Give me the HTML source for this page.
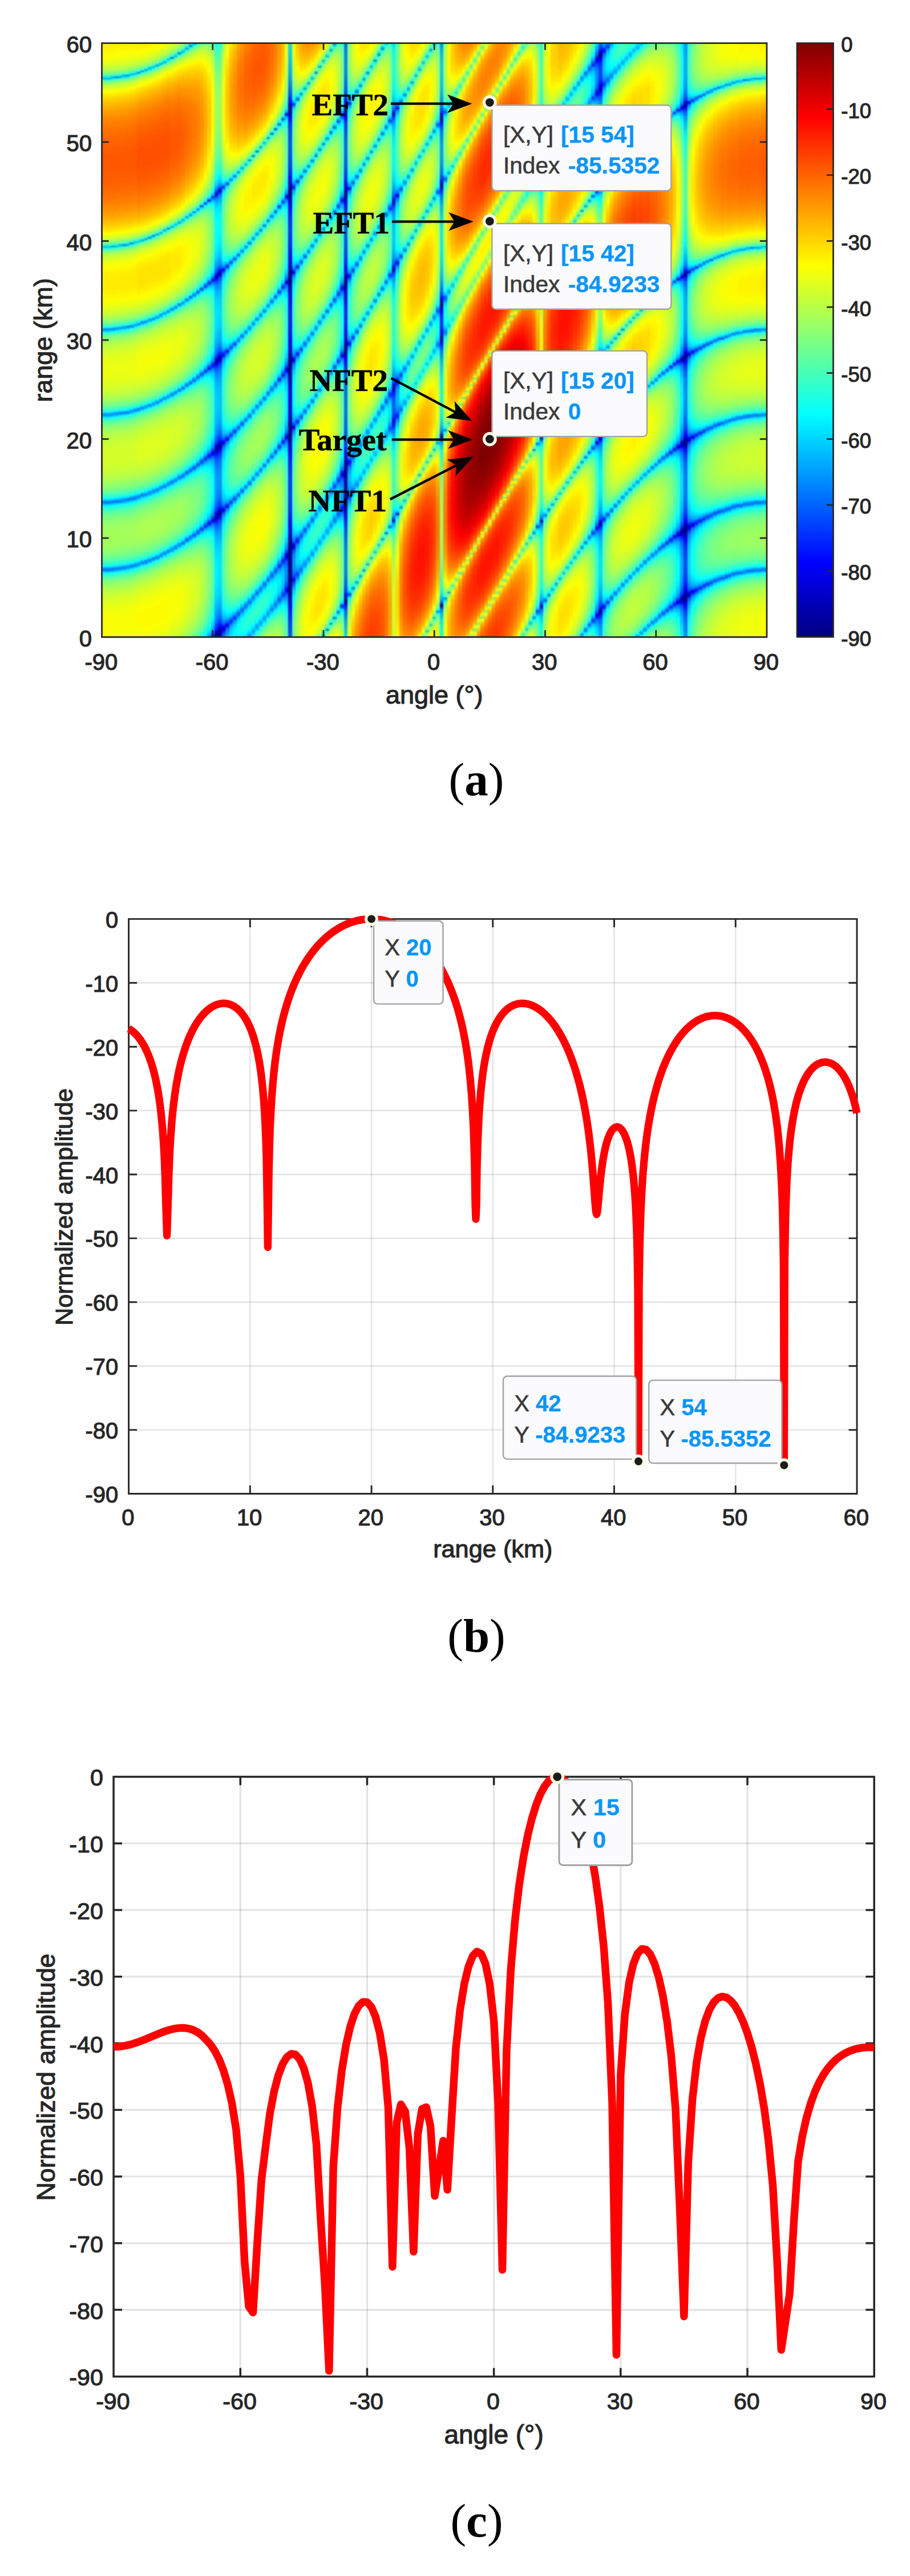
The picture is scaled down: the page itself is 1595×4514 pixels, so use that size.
<!DOCTYPE html>
<html><head><meta charset="utf-8"><title>Figure</title>
<style>html,body{margin:0;padding:0;background:#fff}svg{display:block}text{font-family:"Liberation Sans",sans-serif;fill:#262626;stroke:#262626;stroke-width:1.1px}.an text{font-family:"Liberation Serif",serif;font-weight:bold;fill:#000;stroke:#000;stroke-width:0.6px}.cap{font-family:"Liberation Serif",serif;fill:#000;stroke:none}.bd{font-weight:bold}.tl{fill:#3a3a3a;stroke:#3a3a3a;stroke-width:0.6px}.v{font-weight:bold;fill:#0895fa;stroke:#0895fa;stroke-width:0.3px}</style>
</head><body>
<svg width="1595" height="4514" viewBox="0 0 1595 4514">
<defs>
<linearGradient id="gT0" gradientUnits="userSpaceOnUse" x1="0" y1="1116.4" x2="0" y2="-184.73" spreadMethod="repeat"><stop offset="0%" stop-color="#d00000"/><stop offset="0.1%" stop-color="#d00000"/><stop offset="0.1%" stop-color="#cf0000"/><stop offset="0.5%" stop-color="#cf0000"/><stop offset="0.5%" stop-color="#ce0000"/><stop offset="0.9%" stop-color="#ce0000"/><stop offset="0.9%" stop-color="#cd0000"/><stop offset="1.1%" stop-color="#cd0000"/><stop offset="1.1%" stop-color="#cc0000"/><stop offset="1.3%" stop-color="#cc0000"/><stop offset="1.3%" stop-color="#cb0000"/><stop offset="1.5%" stop-color="#cb0000"/><stop offset="1.5%" stop-color="#c90000"/><stop offset="1.7%" stop-color="#c90000"/><stop offset="1.7%" stop-color="#c80000"/><stop offset="1.9%" stop-color="#c80000"/><stop offset="1.9%" stop-color="#c60000"/><stop offset="2.1%" stop-color="#c60000"/><stop offset="2.1%" stop-color="#c50000"/><stop offset="2.3%" stop-color="#c50000"/><stop offset="2.3%" stop-color="#c30000"/><stop offset="2.5%" stop-color="#c30000"/><stop offset="2.5%" stop-color="#c00000"/><stop offset="2.7%" stop-color="#c00000"/><stop offset="2.7%" stop-color="#be0000"/><stop offset="2.9%" stop-color="#be0000"/><stop offset="2.9%" stop-color="#bb0000"/><stop offset="3.1%" stop-color="#bb0000"/><stop offset="3.1%" stop-color="#b70000"/><stop offset="3.3%" stop-color="#b70000"/><stop offset="3.3%" stop-color="#b20000"/><stop offset="3.5%" stop-color="#b20000"/><stop offset="3.5%" stop-color="#ad0000"/><stop offset="3.7%" stop-color="#ad0000"/><stop offset="3.7%" stop-color="#a50000"/><stop offset="3.9%" stop-color="#a50000"/><stop offset="3.9%" stop-color="#9a0000"/><stop offset="4.1%" stop-color="#9a0000"/><stop offset="4.1%" stop-color="#830000"/><stop offset="4.3%" stop-color="#830000"/><stop offset="4.3%" stop-color="#740000"/><stop offset="4.5%" stop-color="#740000"/><stop offset="4.5%" stop-color="#950000"/><stop offset="4.7%" stop-color="#950000"/><stop offset="4.7%" stop-color="#a30000"/><stop offset="4.9%" stop-color="#a30000"/><stop offset="4.9%" stop-color="#ac0000"/><stop offset="5.1%" stop-color="#ac0000"/><stop offset="5.1%" stop-color="#b20000"/><stop offset="5.3%" stop-color="#b20000"/><stop offset="5.3%" stop-color="#b70000"/><stop offset="5.5%" stop-color="#b70000"/><stop offset="5.5%" stop-color="#bb0000"/><stop offset="5.7%" stop-color="#bb0000"/><stop offset="5.7%" stop-color="#bf0000"/><stop offset="5.9%" stop-color="#bf0000"/><stop offset="5.9%" stop-color="#c20000"/><stop offset="6.1%" stop-color="#c20000"/><stop offset="6.1%" stop-color="#c50000"/><stop offset="6.3%" stop-color="#c50000"/><stop offset="6.3%" stop-color="#c70000"/><stop offset="6.5%" stop-color="#c70000"/><stop offset="6.5%" stop-color="#ca0000"/><stop offset="6.7%" stop-color="#ca0000"/><stop offset="6.7%" stop-color="#cc0000"/><stop offset="6.9%" stop-color="#cc0000"/><stop offset="6.9%" stop-color="#cd0000"/><stop offset="7.1%" stop-color="#cd0000"/><stop offset="7.1%" stop-color="#cf0000"/><stop offset="7.3%" stop-color="#cf0000"/><stop offset="7.3%" stop-color="#d00000"/><stop offset="7.5%" stop-color="#d00000"/><stop offset="7.5%" stop-color="#d20000"/><stop offset="7.7%" stop-color="#d20000"/><stop offset="7.7%" stop-color="#d30000"/><stop offset="7.9%" stop-color="#d30000"/><stop offset="7.9%" stop-color="#d40000"/><stop offset="8.1%" stop-color="#d40000"/><stop offset="8.1%" stop-color="#d50000"/><stop offset="8.3%" stop-color="#d50000"/><stop offset="8.3%" stop-color="#d60000"/><stop offset="8.5%" stop-color="#d60000"/><stop offset="8.5%" stop-color="#d70000"/><stop offset="8.9%" stop-color="#d70000"/><stop offset="8.9%" stop-color="#d80000"/><stop offset="9.1%" stop-color="#d80000"/><stop offset="9.1%" stop-color="#d90000"/><stop offset="9.5%" stop-color="#d90000"/><stop offset="9.5%" stop-color="#da0000"/><stop offset="11.5%" stop-color="#da0000"/><stop offset="11.5%" stop-color="#d90000"/><stop offset="11.9%" stop-color="#d90000"/><stop offset="11.9%" stop-color="#d80000"/><stop offset="12.3%" stop-color="#d80000"/><stop offset="12.3%" stop-color="#d70000"/><stop offset="12.5%" stop-color="#d70000"/><stop offset="12.5%" stop-color="#d60000"/><stop offset="12.7%" stop-color="#d60000"/><stop offset="12.7%" stop-color="#d50000"/><stop offset="12.9%" stop-color="#d50000"/><stop offset="12.9%" stop-color="#d40000"/><stop offset="13.1%" stop-color="#d40000"/><stop offset="13.1%" stop-color="#d20000"/><stop offset="13.3%" stop-color="#d20000"/><stop offset="13.3%" stop-color="#d10000"/><stop offset="13.5%" stop-color="#d10000"/><stop offset="13.5%" stop-color="#cf0000"/><stop offset="13.7%" stop-color="#cf0000"/><stop offset="13.7%" stop-color="#cc0000"/><stop offset="13.9%" stop-color="#cc0000"/><stop offset="13.9%" stop-color="#ca0000"/><stop offset="14.1%" stop-color="#ca0000"/><stop offset="14.1%" stop-color="#c70000"/><stop offset="14.3%" stop-color="#c70000"/><stop offset="14.3%" stop-color="#c30000"/><stop offset="14.5%" stop-color="#c30000"/><stop offset="14.5%" stop-color="#bf0000"/><stop offset="14.7%" stop-color="#bf0000"/><stop offset="14.7%" stop-color="#b90000"/><stop offset="14.9%" stop-color="#b90000"/><stop offset="14.9%" stop-color="#b00000"/><stop offset="15.1%" stop-color="#b00000"/><stop offset="15.1%" stop-color="#a30000"/><stop offset="15.3%" stop-color="#a30000"/><stop offset="15.3%" stop-color="#810000"/><stop offset="15.5%" stop-color="#810000"/><stop offset="15.5%" stop-color="#930000"/><stop offset="15.7%" stop-color="#930000"/><stop offset="15.7%" stop-color="#aa0000"/><stop offset="15.9%" stop-color="#aa0000"/><stop offset="15.9%" stop-color="#b60000"/><stop offset="16.1%" stop-color="#b60000"/><stop offset="16.1%" stop-color="#be0000"/><stop offset="16.3%" stop-color="#be0000"/><stop offset="16.3%" stop-color="#c40000"/><stop offset="16.5%" stop-color="#c40000"/><stop offset="16.5%" stop-color="#c90000"/><stop offset="16.7%" stop-color="#c90000"/><stop offset="16.7%" stop-color="#ce0000"/><stop offset="16.9%" stop-color="#ce0000"/><stop offset="16.9%" stop-color="#d10000"/><stop offset="17.1%" stop-color="#d10000"/><stop offset="17.1%" stop-color="#d50000"/><stop offset="17.3%" stop-color="#d50000"/><stop offset="17.3%" stop-color="#d80000"/><stop offset="17.5%" stop-color="#d80000"/><stop offset="17.5%" stop-color="#da0000"/><stop offset="17.7%" stop-color="#da0000"/><stop offset="17.7%" stop-color="#dd0000"/><stop offset="17.9%" stop-color="#dd0000"/><stop offset="17.9%" stop-color="#df0000"/><stop offset="18.1%" stop-color="#df0000"/><stop offset="18.1%" stop-color="#e10000"/><stop offset="18.3%" stop-color="#e10000"/><stop offset="18.3%" stop-color="#e30000"/><stop offset="18.5%" stop-color="#e30000"/><stop offset="18.5%" stop-color="#e50000"/><stop offset="18.7%" stop-color="#e50000"/><stop offset="18.7%" stop-color="#e60000"/><stop offset="18.9%" stop-color="#e60000"/><stop offset="18.9%" stop-color="#e80000"/><stop offset="19.1%" stop-color="#e80000"/><stop offset="19.1%" stop-color="#e90000"/><stop offset="19.3%" stop-color="#e90000"/><stop offset="19.3%" stop-color="#eb0000"/><stop offset="19.5%" stop-color="#eb0000"/><stop offset="19.5%" stop-color="#ec0000"/><stop offset="19.7%" stop-color="#ec0000"/><stop offset="19.7%" stop-color="#ed0000"/><stop offset="19.9%" stop-color="#ed0000"/><stop offset="19.9%" stop-color="#ef0000"/><stop offset="20.1%" stop-color="#ef0000"/><stop offset="20.1%" stop-color="#f00000"/><stop offset="20.3%" stop-color="#f00000"/><stop offset="20.3%" stop-color="#f10000"/><stop offset="20.5%" stop-color="#f10000"/><stop offset="20.5%" stop-color="#f20000"/><stop offset="20.7%" stop-color="#f20000"/><stop offset="20.7%" stop-color="#f30000"/><stop offset="20.9%" stop-color="#f30000"/><stop offset="20.9%" stop-color="#f40000"/><stop offset="21.1%" stop-color="#f40000"/><stop offset="21.1%" stop-color="#f50000"/><stop offset="21.5%" stop-color="#f50000"/><stop offset="21.5%" stop-color="#f60000"/><stop offset="21.7%" stop-color="#f60000"/><stop offset="21.7%" stop-color="#f70000"/><stop offset="21.9%" stop-color="#f70000"/><stop offset="21.9%" stop-color="#f80000"/><stop offset="22.3%" stop-color="#f80000"/><stop offset="22.3%" stop-color="#f90000"/><stop offset="22.7%" stop-color="#f90000"/><stop offset="22.7%" stop-color="#fa0000"/><stop offset="23.1%" stop-color="#fa0000"/><stop offset="23.1%" stop-color="#fb0000"/><stop offset="23.5%" stop-color="#fb0000"/><stop offset="23.5%" stop-color="#fc0000"/><stop offset="23.9%" stop-color="#fc0000"/><stop offset="23.9%" stop-color="#fd0000"/><stop offset="24.5%" stop-color="#fd0000"/><stop offset="24.5%" stop-color="#fe0000"/><stop offset="25.5%" stop-color="#fe0000"/><stop offset="25.5%" stop-color="#ff0000"/><stop offset="27.9%" stop-color="#ff0000"/><stop offset="27.9%" stop-color="#fe0000"/><stop offset="28.9%" stop-color="#fe0000"/><stop offset="28.9%" stop-color="#fd0000"/><stop offset="29.5%" stop-color="#fd0000"/><stop offset="29.5%" stop-color="#fc0000"/><stop offset="30.1%" stop-color="#fc0000"/><stop offset="30.1%" stop-color="#fb0000"/><stop offset="30.5%" stop-color="#fb0000"/><stop offset="30.5%" stop-color="#fa0000"/><stop offset="30.9%" stop-color="#fa0000"/><stop offset="30.9%" stop-color="#f90000"/><stop offset="31.1%" stop-color="#f90000"/><stop offset="31.1%" stop-color="#f80000"/><stop offset="31.5%" stop-color="#f80000"/><stop offset="31.5%" stop-color="#f70000"/><stop offset="31.7%" stop-color="#f70000"/><stop offset="31.7%" stop-color="#f60000"/><stop offset="32.1%" stop-color="#f60000"/><stop offset="32.1%" stop-color="#f50000"/><stop offset="32.3%" stop-color="#f50000"/><stop offset="32.3%" stop-color="#f40000"/><stop offset="32.5%" stop-color="#f40000"/><stop offset="32.5%" stop-color="#f30000"/><stop offset="32.7%" stop-color="#f30000"/><stop offset="32.7%" stop-color="#f20000"/><stop offset="32.9%" stop-color="#f20000"/><stop offset="32.9%" stop-color="#f10000"/><stop offset="33.1%" stop-color="#f10000"/><stop offset="33.1%" stop-color="#f00000"/><stop offset="33.3%" stop-color="#f00000"/><stop offset="33.3%" stop-color="#ef0000"/><stop offset="33.5%" stop-color="#ef0000"/><stop offset="33.5%" stop-color="#ee0000"/><stop offset="33.7%" stop-color="#ee0000"/><stop offset="33.7%" stop-color="#ed0000"/><stop offset="33.9%" stop-color="#ed0000"/><stop offset="33.9%" stop-color="#ec0000"/><stop offset="34.1%" stop-color="#ec0000"/><stop offset="34.1%" stop-color="#ea0000"/><stop offset="34.3%" stop-color="#ea0000"/><stop offset="34.3%" stop-color="#e90000"/><stop offset="34.5%" stop-color="#e90000"/><stop offset="34.5%" stop-color="#e70000"/><stop offset="34.7%" stop-color="#e70000"/><stop offset="34.7%" stop-color="#e60000"/><stop offset="34.9%" stop-color="#e60000"/><stop offset="34.9%" stop-color="#e40000"/><stop offset="35.1%" stop-color="#e40000"/><stop offset="35.1%" stop-color="#e20000"/><stop offset="35.3%" stop-color="#e20000"/><stop offset="35.3%" stop-color="#e00000"/><stop offset="35.5%" stop-color="#e00000"/><stop offset="35.5%" stop-color="#de0000"/><stop offset="35.7%" stop-color="#de0000"/><stop offset="35.7%" stop-color="#dc0000"/><stop offset="35.9%" stop-color="#dc0000"/><stop offset="35.9%" stop-color="#da0000"/><stop offset="36.1%" stop-color="#da0000"/><stop offset="36.1%" stop-color="#d70000"/><stop offset="36.3%" stop-color="#d70000"/><stop offset="36.3%" stop-color="#d40000"/><stop offset="36.5%" stop-color="#d40000"/><stop offset="36.5%" stop-color="#d10000"/><stop offset="36.7%" stop-color="#d10000"/><stop offset="36.7%" stop-color="#ce0000"/><stop offset="36.9%" stop-color="#ce0000"/><stop offset="36.9%" stop-color="#c90000"/><stop offset="37.1%" stop-color="#c90000"/><stop offset="37.1%" stop-color="#c50000"/><stop offset="37.3%" stop-color="#c50000"/><stop offset="37.3%" stop-color="#bf0000"/><stop offset="37.5%" stop-color="#bf0000"/><stop offset="37.5%" stop-color="#b70000"/><stop offset="37.7%" stop-color="#b70000"/><stop offset="37.7%" stop-color="#ad0000"/><stop offset="37.9%" stop-color="#ad0000"/><stop offset="37.9%" stop-color="#9b0000"/><stop offset="38.1%" stop-color="#9b0000"/><stop offset="38.1%" stop-color="#740000"/><stop offset="38.3%" stop-color="#740000"/><stop offset="38.3%" stop-color="#9b0000"/><stop offset="38.5%" stop-color="#9b0000"/><stop offset="38.5%" stop-color="#ab0000"/><stop offset="38.7%" stop-color="#ab0000"/><stop offset="38.7%" stop-color="#b50000"/><stop offset="38.9%" stop-color="#b50000"/><stop offset="38.9%" stop-color="#bb0000"/><stop offset="39.1%" stop-color="#bb0000"/><stop offset="39.1%" stop-color="#c00000"/><stop offset="39.3%" stop-color="#c00000"/><stop offset="39.3%" stop-color="#c40000"/><stop offset="39.5%" stop-color="#c40000"/><stop offset="39.5%" stop-color="#c70000"/><stop offset="39.7%" stop-color="#c70000"/><stop offset="39.7%" stop-color="#ca0000"/><stop offset="39.9%" stop-color="#ca0000"/><stop offset="39.9%" stop-color="#cc0000"/><stop offset="40.1%" stop-color="#cc0000"/><stop offset="40.1%" stop-color="#ce0000"/><stop offset="40.3%" stop-color="#ce0000"/><stop offset="40.3%" stop-color="#d00000"/><stop offset="40.5%" stop-color="#d00000"/><stop offset="40.5%" stop-color="#d20000"/><stop offset="40.7%" stop-color="#d20000"/><stop offset="40.7%" stop-color="#d30000"/><stop offset="40.9%" stop-color="#d30000"/><stop offset="40.9%" stop-color="#d40000"/><stop offset="41.1%" stop-color="#d40000"/><stop offset="41.1%" stop-color="#d50000"/><stop offset="41.3%" stop-color="#d50000"/><stop offset="41.3%" stop-color="#d60000"/><stop offset="41.5%" stop-color="#d60000"/><stop offset="41.5%" stop-color="#d70000"/><stop offset="41.9%" stop-color="#d70000"/><stop offset="41.9%" stop-color="#d80000"/><stop offset="42.3%" stop-color="#d80000"/><stop offset="42.3%" stop-color="#d90000"/><stop offset="44.3%" stop-color="#d90000"/><stop offset="44.3%" stop-color="#d80000"/><stop offset="44.9%" stop-color="#d80000"/><stop offset="44.9%" stop-color="#d70000"/><stop offset="45.3%" stop-color="#d70000"/><stop offset="45.3%" stop-color="#d60000"/><stop offset="45.5%" stop-color="#d60000"/><stop offset="45.5%" stop-color="#d50000"/><stop offset="45.9%" stop-color="#d50000"/><stop offset="45.9%" stop-color="#d40000"/><stop offset="46.1%" stop-color="#d40000"/><stop offset="46.1%" stop-color="#d30000"/><stop offset="46.3%" stop-color="#d30000"/><stop offset="46.3%" stop-color="#d20000"/><stop offset="46.5%" stop-color="#d20000"/><stop offset="46.5%" stop-color="#d10000"/><stop offset="46.7%" stop-color="#d10000"/><stop offset="46.7%" stop-color="#d00000"/><stop offset="46.9%" stop-color="#d00000"/><stop offset="46.9%" stop-color="#cf0000"/><stop offset="47.1%" stop-color="#cf0000"/><stop offset="47.1%" stop-color="#cd0000"/><stop offset="47.3%" stop-color="#cd0000"/><stop offset="47.3%" stop-color="#cc0000"/><stop offset="47.5%" stop-color="#cc0000"/><stop offset="47.5%" stop-color="#cb0000"/><stop offset="47.7%" stop-color="#cb0000"/><stop offset="47.7%" stop-color="#c90000"/><stop offset="47.9%" stop-color="#c90000"/><stop offset="47.9%" stop-color="#c70000"/><stop offset="48.1%" stop-color="#c70000"/><stop offset="48.1%" stop-color="#c60000"/><stop offset="48.3%" stop-color="#c60000"/><stop offset="48.3%" stop-color="#c40000"/><stop offset="48.5%" stop-color="#c40000"/><stop offset="48.5%" stop-color="#c20000"/><stop offset="48.7%" stop-color="#c20000"/><stop offset="48.7%" stop-color="#bf0000"/><stop offset="48.9%" stop-color="#bf0000"/><stop offset="48.9%" stop-color="#bd0000"/><stop offset="49.1%" stop-color="#bd0000"/><stop offset="49.1%" stop-color="#ba0000"/><stop offset="49.3%" stop-color="#ba0000"/><stop offset="49.3%" stop-color="#b80000"/><stop offset="49.5%" stop-color="#b80000"/><stop offset="49.5%" stop-color="#b50000"/><stop offset="49.7%" stop-color="#b50000"/><stop offset="49.7%" stop-color="#b10000"/><stop offset="49.9%" stop-color="#b10000"/><stop offset="49.9%" stop-color="#ad0000"/><stop offset="50.1%" stop-color="#ad0000"/><stop offset="50.1%" stop-color="#a90000"/><stop offset="50.3%" stop-color="#a90000"/><stop offset="50.3%" stop-color="#a40000"/><stop offset="50.5%" stop-color="#a40000"/><stop offset="50.5%" stop-color="#9e0000"/><stop offset="50.7%" stop-color="#9e0000"/><stop offset="50.7%" stop-color="#970000"/><stop offset="50.9%" stop-color="#970000"/><stop offset="50.9%" stop-color="#8e0000"/><stop offset="51.1%" stop-color="#8e0000"/><stop offset="51.1%" stop-color="#830000"/><stop offset="51.3%" stop-color="#830000"/><stop offset="51.3%" stop-color="#7c0000"/><stop offset="51.5%" stop-color="#7c0000"/><stop offset="51.5%" stop-color="#810000"/><stop offset="51.7%" stop-color="#810000"/><stop offset="51.7%" stop-color="#8a0000"/><stop offset="51.9%" stop-color="#8a0000"/><stop offset="51.9%" stop-color="#910000"/><stop offset="52.1%" stop-color="#910000"/><stop offset="52.1%" stop-color="#960000"/><stop offset="52.3%" stop-color="#960000"/><stop offset="52.3%" stop-color="#9a0000"/><stop offset="52.5%" stop-color="#9a0000"/><stop offset="52.5%" stop-color="#9d0000"/><stop offset="52.7%" stop-color="#9d0000"/><stop offset="52.7%" stop-color="#9f0000"/><stop offset="52.9%" stop-color="#9f0000"/><stop offset="52.9%" stop-color="#a10000"/><stop offset="53.1%" stop-color="#a10000"/><stop offset="53.1%" stop-color="#a20000"/><stop offset="53.5%" stop-color="#a20000"/><stop offset="53.5%" stop-color="#a30000"/><stop offset="53.9%" stop-color="#a30000"/><stop offset="53.9%" stop-color="#a20000"/><stop offset="54.1%" stop-color="#a20000"/><stop offset="54.1%" stop-color="#a10000"/><stop offset="54.3%" stop-color="#a10000"/><stop offset="54.3%" stop-color="#a00000"/><stop offset="54.5%" stop-color="#a00000"/><stop offset="54.5%" stop-color="#9e0000"/><stop offset="54.7%" stop-color="#9e0000"/><stop offset="54.7%" stop-color="#9c0000"/><stop offset="54.9%" stop-color="#9c0000"/><stop offset="54.9%" stop-color="#980000"/><stop offset="55.1%" stop-color="#980000"/><stop offset="55.1%" stop-color="#940000"/><stop offset="55.3%" stop-color="#940000"/><stop offset="55.3%" stop-color="#8e0000"/><stop offset="55.5%" stop-color="#8e0000"/><stop offset="55.5%" stop-color="#850000"/><stop offset="55.7%" stop-color="#850000"/><stop offset="55.7%" stop-color="#750000"/><stop offset="55.9%" stop-color="#750000"/><stop offset="55.9%" stop-color="#740000"/><stop offset="56.1%" stop-color="#740000"/><stop offset="56.1%" stop-color="#770000"/><stop offset="56.3%" stop-color="#770000"/><stop offset="56.3%" stop-color="#890000"/><stop offset="56.5%" stop-color="#890000"/><stop offset="56.5%" stop-color="#930000"/><stop offset="56.7%" stop-color="#930000"/><stop offset="56.7%" stop-color="#9b0000"/><stop offset="56.9%" stop-color="#9b0000"/><stop offset="56.9%" stop-color="#a10000"/><stop offset="57.1%" stop-color="#a10000"/><stop offset="57.1%" stop-color="#a60000"/><stop offset="57.3%" stop-color="#a60000"/><stop offset="57.3%" stop-color="#aa0000"/><stop offset="57.5%" stop-color="#aa0000"/><stop offset="57.5%" stop-color="#ae0000"/><stop offset="57.7%" stop-color="#ae0000"/><stop offset="57.7%" stop-color="#b20000"/><stop offset="57.9%" stop-color="#b20000"/><stop offset="57.9%" stop-color="#b50000"/><stop offset="58.1%" stop-color="#b50000"/><stop offset="58.1%" stop-color="#b70000"/><stop offset="58.3%" stop-color="#b70000"/><stop offset="58.3%" stop-color="#ba0000"/><stop offset="58.5%" stop-color="#ba0000"/><stop offset="58.5%" stop-color="#bc0000"/><stop offset="58.7%" stop-color="#bc0000"/><stop offset="58.7%" stop-color="#be0000"/><stop offset="58.9%" stop-color="#be0000"/><stop offset="58.9%" stop-color="#c00000"/><stop offset="59.1%" stop-color="#c00000"/><stop offset="59.1%" stop-color="#c20000"/><stop offset="59.3%" stop-color="#c20000"/><stop offset="59.3%" stop-color="#c30000"/><stop offset="59.5%" stop-color="#c30000"/><stop offset="59.5%" stop-color="#c50000"/><stop offset="59.7%" stop-color="#c50000"/><stop offset="59.7%" stop-color="#c60000"/><stop offset="59.9%" stop-color="#c60000"/><stop offset="59.9%" stop-color="#c80000"/><stop offset="60.1%" stop-color="#c80000"/><stop offset="60.1%" stop-color="#c90000"/><stop offset="60.3%" stop-color="#c90000"/><stop offset="60.3%" stop-color="#ca0000"/><stop offset="60.5%" stop-color="#ca0000"/><stop offset="60.5%" stop-color="#cb0000"/><stop offset="60.7%" stop-color="#cb0000"/><stop offset="60.7%" stop-color="#cc0000"/><stop offset="60.9%" stop-color="#cc0000"/><stop offset="60.9%" stop-color="#cd0000"/><stop offset="61.1%" stop-color="#cd0000"/><stop offset="61.1%" stop-color="#ce0000"/><stop offset="61.3%" stop-color="#ce0000"/><stop offset="61.3%" stop-color="#cf0000"/><stop offset="61.5%" stop-color="#cf0000"/><stop offset="61.5%" stop-color="#d00000"/><stop offset="61.9%" stop-color="#d00000"/><stop offset="61.9%" stop-color="#d10000"/><stop offset="62.3%" stop-color="#d10000"/><stop offset="62.3%" stop-color="#d20000"/><stop offset="62.7%" stop-color="#d20000"/><stop offset="62.7%" stop-color="#d30000"/><stop offset="63.3%" stop-color="#d30000"/><stop offset="63.3%" stop-color="#d40000"/><stop offset="65.5%" stop-color="#d40000"/><stop offset="65.5%" stop-color="#d30000"/><stop offset="66.1%" stop-color="#d30000"/><stop offset="66.1%" stop-color="#d20000"/><stop offset="66.5%" stop-color="#d20000"/><stop offset="66.5%" stop-color="#d10000"/><stop offset="66.9%" stop-color="#d10000"/><stop offset="66.9%" stop-color="#d00000"/><stop offset="67.1%" stop-color="#d00000"/><stop offset="67.1%" stop-color="#cf0000"/><stop offset="67.5%" stop-color="#cf0000"/><stop offset="67.5%" stop-color="#ce0000"/><stop offset="67.7%" stop-color="#ce0000"/><stop offset="67.7%" stop-color="#cd0000"/><stop offset="67.9%" stop-color="#cd0000"/><stop offset="67.9%" stop-color="#cc0000"/><stop offset="68.1%" stop-color="#cc0000"/><stop offset="68.1%" stop-color="#cb0000"/><stop offset="68.3%" stop-color="#cb0000"/><stop offset="68.3%" stop-color="#ca0000"/><stop offset="68.5%" stop-color="#ca0000"/><stop offset="68.5%" stop-color="#c80000"/><stop offset="68.7%" stop-color="#c80000"/><stop offset="68.7%" stop-color="#c70000"/><stop offset="68.9%" stop-color="#c70000"/><stop offset="68.9%" stop-color="#c50000"/><stop offset="69.1%" stop-color="#c50000"/><stop offset="69.1%" stop-color="#c40000"/><stop offset="69.3%" stop-color="#c40000"/><stop offset="69.3%" stop-color="#c20000"/><stop offset="69.5%" stop-color="#c20000"/><stop offset="69.5%" stop-color="#c00000"/><stop offset="69.7%" stop-color="#c00000"/><stop offset="69.7%" stop-color="#be0000"/><stop offset="69.9%" stop-color="#be0000"/><stop offset="69.9%" stop-color="#bc0000"/><stop offset="70.1%" stop-color="#bc0000"/><stop offset="70.1%" stop-color="#b90000"/><stop offset="70.3%" stop-color="#b90000"/><stop offset="70.3%" stop-color="#b60000"/><stop offset="70.5%" stop-color="#b60000"/><stop offset="70.5%" stop-color="#b20000"/><stop offset="70.7%" stop-color="#b20000"/><stop offset="70.7%" stop-color="#af0000"/><stop offset="70.9%" stop-color="#af0000"/><stop offset="70.9%" stop-color="#aa0000"/><stop offset="71.1%" stop-color="#aa0000"/><stop offset="71.1%" stop-color="#a40000"/><stop offset="71.3%" stop-color="#a40000"/><stop offset="71.3%" stop-color="#9d0000"/><stop offset="71.5%" stop-color="#9d0000"/><stop offset="71.5%" stop-color="#930000"/><stop offset="71.7%" stop-color="#930000"/><stop offset="71.7%" stop-color="#810000"/><stop offset="71.9%" stop-color="#810000"/><stop offset="71.9%" stop-color="#740000"/><stop offset="72.1%" stop-color="#740000"/><stop offset="72.1%" stop-color="#810000"/><stop offset="72.3%" stop-color="#810000"/><stop offset="72.3%" stop-color="#920000"/><stop offset="72.5%" stop-color="#920000"/><stop offset="72.5%" stop-color="#9b0000"/><stop offset="72.7%" stop-color="#9b0000"/><stop offset="72.7%" stop-color="#a20000"/><stop offset="72.9%" stop-color="#a20000"/><stop offset="72.9%" stop-color="#a70000"/><stop offset="73.1%" stop-color="#a70000"/><stop offset="73.1%" stop-color="#ab0000"/><stop offset="73.3%" stop-color="#ab0000"/><stop offset="73.3%" stop-color="#ae0000"/><stop offset="73.5%" stop-color="#ae0000"/><stop offset="73.5%" stop-color="#b10000"/><stop offset="73.7%" stop-color="#b10000"/><stop offset="73.7%" stop-color="#b40000"/><stop offset="73.9%" stop-color="#b40000"/><stop offset="73.9%" stop-color="#b60000"/><stop offset="74.1%" stop-color="#b60000"/><stop offset="74.1%" stop-color="#b70000"/><stop offset="74.3%" stop-color="#b70000"/><stop offset="74.3%" stop-color="#b90000"/><stop offset="74.5%" stop-color="#b90000"/><stop offset="74.5%" stop-color="#ba0000"/><stop offset="74.7%" stop-color="#ba0000"/><stop offset="74.7%" stop-color="#bb0000"/><stop offset="74.9%" stop-color="#bb0000"/><stop offset="74.9%" stop-color="#bc0000"/><stop offset="75.1%" stop-color="#bc0000"/><stop offset="75.1%" stop-color="#bd0000"/><stop offset="75.3%" stop-color="#bd0000"/><stop offset="75.3%" stop-color="#be0000"/><stop offset="75.7%" stop-color="#be0000"/><stop offset="75.7%" stop-color="#bf0000"/><stop offset="77.3%" stop-color="#bf0000"/><stop offset="77.3%" stop-color="#be0000"/><stop offset="77.7%" stop-color="#be0000"/><stop offset="77.7%" stop-color="#bd0000"/><stop offset="77.9%" stop-color="#bd0000"/><stop offset="77.9%" stop-color="#bc0000"/><stop offset="78.1%" stop-color="#bc0000"/><stop offset="78.1%" stop-color="#bb0000"/><stop offset="78.3%" stop-color="#bb0000"/><stop offset="78.3%" stop-color="#ba0000"/><stop offset="78.5%" stop-color="#ba0000"/><stop offset="78.5%" stop-color="#b90000"/><stop offset="78.7%" stop-color="#b90000"/><stop offset="78.7%" stop-color="#b70000"/><stop offset="78.9%" stop-color="#b70000"/><stop offset="78.9%" stop-color="#b50000"/><stop offset="79.1%" stop-color="#b50000"/><stop offset="79.1%" stop-color="#b30000"/><stop offset="79.3%" stop-color="#b30000"/><stop offset="79.3%" stop-color="#b10000"/><stop offset="79.5%" stop-color="#b10000"/><stop offset="79.5%" stop-color="#ae0000"/><stop offset="79.7%" stop-color="#ae0000"/><stop offset="79.7%" stop-color="#ab0000"/><stop offset="79.9%" stop-color="#ab0000"/><stop offset="79.9%" stop-color="#a70000"/><stop offset="80.1%" stop-color="#a70000"/><stop offset="80.1%" stop-color="#a20000"/><stop offset="80.3%" stop-color="#a20000"/><stop offset="80.3%" stop-color="#9c0000"/><stop offset="80.5%" stop-color="#9c0000"/><stop offset="80.5%" stop-color="#940000"/><stop offset="80.7%" stop-color="#940000"/><stop offset="80.7%" stop-color="#860000"/><stop offset="80.9%" stop-color="#860000"/><stop offset="80.9%" stop-color="#740000"/><stop offset="81.1%" stop-color="#740000"/><stop offset="81.1%" stop-color="#750000"/><stop offset="81.3%" stop-color="#750000"/><stop offset="81.3%" stop-color="#8c0000"/><stop offset="81.5%" stop-color="#8c0000"/><stop offset="81.5%" stop-color="#980000"/><stop offset="81.7%" stop-color="#980000"/><stop offset="81.7%" stop-color="#a00000"/><stop offset="81.9%" stop-color="#a00000"/><stop offset="81.9%" stop-color="#a60000"/><stop offset="82.1%" stop-color="#a60000"/><stop offset="82.1%" stop-color="#aa0000"/><stop offset="82.3%" stop-color="#aa0000"/><stop offset="82.3%" stop-color="#ae0000"/><stop offset="82.5%" stop-color="#ae0000"/><stop offset="82.5%" stop-color="#b20000"/><stop offset="82.7%" stop-color="#b20000"/><stop offset="82.7%" stop-color="#b50000"/><stop offset="82.9%" stop-color="#b50000"/><stop offset="82.9%" stop-color="#b70000"/><stop offset="83.1%" stop-color="#b70000"/><stop offset="83.1%" stop-color="#ba0000"/><stop offset="83.3%" stop-color="#ba0000"/><stop offset="83.3%" stop-color="#bc0000"/><stop offset="83.5%" stop-color="#bc0000"/><stop offset="83.5%" stop-color="#be0000"/><stop offset="83.7%" stop-color="#be0000"/><stop offset="83.7%" stop-color="#bf0000"/><stop offset="83.9%" stop-color="#bf0000"/><stop offset="83.9%" stop-color="#c10000"/><stop offset="84.1%" stop-color="#c10000"/><stop offset="84.1%" stop-color="#c20000"/><stop offset="84.3%" stop-color="#c20000"/><stop offset="84.3%" stop-color="#c40000"/><stop offset="84.5%" stop-color="#c40000"/><stop offset="84.5%" stop-color="#c50000"/><stop offset="84.7%" stop-color="#c50000"/><stop offset="84.7%" stop-color="#c60000"/><stop offset="84.9%" stop-color="#c60000"/><stop offset="84.9%" stop-color="#c70000"/><stop offset="85.1%" stop-color="#c70000"/><stop offset="85.1%" stop-color="#c80000"/><stop offset="85.5%" stop-color="#c80000"/><stop offset="85.5%" stop-color="#c90000"/><stop offset="85.7%" stop-color="#c90000"/><stop offset="85.7%" stop-color="#ca0000"/><stop offset="86.3%" stop-color="#ca0000"/><stop offset="86.3%" stop-color="#cb0000"/><stop offset="88.3%" stop-color="#cb0000"/><stop offset="88.3%" stop-color="#ca0000"/><stop offset="88.7%" stop-color="#ca0000"/><stop offset="88.7%" stop-color="#c90000"/><stop offset="89.1%" stop-color="#c90000"/><stop offset="89.1%" stop-color="#c80000"/><stop offset="89.3%" stop-color="#c80000"/><stop offset="89.3%" stop-color="#c70000"/><stop offset="89.5%" stop-color="#c70000"/><stop offset="89.5%" stop-color="#c60000"/><stop offset="89.7%" stop-color="#c60000"/><stop offset="89.7%" stop-color="#c50000"/><stop offset="89.9%" stop-color="#c50000"/><stop offset="89.9%" stop-color="#c40000"/><stop offset="90.1%" stop-color="#c40000"/><stop offset="90.1%" stop-color="#c30000"/><stop offset="90.3%" stop-color="#c30000"/><stop offset="90.3%" stop-color="#c10000"/><stop offset="90.5%" stop-color="#c10000"/><stop offset="90.5%" stop-color="#bf0000"/><stop offset="90.7%" stop-color="#bf0000"/><stop offset="90.7%" stop-color="#bd0000"/><stop offset="90.9%" stop-color="#bd0000"/><stop offset="90.9%" stop-color="#bb0000"/><stop offset="91.1%" stop-color="#bb0000"/><stop offset="91.1%" stop-color="#b90000"/><stop offset="91.3%" stop-color="#b90000"/><stop offset="91.3%" stop-color="#b60000"/><stop offset="91.5%" stop-color="#b60000"/><stop offset="91.5%" stop-color="#b30000"/><stop offset="91.7%" stop-color="#b30000"/><stop offset="91.7%" stop-color="#af0000"/><stop offset="91.9%" stop-color="#af0000"/><stop offset="91.9%" stop-color="#aa0000"/><stop offset="92.1%" stop-color="#aa0000"/><stop offset="92.1%" stop-color="#a30000"/><stop offset="92.3%" stop-color="#a30000"/><stop offset="92.3%" stop-color="#9b0000"/><stop offset="92.5%" stop-color="#9b0000"/><stop offset="92.5%" stop-color="#8d0000"/><stop offset="92.7%" stop-color="#8d0000"/><stop offset="92.7%" stop-color="#740000"/><stop offset="92.9%" stop-color="#740000"/><stop offset="92.9%" stop-color="#7c0000"/><stop offset="93.1%" stop-color="#7c0000"/><stop offset="93.1%" stop-color="#930000"/><stop offset="93.3%" stop-color="#930000"/><stop offset="93.3%" stop-color="#9f0000"/><stop offset="93.5%" stop-color="#9f0000"/><stop offset="93.5%" stop-color="#a60000"/><stop offset="93.7%" stop-color="#a60000"/><stop offset="93.7%" stop-color="#ac0000"/><stop offset="93.9%" stop-color="#ac0000"/><stop offset="93.9%" stop-color="#b10000"/><stop offset="94.1%" stop-color="#b10000"/><stop offset="94.1%" stop-color="#b50000"/><stop offset="94.3%" stop-color="#b50000"/><stop offset="94.3%" stop-color="#b80000"/><stop offset="94.5%" stop-color="#b80000"/><stop offset="94.5%" stop-color="#bb0000"/><stop offset="94.7%" stop-color="#bb0000"/><stop offset="94.7%" stop-color="#be0000"/><stop offset="94.9%" stop-color="#be0000"/><stop offset="94.9%" stop-color="#c00000"/><stop offset="95.1%" stop-color="#c00000"/><stop offset="95.1%" stop-color="#c20000"/><stop offset="95.3%" stop-color="#c20000"/><stop offset="95.3%" stop-color="#c40000"/><stop offset="95.5%" stop-color="#c40000"/><stop offset="95.5%" stop-color="#c60000"/><stop offset="95.7%" stop-color="#c60000"/><stop offset="95.7%" stop-color="#c70000"/><stop offset="95.9%" stop-color="#c70000"/><stop offset="95.9%" stop-color="#c80000"/><stop offset="96.1%" stop-color="#c80000"/><stop offset="96.1%" stop-color="#ca0000"/><stop offset="96.3%" stop-color="#ca0000"/><stop offset="96.3%" stop-color="#cb0000"/><stop offset="96.5%" stop-color="#cb0000"/><stop offset="96.5%" stop-color="#cc0000"/><stop offset="96.7%" stop-color="#cc0000"/><stop offset="96.7%" stop-color="#cd0000"/><stop offset="97.1%" stop-color="#cd0000"/><stop offset="97.1%" stop-color="#ce0000"/><stop offset="97.3%" stop-color="#ce0000"/><stop offset="97.3%" stop-color="#cf0000"/><stop offset="97.7%" stop-color="#cf0000"/><stop offset="97.7%" stop-color="#d00000"/><stop offset="98.3%" stop-color="#d00000"/><stop offset="98.3%" stop-color="#d10000"/><stop offset="99.7%" stop-color="#d10000"/><stop offset="99.7%" stop-color="#d00000"/><stop offset="99.9%" stop-color="#d00000"/><stop offset="99.9%" stop-color="#d00000"/><stop offset="100%" stop-color="#d00000"/></linearGradient>
<linearGradient id="gT1" gradientUnits="userSpaceOnUse" x1="0" y1="1116.4" x2="0" y2="-184.73" spreadMethod="repeat"><stop offset="0%" stop-color="#d00000"/><stop offset="0.3%" stop-color="#d00000"/><stop offset="0.3%" stop-color="#cf0000"/><stop offset="0.7%" stop-color="#cf0000"/><stop offset="0.7%" stop-color="#ce0000"/><stop offset="0.9%" stop-color="#ce0000"/><stop offset="0.9%" stop-color="#cd0000"/><stop offset="1.1%" stop-color="#cd0000"/><stop offset="1.1%" stop-color="#cc0000"/><stop offset="1.3%" stop-color="#cc0000"/><stop offset="1.3%" stop-color="#cb0000"/><stop offset="1.5%" stop-color="#cb0000"/><stop offset="1.5%" stop-color="#ca0000"/><stop offset="1.7%" stop-color="#ca0000"/><stop offset="1.7%" stop-color="#c90000"/><stop offset="1.9%" stop-color="#c90000"/><stop offset="1.9%" stop-color="#c70000"/><stop offset="2.1%" stop-color="#c70000"/><stop offset="2.1%" stop-color="#c50000"/><stop offset="2.3%" stop-color="#c50000"/><stop offset="2.3%" stop-color="#c30000"/><stop offset="2.5%" stop-color="#c30000"/><stop offset="2.5%" stop-color="#c10000"/><stop offset="2.7%" stop-color="#c10000"/><stop offset="2.7%" stop-color="#bf0000"/><stop offset="2.9%" stop-color="#bf0000"/><stop offset="2.9%" stop-color="#bc0000"/><stop offset="3.1%" stop-color="#bc0000"/><stop offset="3.1%" stop-color="#b80000"/><stop offset="3.3%" stop-color="#b80000"/><stop offset="3.3%" stop-color="#b40000"/><stop offset="3.5%" stop-color="#b40000"/><stop offset="3.5%" stop-color="#af0000"/><stop offset="3.7%" stop-color="#af0000"/><stop offset="3.7%" stop-color="#a80000"/><stop offset="3.9%" stop-color="#a80000"/><stop offset="3.9%" stop-color="#9e0000"/><stop offset="4.1%" stop-color="#9e0000"/><stop offset="4.1%" stop-color="#8d0000"/><stop offset="4.3%" stop-color="#8d0000"/><stop offset="4.3%" stop-color="#740000"/><stop offset="4.5%" stop-color="#740000"/><stop offset="4.5%" stop-color="#8e0000"/><stop offset="4.7%" stop-color="#8e0000"/><stop offset="4.7%" stop-color="#9f0000"/><stop offset="4.9%" stop-color="#9f0000"/><stop offset="4.9%" stop-color="#a90000"/><stop offset="5.1%" stop-color="#a90000"/><stop offset="5.1%" stop-color="#b00000"/><stop offset="5.3%" stop-color="#b00000"/><stop offset="5.3%" stop-color="#b60000"/><stop offset="5.5%" stop-color="#b60000"/><stop offset="5.5%" stop-color="#ba0000"/><stop offset="5.7%" stop-color="#ba0000"/><stop offset="5.7%" stop-color="#be0000"/><stop offset="5.9%" stop-color="#be0000"/><stop offset="5.9%" stop-color="#c10000"/><stop offset="6.1%" stop-color="#c10000"/><stop offset="6.1%" stop-color="#c40000"/><stop offset="6.3%" stop-color="#c40000"/><stop offset="6.3%" stop-color="#c70000"/><stop offset="6.5%" stop-color="#c70000"/><stop offset="6.5%" stop-color="#c90000"/><stop offset="6.7%" stop-color="#c90000"/><stop offset="6.7%" stop-color="#cb0000"/><stop offset="6.9%" stop-color="#cb0000"/><stop offset="6.9%" stop-color="#cd0000"/><stop offset="7.1%" stop-color="#cd0000"/><stop offset="7.1%" stop-color="#ce0000"/><stop offset="7.3%" stop-color="#ce0000"/><stop offset="7.3%" stop-color="#d00000"/><stop offset="7.5%" stop-color="#d00000"/><stop offset="7.5%" stop-color="#d10000"/><stop offset="7.7%" stop-color="#d10000"/><stop offset="7.7%" stop-color="#d30000"/><stop offset="7.9%" stop-color="#d30000"/><stop offset="7.9%" stop-color="#d40000"/><stop offset="8.1%" stop-color="#d40000"/><stop offset="8.1%" stop-color="#d50000"/><stop offset="8.3%" stop-color="#d50000"/><stop offset="8.3%" stop-color="#d60000"/><stop offset="8.7%" stop-color="#d60000"/><stop offset="8.7%" stop-color="#d70000"/><stop offset="8.9%" stop-color="#d70000"/><stop offset="8.9%" stop-color="#d80000"/><stop offset="9.3%" stop-color="#d80000"/><stop offset="9.3%" stop-color="#d90000"/><stop offset="9.7%" stop-color="#d90000"/><stop offset="9.7%" stop-color="#da0000"/><stop offset="11.7%" stop-color="#da0000"/><stop offset="11.7%" stop-color="#d90000"/><stop offset="12.1%" stop-color="#d90000"/><stop offset="12.1%" stop-color="#d80000"/><stop offset="12.3%" stop-color="#d80000"/><stop offset="12.3%" stop-color="#d70000"/><stop offset="12.5%" stop-color="#d70000"/><stop offset="12.5%" stop-color="#d60000"/><stop offset="12.7%" stop-color="#d60000"/><stop offset="12.7%" stop-color="#d50000"/><stop offset="12.9%" stop-color="#d50000"/><stop offset="12.9%" stop-color="#d40000"/><stop offset="13.1%" stop-color="#d40000"/><stop offset="13.1%" stop-color="#d30000"/><stop offset="13.3%" stop-color="#d30000"/><stop offset="13.3%" stop-color="#d10000"/><stop offset="13.5%" stop-color="#d10000"/><stop offset="13.5%" stop-color="#cf0000"/><stop offset="13.7%" stop-color="#cf0000"/><stop offset="13.7%" stop-color="#cd0000"/><stop offset="13.9%" stop-color="#cd0000"/><stop offset="13.9%" stop-color="#cb0000"/><stop offset="14.1%" stop-color="#cb0000"/><stop offset="14.1%" stop-color="#c80000"/><stop offset="14.3%" stop-color="#c80000"/><stop offset="14.3%" stop-color="#c40000"/><stop offset="14.5%" stop-color="#c40000"/><stop offset="14.5%" stop-color="#c00000"/><stop offset="14.7%" stop-color="#c00000"/><stop offset="14.7%" stop-color="#bb0000"/><stop offset="14.9%" stop-color="#bb0000"/><stop offset="14.9%" stop-color="#b30000"/><stop offset="15.1%" stop-color="#b30000"/><stop offset="15.1%" stop-color="#a80000"/><stop offset="15.3%" stop-color="#a80000"/><stop offset="15.3%" stop-color="#920000"/><stop offset="15.5%" stop-color="#920000"/><stop offset="15.5%" stop-color="#820000"/><stop offset="15.7%" stop-color="#820000"/><stop offset="15.7%" stop-color="#a40000"/><stop offset="15.9%" stop-color="#a40000"/><stop offset="15.9%" stop-color="#b20000"/><stop offset="16.1%" stop-color="#b20000"/><stop offset="16.1%" stop-color="#bb0000"/><stop offset="16.3%" stop-color="#bb0000"/><stop offset="16.3%" stop-color="#c20000"/><stop offset="16.5%" stop-color="#c20000"/><stop offset="16.5%" stop-color="#c80000"/><stop offset="16.7%" stop-color="#c80000"/><stop offset="16.7%" stop-color="#cc0000"/><stop offset="16.9%" stop-color="#cc0000"/><stop offset="16.9%" stop-color="#d00000"/><stop offset="17.1%" stop-color="#d00000"/><stop offset="17.1%" stop-color="#d40000"/><stop offset="17.3%" stop-color="#d40000"/><stop offset="17.3%" stop-color="#d70000"/><stop offset="17.5%" stop-color="#d70000"/><stop offset="17.5%" stop-color="#d90000"/><stop offset="17.7%" stop-color="#d90000"/><stop offset="17.7%" stop-color="#dc0000"/><stop offset="17.9%" stop-color="#dc0000"/><stop offset="17.9%" stop-color="#de0000"/><stop offset="18.1%" stop-color="#de0000"/><stop offset="18.1%" stop-color="#e00000"/><stop offset="18.3%" stop-color="#e00000"/><stop offset="18.3%" stop-color="#e20000"/><stop offset="18.5%" stop-color="#e20000"/><stop offset="18.5%" stop-color="#e40000"/><stop offset="18.7%" stop-color="#e40000"/><stop offset="18.7%" stop-color="#e60000"/><stop offset="18.9%" stop-color="#e60000"/><stop offset="18.9%" stop-color="#e70000"/><stop offset="19.1%" stop-color="#e70000"/><stop offset="19.1%" stop-color="#e90000"/><stop offset="19.3%" stop-color="#e90000"/><stop offset="19.3%" stop-color="#ea0000"/><stop offset="19.5%" stop-color="#ea0000"/><stop offset="19.5%" stop-color="#ec0000"/><stop offset="19.7%" stop-color="#ec0000"/><stop offset="19.7%" stop-color="#ed0000"/><stop offset="19.9%" stop-color="#ed0000"/><stop offset="19.9%" stop-color="#ee0000"/><stop offset="20.1%" stop-color="#ee0000"/><stop offset="20.1%" stop-color="#ef0000"/><stop offset="20.3%" stop-color="#ef0000"/><stop offset="20.3%" stop-color="#f00000"/><stop offset="20.5%" stop-color="#f00000"/><stop offset="20.5%" stop-color="#f10000"/><stop offset="20.7%" stop-color="#f10000"/><stop offset="20.7%" stop-color="#f20000"/><stop offset="20.9%" stop-color="#f20000"/><stop offset="20.9%" stop-color="#f30000"/><stop offset="21.1%" stop-color="#f30000"/><stop offset="21.1%" stop-color="#f40000"/><stop offset="21.3%" stop-color="#f40000"/><stop offset="21.3%" stop-color="#f50000"/><stop offset="21.5%" stop-color="#f50000"/><stop offset="21.5%" stop-color="#f60000"/><stop offset="21.7%" stop-color="#f60000"/><stop offset="21.7%" stop-color="#f70000"/><stop offset="22.1%" stop-color="#f70000"/><stop offset="22.1%" stop-color="#f80000"/><stop offset="22.3%" stop-color="#f80000"/><stop offset="22.3%" stop-color="#f90000"/><stop offset="22.7%" stop-color="#f90000"/><stop offset="22.7%" stop-color="#fa0000"/><stop offset="23.1%" stop-color="#fa0000"/><stop offset="23.1%" stop-color="#fb0000"/><stop offset="23.5%" stop-color="#fb0000"/><stop offset="23.5%" stop-color="#fc0000"/><stop offset="23.9%" stop-color="#fc0000"/><stop offset="23.9%" stop-color="#fd0000"/><stop offset="24.7%" stop-color="#fd0000"/><stop offset="24.7%" stop-color="#fe0000"/><stop offset="25.5%" stop-color="#fe0000"/><stop offset="25.5%" stop-color="#ff0000"/><stop offset="28.1%" stop-color="#ff0000"/><stop offset="28.1%" stop-color="#fe0000"/><stop offset="28.9%" stop-color="#fe0000"/><stop offset="28.9%" stop-color="#fd0000"/><stop offset="29.5%" stop-color="#fd0000"/><stop offset="29.5%" stop-color="#fc0000"/><stop offset="30.1%" stop-color="#fc0000"/><stop offset="30.1%" stop-color="#fb0000"/><stop offset="30.5%" stop-color="#fb0000"/><stop offset="30.5%" stop-color="#fa0000"/><stop offset="30.9%" stop-color="#fa0000"/><stop offset="30.9%" stop-color="#f90000"/><stop offset="31.3%" stop-color="#f90000"/><stop offset="31.3%" stop-color="#f80000"/><stop offset="31.5%" stop-color="#f80000"/><stop offset="31.5%" stop-color="#f70000"/><stop offset="31.9%" stop-color="#f70000"/><stop offset="31.9%" stop-color="#f60000"/><stop offset="32.1%" stop-color="#f60000"/><stop offset="32.1%" stop-color="#f50000"/><stop offset="32.3%" stop-color="#f50000"/><stop offset="32.3%" stop-color="#f40000"/><stop offset="32.5%" stop-color="#f40000"/><stop offset="32.5%" stop-color="#f30000"/><stop offset="32.9%" stop-color="#f30000"/><stop offset="32.9%" stop-color="#f20000"/><stop offset="33.1%" stop-color="#f20000"/><stop offset="33.1%" stop-color="#f10000"/><stop offset="33.3%" stop-color="#f10000"/><stop offset="33.3%" stop-color="#f00000"/><stop offset="33.5%" stop-color="#f00000"/><stop offset="33.5%" stop-color="#ee0000"/><stop offset="33.7%" stop-color="#ee0000"/><stop offset="33.7%" stop-color="#ed0000"/><stop offset="33.9%" stop-color="#ed0000"/><stop offset="33.9%" stop-color="#ec0000"/><stop offset="34.1%" stop-color="#ec0000"/><stop offset="34.1%" stop-color="#eb0000"/><stop offset="34.3%" stop-color="#eb0000"/><stop offset="34.3%" stop-color="#e90000"/><stop offset="34.5%" stop-color="#e90000"/><stop offset="34.5%" stop-color="#e80000"/><stop offset="34.7%" stop-color="#e80000"/><stop offset="34.7%" stop-color="#e60000"/><stop offset="34.9%" stop-color="#e60000"/><stop offset="34.9%" stop-color="#e50000"/><stop offset="35.1%" stop-color="#e50000"/><stop offset="35.1%" stop-color="#e30000"/><stop offset="35.3%" stop-color="#e30000"/><stop offset="35.3%" stop-color="#e10000"/><stop offset="35.5%" stop-color="#e10000"/><stop offset="35.5%" stop-color="#df0000"/><stop offset="35.7%" stop-color="#df0000"/><stop offset="35.7%" stop-color="#dd0000"/><stop offset="35.9%" stop-color="#dd0000"/><stop offset="35.9%" stop-color="#db0000"/><stop offset="36.1%" stop-color="#db0000"/><stop offset="36.1%" stop-color="#d80000"/><stop offset="36.3%" stop-color="#d80000"/><stop offset="36.3%" stop-color="#d50000"/><stop offset="36.5%" stop-color="#d50000"/><stop offset="36.5%" stop-color="#d20000"/><stop offset="36.7%" stop-color="#d20000"/><stop offset="36.7%" stop-color="#cf0000"/><stop offset="36.9%" stop-color="#cf0000"/><stop offset="36.9%" stop-color="#cb0000"/><stop offset="37.1%" stop-color="#cb0000"/><stop offset="37.1%" stop-color="#c60000"/><stop offset="37.3%" stop-color="#c60000"/><stop offset="37.3%" stop-color="#c10000"/><stop offset="37.5%" stop-color="#c10000"/><stop offset="37.5%" stop-color="#ba0000"/><stop offset="37.7%" stop-color="#ba0000"/><stop offset="37.7%" stop-color="#b10000"/><stop offset="37.9%" stop-color="#b10000"/><stop offset="37.9%" stop-color="#a30000"/><stop offset="38.1%" stop-color="#a30000"/><stop offset="38.1%" stop-color="#800000"/><stop offset="38.3%" stop-color="#800000"/><stop offset="38.3%" stop-color="#910000"/><stop offset="38.5%" stop-color="#910000"/><stop offset="38.5%" stop-color="#a70000"/><stop offset="38.7%" stop-color="#a70000"/><stop offset="38.7%" stop-color="#b20000"/><stop offset="38.9%" stop-color="#b20000"/><stop offset="38.9%" stop-color="#b90000"/><stop offset="39.1%" stop-color="#b90000"/><stop offset="39.1%" stop-color="#bf0000"/><stop offset="39.3%" stop-color="#bf0000"/><stop offset="39.3%" stop-color="#c30000"/><stop offset="39.5%" stop-color="#c30000"/><stop offset="39.5%" stop-color="#c60000"/><stop offset="39.7%" stop-color="#c60000"/><stop offset="39.7%" stop-color="#c90000"/><stop offset="39.9%" stop-color="#c90000"/><stop offset="39.9%" stop-color="#cc0000"/><stop offset="40.1%" stop-color="#cc0000"/><stop offset="40.1%" stop-color="#ce0000"/><stop offset="40.3%" stop-color="#ce0000"/><stop offset="40.3%" stop-color="#d00000"/><stop offset="40.5%" stop-color="#d00000"/><stop offset="40.5%" stop-color="#d10000"/><stop offset="40.7%" stop-color="#d10000"/><stop offset="40.7%" stop-color="#d30000"/><stop offset="40.9%" stop-color="#d30000"/><stop offset="40.9%" stop-color="#d40000"/><stop offset="41.1%" stop-color="#d40000"/><stop offset="41.1%" stop-color="#d50000"/><stop offset="41.3%" stop-color="#d50000"/><stop offset="41.3%" stop-color="#d60000"/><stop offset="41.5%" stop-color="#d60000"/><stop offset="41.5%" stop-color="#d70000"/><stop offset="41.9%" stop-color="#d70000"/><stop offset="41.9%" stop-color="#d80000"/><stop offset="42.3%" stop-color="#d80000"/><stop offset="42.3%" stop-color="#d90000"/><stop offset="44.5%" stop-color="#d90000"/><stop offset="44.5%" stop-color="#d80000"/><stop offset="44.9%" stop-color="#d80000"/><stop offset="44.9%" stop-color="#d70000"/><stop offset="45.3%" stop-color="#d70000"/><stop offset="45.3%" stop-color="#d60000"/><stop offset="45.5%" stop-color="#d60000"/><stop offset="45.5%" stop-color="#d50000"/><stop offset="45.9%" stop-color="#d50000"/><stop offset="45.9%" stop-color="#d40000"/><stop offset="46.1%" stop-color="#d40000"/><stop offset="46.1%" stop-color="#d30000"/><stop offset="46.3%" stop-color="#d30000"/><stop offset="46.3%" stop-color="#d20000"/><stop offset="46.5%" stop-color="#d20000"/><stop offset="46.5%" stop-color="#d10000"/><stop offset="46.7%" stop-color="#d10000"/><stop offset="46.7%" stop-color="#d00000"/><stop offset="46.9%" stop-color="#d00000"/><stop offset="46.9%" stop-color="#cf0000"/><stop offset="47.1%" stop-color="#cf0000"/><stop offset="47.1%" stop-color="#ce0000"/><stop offset="47.3%" stop-color="#ce0000"/><stop offset="47.3%" stop-color="#cc0000"/><stop offset="47.5%" stop-color="#cc0000"/><stop offset="47.5%" stop-color="#cb0000"/><stop offset="47.7%" stop-color="#cb0000"/><stop offset="47.7%" stop-color="#c90000"/><stop offset="47.9%" stop-color="#c90000"/><stop offset="47.9%" stop-color="#c80000"/><stop offset="48.1%" stop-color="#c80000"/><stop offset="48.1%" stop-color="#c60000"/><stop offset="48.3%" stop-color="#c60000"/><stop offset="48.3%" stop-color="#c40000"/><stop offset="48.5%" stop-color="#c40000"/><stop offset="48.5%" stop-color="#c20000"/><stop offset="48.7%" stop-color="#c20000"/><stop offset="48.7%" stop-color="#c00000"/><stop offset="48.9%" stop-color="#c00000"/><stop offset="48.9%" stop-color="#be0000"/><stop offset="49.1%" stop-color="#be0000"/><stop offset="49.1%" stop-color="#bb0000"/><stop offset="49.3%" stop-color="#bb0000"/><stop offset="49.3%" stop-color="#b90000"/><stop offset="49.5%" stop-color="#b90000"/><stop offset="49.5%" stop-color="#b60000"/><stop offset="49.7%" stop-color="#b60000"/><stop offset="49.7%" stop-color="#b20000"/><stop offset="49.9%" stop-color="#b20000"/><stop offset="49.9%" stop-color="#af0000"/><stop offset="50.1%" stop-color="#af0000"/><stop offset="50.1%" stop-color="#ab0000"/><stop offset="50.3%" stop-color="#ab0000"/><stop offset="50.3%" stop-color="#a60000"/><stop offset="50.5%" stop-color="#a60000"/><stop offset="50.5%" stop-color="#a00000"/><stop offset="50.7%" stop-color="#a00000"/><stop offset="50.7%" stop-color="#9a0000"/><stop offset="50.9%" stop-color="#9a0000"/><stop offset="50.9%" stop-color="#910000"/><stop offset="51.1%" stop-color="#910000"/><stop offset="51.1%" stop-color="#870000"/><stop offset="51.3%" stop-color="#870000"/><stop offset="51.3%" stop-color="#7d0000"/><stop offset="51.5%" stop-color="#7d0000"/><stop offset="51.5%" stop-color="#7f0000"/><stop offset="51.7%" stop-color="#7f0000"/><stop offset="51.7%" stop-color="#870000"/><stop offset="51.9%" stop-color="#870000"/><stop offset="51.9%" stop-color="#8f0000"/><stop offset="52.1%" stop-color="#8f0000"/><stop offset="52.1%" stop-color="#950000"/><stop offset="52.3%" stop-color="#950000"/><stop offset="52.3%" stop-color="#990000"/><stop offset="52.5%" stop-color="#990000"/><stop offset="52.5%" stop-color="#9c0000"/><stop offset="52.7%" stop-color="#9c0000"/><stop offset="52.7%" stop-color="#9e0000"/><stop offset="52.9%" stop-color="#9e0000"/><stop offset="52.9%" stop-color="#a00000"/><stop offset="53.1%" stop-color="#a00000"/><stop offset="53.1%" stop-color="#a10000"/><stop offset="53.3%" stop-color="#a10000"/><stop offset="53.3%" stop-color="#a20000"/><stop offset="53.5%" stop-color="#a20000"/><stop offset="53.5%" stop-color="#a30000"/><stop offset="53.9%" stop-color="#a30000"/><stop offset="53.9%" stop-color="#a20000"/><stop offset="54.3%" stop-color="#a20000"/><stop offset="54.3%" stop-color="#a00000"/><stop offset="54.5%" stop-color="#a00000"/><stop offset="54.5%" stop-color="#9f0000"/><stop offset="54.7%" stop-color="#9f0000"/><stop offset="54.7%" stop-color="#9d0000"/><stop offset="54.9%" stop-color="#9d0000"/><stop offset="54.9%" stop-color="#9a0000"/><stop offset="55.1%" stop-color="#9a0000"/><stop offset="55.1%" stop-color="#960000"/><stop offset="55.3%" stop-color="#960000"/><stop offset="55.3%" stop-color="#900000"/><stop offset="55.5%" stop-color="#900000"/><stop offset="55.5%" stop-color="#890000"/><stop offset="55.7%" stop-color="#890000"/><stop offset="55.7%" stop-color="#7c0000"/><stop offset="55.9%" stop-color="#7c0000"/><stop offset="55.9%" stop-color="#740000"/><stop offset="56.3%" stop-color="#740000"/><stop offset="56.3%" stop-color="#840000"/><stop offset="56.5%" stop-color="#840000"/><stop offset="56.5%" stop-color="#900000"/><stop offset="56.7%" stop-color="#900000"/><stop offset="56.7%" stop-color="#990000"/><stop offset="56.9%" stop-color="#990000"/><stop offset="56.9%" stop-color="#9f0000"/><stop offset="57.1%" stop-color="#9f0000"/><stop offset="57.1%" stop-color="#a50000"/><stop offset="57.3%" stop-color="#a50000"/><stop offset="57.3%" stop-color="#a90000"/><stop offset="57.5%" stop-color="#a90000"/><stop offset="57.5%" stop-color="#ad0000"/><stop offset="57.7%" stop-color="#ad0000"/><stop offset="57.7%" stop-color="#b00000"/><stop offset="57.9%" stop-color="#b00000"/><stop offset="57.9%" stop-color="#b40000"/><stop offset="58.1%" stop-color="#b40000"/><stop offset="58.1%" stop-color="#b60000"/><stop offset="58.3%" stop-color="#b60000"/><stop offset="58.3%" stop-color="#b90000"/><stop offset="58.5%" stop-color="#b90000"/><stop offset="58.5%" stop-color="#bb0000"/><stop offset="58.7%" stop-color="#bb0000"/><stop offset="58.7%" stop-color="#bd0000"/><stop offset="58.9%" stop-color="#bd0000"/><stop offset="58.9%" stop-color="#bf0000"/><stop offset="59.1%" stop-color="#bf0000"/><stop offset="59.1%" stop-color="#c10000"/><stop offset="59.3%" stop-color="#c10000"/><stop offset="59.3%" stop-color="#c30000"/><stop offset="59.5%" stop-color="#c30000"/><stop offset="59.5%" stop-color="#c40000"/><stop offset="59.7%" stop-color="#c40000"/><stop offset="59.7%" stop-color="#c60000"/><stop offset="59.9%" stop-color="#c60000"/><stop offset="59.9%" stop-color="#c70000"/><stop offset="60.1%" stop-color="#c70000"/><stop offset="60.1%" stop-color="#c90000"/><stop offset="60.3%" stop-color="#c90000"/><stop offset="60.3%" stop-color="#ca0000"/><stop offset="60.5%" stop-color="#ca0000"/><stop offset="60.5%" stop-color="#cb0000"/><stop offset="60.7%" stop-color="#cb0000"/><stop offset="60.7%" stop-color="#cc0000"/><stop offset="60.9%" stop-color="#cc0000"/><stop offset="60.9%" stop-color="#cd0000"/><stop offset="61.1%" stop-color="#cd0000"/><stop offset="61.1%" stop-color="#ce0000"/><stop offset="61.3%" stop-color="#ce0000"/><stop offset="61.3%" stop-color="#cf0000"/><stop offset="61.7%" stop-color="#cf0000"/><stop offset="61.7%" stop-color="#d00000"/><stop offset="61.9%" stop-color="#d00000"/><stop offset="61.9%" stop-color="#d10000"/><stop offset="62.3%" stop-color="#d10000"/><stop offset="62.3%" stop-color="#d20000"/><stop offset="62.7%" stop-color="#d20000"/><stop offset="62.7%" stop-color="#d30000"/><stop offset="63.3%" stop-color="#d30000"/><stop offset="63.3%" stop-color="#d40000"/><stop offset="65.7%" stop-color="#d40000"/><stop offset="65.7%" stop-color="#d30000"/><stop offset="66.3%" stop-color="#d30000"/><stop offset="66.3%" stop-color="#d20000"/><stop offset="66.7%" stop-color="#d20000"/><stop offset="66.7%" stop-color="#d10000"/><stop offset="66.9%" stop-color="#d10000"/><stop offset="66.9%" stop-color="#d00000"/><stop offset="67.3%" stop-color="#d00000"/><stop offset="67.3%" stop-color="#cf0000"/><stop offset="67.5%" stop-color="#cf0000"/><stop offset="67.5%" stop-color="#ce0000"/><stop offset="67.7%" stop-color="#ce0000"/><stop offset="67.7%" stop-color="#cd0000"/><stop offset="67.9%" stop-color="#cd0000"/><stop offset="67.9%" stop-color="#cc0000"/><stop offset="68.1%" stop-color="#cc0000"/><stop offset="68.1%" stop-color="#cb0000"/><stop offset="68.3%" stop-color="#cb0000"/><stop offset="68.3%" stop-color="#ca0000"/><stop offset="68.5%" stop-color="#ca0000"/><stop offset="68.5%" stop-color="#c90000"/><stop offset="68.7%" stop-color="#c90000"/><stop offset="68.7%" stop-color="#c70000"/><stop offset="68.9%" stop-color="#c70000"/><stop offset="68.9%" stop-color="#c60000"/><stop offset="69.1%" stop-color="#c60000"/><stop offset="69.1%" stop-color="#c40000"/><stop offset="69.3%" stop-color="#c40000"/><stop offset="69.3%" stop-color="#c30000"/><stop offset="69.5%" stop-color="#c30000"/><stop offset="69.5%" stop-color="#c10000"/><stop offset="69.7%" stop-color="#c10000"/><stop offset="69.7%" stop-color="#bf0000"/><stop offset="69.9%" stop-color="#bf0000"/><stop offset="69.9%" stop-color="#bc0000"/><stop offset="70.1%" stop-color="#bc0000"/><stop offset="70.1%" stop-color="#ba0000"/><stop offset="70.3%" stop-color="#ba0000"/><stop offset="70.3%" stop-color="#b70000"/><stop offset="70.5%" stop-color="#b70000"/><stop offset="70.5%" stop-color="#b40000"/><stop offset="70.7%" stop-color="#b40000"/><stop offset="70.7%" stop-color="#b00000"/><stop offset="70.9%" stop-color="#b00000"/><stop offset="70.9%" stop-color="#ac0000"/><stop offset="71.1%" stop-color="#ac0000"/><stop offset="71.1%" stop-color="#a60000"/><stop offset="71.3%" stop-color="#a60000"/><stop offset="71.3%" stop-color="#a00000"/><stop offset="71.5%" stop-color="#a00000"/><stop offset="71.5%" stop-color="#970000"/><stop offset="71.7%" stop-color="#970000"/><stop offset="71.7%" stop-color="#890000"/><stop offset="71.9%" stop-color="#890000"/><stop offset="71.9%" stop-color="#740000"/><stop offset="72.1%" stop-color="#740000"/><stop offset="72.1%" stop-color="#770000"/><stop offset="72.3%" stop-color="#770000"/><stop offset="72.3%" stop-color="#8d0000"/><stop offset="72.5%" stop-color="#8d0000"/><stop offset="72.5%" stop-color="#980000"/><stop offset="72.7%" stop-color="#980000"/><stop offset="72.7%" stop-color="#a00000"/><stop offset="72.9%" stop-color="#a00000"/><stop offset="72.9%" stop-color="#a60000"/><stop offset="73.1%" stop-color="#a60000"/><stop offset="73.1%" stop-color="#aa0000"/><stop offset="73.3%" stop-color="#aa0000"/><stop offset="73.3%" stop-color="#ad0000"/><stop offset="73.5%" stop-color="#ad0000"/><stop offset="73.5%" stop-color="#b00000"/><stop offset="73.7%" stop-color="#b00000"/><stop offset="73.7%" stop-color="#b30000"/><stop offset="73.9%" stop-color="#b30000"/><stop offset="73.9%" stop-color="#b50000"/><stop offset="74.1%" stop-color="#b50000"/><stop offset="74.1%" stop-color="#b70000"/><stop offset="74.3%" stop-color="#b70000"/><stop offset="74.3%" stop-color="#b80000"/><stop offset="74.5%" stop-color="#b80000"/><stop offset="74.5%" stop-color="#ba0000"/><stop offset="74.7%" stop-color="#ba0000"/><stop offset="74.7%" stop-color="#bb0000"/><stop offset="74.9%" stop-color="#bb0000"/><stop offset="74.9%" stop-color="#bc0000"/><stop offset="75.1%" stop-color="#bc0000"/><stop offset="75.1%" stop-color="#bd0000"/><stop offset="75.3%" stop-color="#bd0000"/><stop offset="75.3%" stop-color="#be0000"/><stop offset="75.7%" stop-color="#be0000"/><stop offset="75.7%" stop-color="#bf0000"/><stop offset="77.3%" stop-color="#bf0000"/><stop offset="77.3%" stop-color="#be0000"/><stop offset="77.7%" stop-color="#be0000"/><stop offset="77.7%" stop-color="#bd0000"/><stop offset="77.9%" stop-color="#bd0000"/><stop offset="77.9%" stop-color="#bc0000"/><stop offset="78.1%" stop-color="#bc0000"/><stop offset="78.1%" stop-color="#bb0000"/><stop offset="78.3%" stop-color="#bb0000"/><stop offset="78.3%" stop-color="#ba0000"/><stop offset="78.5%" stop-color="#ba0000"/><stop offset="78.5%" stop-color="#b90000"/><stop offset="78.7%" stop-color="#b90000"/><stop offset="78.7%" stop-color="#b80000"/><stop offset="78.9%" stop-color="#b80000"/><stop offset="78.9%" stop-color="#b60000"/><stop offset="79.1%" stop-color="#b60000"/><stop offset="79.1%" stop-color="#b40000"/><stop offset="79.3%" stop-color="#b40000"/><stop offset="79.3%" stop-color="#b20000"/><stop offset="79.5%" stop-color="#b20000"/><stop offset="79.5%" stop-color="#af0000"/><stop offset="79.7%" stop-color="#af0000"/><stop offset="79.7%" stop-color="#ac0000"/><stop offset="79.9%" stop-color="#ac0000"/><stop offset="79.9%" stop-color="#a80000"/><stop offset="80.1%" stop-color="#a80000"/><stop offset="80.1%" stop-color="#a40000"/><stop offset="80.3%" stop-color="#a40000"/><stop offset="80.3%" stop-color="#9e0000"/><stop offset="80.5%" stop-color="#9e0000"/><stop offset="80.5%" stop-color="#970000"/><stop offset="80.7%" stop-color="#970000"/><stop offset="80.7%" stop-color="#8b0000"/><stop offset="80.9%" stop-color="#8b0000"/><stop offset="80.9%" stop-color="#750000"/><stop offset="81.1%" stop-color="#750000"/><stop offset="81.1%" stop-color="#740000"/><stop offset="81.3%" stop-color="#740000"/><stop offset="81.3%" stop-color="#860000"/><stop offset="81.5%" stop-color="#860000"/><stop offset="81.5%" stop-color="#940000"/><stop offset="81.7%" stop-color="#940000"/><stop offset="81.7%" stop-color="#9d0000"/><stop offset="81.9%" stop-color="#9d0000"/><stop offset="81.9%" stop-color="#a40000"/><stop offset="82.1%" stop-color="#a40000"/><stop offset="82.1%" stop-color="#a90000"/><stop offset="82.3%" stop-color="#a90000"/><stop offset="82.3%" stop-color="#ad0000"/><stop offset="82.5%" stop-color="#ad0000"/><stop offset="82.5%" stop-color="#b10000"/><stop offset="82.7%" stop-color="#b10000"/><stop offset="82.7%" stop-color="#b40000"/><stop offset="82.9%" stop-color="#b40000"/><stop offset="82.9%" stop-color="#b70000"/><stop offset="83.1%" stop-color="#b70000"/><stop offset="83.1%" stop-color="#b90000"/><stop offset="83.3%" stop-color="#b90000"/><stop offset="83.3%" stop-color="#bb0000"/><stop offset="83.5%" stop-color="#bb0000"/><stop offset="83.5%" stop-color="#bd0000"/><stop offset="83.7%" stop-color="#bd0000"/><stop offset="83.7%" stop-color="#bf0000"/><stop offset="83.9%" stop-color="#bf0000"/><stop offset="83.9%" stop-color="#c00000"/><stop offset="84.1%" stop-color="#c00000"/><stop offset="84.1%" stop-color="#c20000"/><stop offset="84.3%" stop-color="#c20000"/><stop offset="84.3%" stop-color="#c30000"/><stop offset="84.5%" stop-color="#c30000"/><stop offset="84.5%" stop-color="#c40000"/><stop offset="84.7%" stop-color="#c40000"/><stop offset="84.7%" stop-color="#c50000"/><stop offset="84.9%" stop-color="#c50000"/><stop offset="84.9%" stop-color="#c60000"/><stop offset="85.1%" stop-color="#c60000"/><stop offset="85.1%" stop-color="#c70000"/><stop offset="85.3%" stop-color="#c70000"/><stop offset="85.3%" stop-color="#c80000"/><stop offset="85.5%" stop-color="#c80000"/><stop offset="85.5%" stop-color="#c90000"/><stop offset="85.9%" stop-color="#c90000"/><stop offset="85.9%" stop-color="#ca0000"/><stop offset="86.3%" stop-color="#ca0000"/><stop offset="86.3%" stop-color="#cb0000"/><stop offset="88.3%" stop-color="#cb0000"/><stop offset="88.3%" stop-color="#ca0000"/><stop offset="88.9%" stop-color="#ca0000"/><stop offset="88.9%" stop-color="#c90000"/><stop offset="89.1%" stop-color="#c90000"/><stop offset="89.1%" stop-color="#c80000"/><stop offset="89.3%" stop-color="#c80000"/><stop offset="89.3%" stop-color="#c70000"/><stop offset="89.7%" stop-color="#c70000"/><stop offset="89.7%" stop-color="#c50000"/><stop offset="89.9%" stop-color="#c50000"/><stop offset="89.9%" stop-color="#c40000"/><stop offset="90.1%" stop-color="#c40000"/><stop offset="90.1%" stop-color="#c30000"/><stop offset="90.3%" stop-color="#c30000"/><stop offset="90.3%" stop-color="#c20000"/><stop offset="90.5%" stop-color="#c20000"/><stop offset="90.5%" stop-color="#c00000"/><stop offset="90.7%" stop-color="#c00000"/><stop offset="90.7%" stop-color="#be0000"/><stop offset="90.9%" stop-color="#be0000"/><stop offset="90.9%" stop-color="#bc0000"/><stop offset="91.1%" stop-color="#bc0000"/><stop offset="91.1%" stop-color="#ba0000"/><stop offset="91.3%" stop-color="#ba0000"/><stop offset="91.3%" stop-color="#b70000"/><stop offset="91.5%" stop-color="#b70000"/><stop offset="91.5%" stop-color="#b40000"/><stop offset="91.7%" stop-color="#b40000"/><stop offset="91.7%" stop-color="#b00000"/><stop offset="91.9%" stop-color="#b00000"/><stop offset="91.9%" stop-color="#ab0000"/><stop offset="92.1%" stop-color="#ab0000"/><stop offset="92.1%" stop-color="#a60000"/><stop offset="92.3%" stop-color="#a60000"/><stop offset="92.3%" stop-color="#9e0000"/><stop offset="92.5%" stop-color="#9e0000"/><stop offset="92.5%" stop-color="#930000"/><stop offset="92.7%" stop-color="#930000"/><stop offset="92.7%" stop-color="#7c0000"/><stop offset="92.9%" stop-color="#7c0000"/><stop offset="92.9%" stop-color="#740000"/><stop offset="93.1%" stop-color="#740000"/><stop offset="93.1%" stop-color="#8d0000"/><stop offset="93.3%" stop-color="#8d0000"/><stop offset="93.3%" stop-color="#9b0000"/><stop offset="93.5%" stop-color="#9b0000"/><stop offset="93.5%" stop-color="#a40000"/><stop offset="93.7%" stop-color="#a40000"/><stop offset="93.7%" stop-color="#ab0000"/><stop offset="93.9%" stop-color="#ab0000"/><stop offset="93.9%" stop-color="#b00000"/><stop offset="94.1%" stop-color="#b00000"/><stop offset="94.1%" stop-color="#b40000"/><stop offset="94.3%" stop-color="#b40000"/><stop offset="94.3%" stop-color="#b70000"/><stop offset="94.5%" stop-color="#b70000"/><stop offset="94.5%" stop-color="#ba0000"/><stop offset="94.7%" stop-color="#ba0000"/><stop offset="94.7%" stop-color="#bd0000"/><stop offset="94.9%" stop-color="#bd0000"/><stop offset="94.9%" stop-color="#bf0000"/><stop offset="95.1%" stop-color="#bf0000"/><stop offset="95.1%" stop-color="#c20000"/><stop offset="95.3%" stop-color="#c20000"/><stop offset="95.3%" stop-color="#c30000"/><stop offset="95.5%" stop-color="#c30000"/><stop offset="95.5%" stop-color="#c50000"/><stop offset="95.7%" stop-color="#c50000"/><stop offset="95.7%" stop-color="#c70000"/><stop offset="95.9%" stop-color="#c70000"/><stop offset="95.9%" stop-color="#c80000"/><stop offset="96.1%" stop-color="#c80000"/><stop offset="96.1%" stop-color="#c90000"/><stop offset="96.3%" stop-color="#c90000"/><stop offset="96.3%" stop-color="#ca0000"/><stop offset="96.5%" stop-color="#ca0000"/><stop offset="96.5%" stop-color="#cb0000"/><stop offset="96.7%" stop-color="#cb0000"/><stop offset="96.7%" stop-color="#cc0000"/><stop offset="96.9%" stop-color="#cc0000"/><stop offset="96.9%" stop-color="#cd0000"/><stop offset="97.1%" stop-color="#cd0000"/><stop offset="97.1%" stop-color="#ce0000"/><stop offset="97.3%" stop-color="#ce0000"/><stop offset="97.3%" stop-color="#cf0000"/><stop offset="97.7%" stop-color="#cf0000"/><stop offset="97.7%" stop-color="#d00000"/><stop offset="98.3%" stop-color="#d00000"/><stop offset="98.3%" stop-color="#d10000"/><stop offset="99.7%" stop-color="#d10000"/><stop offset="99.7%" stop-color="#d00000"/><stop offset="99.9%" stop-color="#d00000"/><stop offset="99.9%" stop-color="#d00000"/><stop offset="100%" stop-color="#d00000"/></linearGradient>
<linearGradient id="gT2" gradientUnits="userSpaceOnUse" x1="0" y1="1116.4" x2="0" y2="-184.73" spreadMethod="repeat"><stop offset="0%" stop-color="#d00000"/><stop offset="0.3%" stop-color="#d00000"/><stop offset="0.3%" stop-color="#cf0000"/><stop offset="0.7%" stop-color="#cf0000"/><stop offset="0.7%" stop-color="#ce0000"/><stop offset="0.9%" stop-color="#ce0000"/><stop offset="0.9%" stop-color="#cd0000"/><stop offset="1.1%" stop-color="#cd0000"/><stop offset="1.1%" stop-color="#cc0000"/><stop offset="1.3%" stop-color="#cc0000"/><stop offset="1.3%" stop-color="#cb0000"/><stop offset="1.5%" stop-color="#cb0000"/><stop offset="1.5%" stop-color="#ca0000"/><stop offset="1.7%" stop-color="#ca0000"/><stop offset="1.7%" stop-color="#c90000"/><stop offset="1.9%" stop-color="#c90000"/><stop offset="1.9%" stop-color="#c80000"/><stop offset="2.1%" stop-color="#c80000"/><stop offset="2.1%" stop-color="#c60000"/><stop offset="2.3%" stop-color="#c60000"/><stop offset="2.3%" stop-color="#c40000"/><stop offset="2.5%" stop-color="#c40000"/><stop offset="2.5%" stop-color="#c20000"/><stop offset="2.7%" stop-color="#c20000"/><stop offset="2.7%" stop-color="#c00000"/><stop offset="2.9%" stop-color="#c00000"/><stop offset="2.9%" stop-color="#bd0000"/><stop offset="3.1%" stop-color="#bd0000"/><stop offset="3.1%" stop-color="#b90000"/><stop offset="3.3%" stop-color="#b90000"/><stop offset="3.3%" stop-color="#b60000"/><stop offset="3.5%" stop-color="#b60000"/><stop offset="3.5%" stop-color="#b10000"/><stop offset="3.7%" stop-color="#b10000"/><stop offset="3.7%" stop-color="#aa0000"/><stop offset="3.9%" stop-color="#aa0000"/><stop offset="3.9%" stop-color="#a20000"/><stop offset="4.1%" stop-color="#a20000"/><stop offset="4.1%" stop-color="#940000"/><stop offset="4.3%" stop-color="#940000"/><stop offset="4.3%" stop-color="#740000"/><stop offset="4.5%" stop-color="#740000"/><stop offset="4.5%" stop-color="#840000"/><stop offset="4.7%" stop-color="#840000"/><stop offset="4.7%" stop-color="#9a0000"/><stop offset="4.9%" stop-color="#9a0000"/><stop offset="4.9%" stop-color="#a60000"/><stop offset="5.1%" stop-color="#a60000"/><stop offset="5.1%" stop-color="#ae0000"/><stop offset="5.3%" stop-color="#ae0000"/><stop offset="5.3%" stop-color="#b40000"/><stop offset="5.5%" stop-color="#b40000"/><stop offset="5.5%" stop-color="#b90000"/><stop offset="5.7%" stop-color="#b90000"/><stop offset="5.7%" stop-color="#bd0000"/><stop offset="5.9%" stop-color="#bd0000"/><stop offset="5.9%" stop-color="#c00000"/><stop offset="6.1%" stop-color="#c00000"/><stop offset="6.1%" stop-color="#c30000"/><stop offset="6.3%" stop-color="#c30000"/><stop offset="6.3%" stop-color="#c60000"/><stop offset="6.5%" stop-color="#c60000"/><stop offset="6.5%" stop-color="#c80000"/><stop offset="6.7%" stop-color="#c80000"/><stop offset="6.7%" stop-color="#ca0000"/><stop offset="6.9%" stop-color="#ca0000"/><stop offset="6.9%" stop-color="#cc0000"/><stop offset="7.1%" stop-color="#cc0000"/><stop offset="7.1%" stop-color="#ce0000"/><stop offset="7.3%" stop-color="#ce0000"/><stop offset="7.3%" stop-color="#cf0000"/><stop offset="7.5%" stop-color="#cf0000"/><stop offset="7.5%" stop-color="#d10000"/><stop offset="7.7%" stop-color="#d10000"/><stop offset="7.7%" stop-color="#d20000"/><stop offset="7.9%" stop-color="#d20000"/><stop offset="7.9%" stop-color="#d30000"/><stop offset="8.1%" stop-color="#d30000"/><stop offset="8.1%" stop-color="#d40000"/><stop offset="8.3%" stop-color="#d40000"/><stop offset="8.3%" stop-color="#d50000"/><stop offset="8.5%" stop-color="#d50000"/><stop offset="8.5%" stop-color="#d60000"/><stop offset="8.7%" stop-color="#d60000"/><stop offset="8.7%" stop-color="#d70000"/><stop offset="8.9%" stop-color="#d70000"/><stop offset="8.9%" stop-color="#d80000"/><stop offset="9.3%" stop-color="#d80000"/><stop offset="9.3%" stop-color="#d90000"/><stop offset="9.7%" stop-color="#d90000"/><stop offset="9.7%" stop-color="#da0000"/><stop offset="11.7%" stop-color="#da0000"/><stop offset="11.7%" stop-color="#d90000"/><stop offset="12.1%" stop-color="#d90000"/><stop offset="12.1%" stop-color="#d80000"/><stop offset="12.3%" stop-color="#d80000"/><stop offset="12.3%" stop-color="#d70000"/><stop offset="12.7%" stop-color="#d70000"/><stop offset="12.7%" stop-color="#d60000"/><stop offset="12.9%" stop-color="#d60000"/><stop offset="12.9%" stop-color="#d40000"/><stop offset="13.1%" stop-color="#d40000"/><stop offset="13.1%" stop-color="#d30000"/><stop offset="13.3%" stop-color="#d30000"/><stop offset="13.3%" stop-color="#d20000"/><stop offset="13.5%" stop-color="#d20000"/><stop offset="13.5%" stop-color="#d00000"/><stop offset="13.7%" stop-color="#d00000"/><stop offset="13.7%" stop-color="#ce0000"/><stop offset="13.9%" stop-color="#ce0000"/><stop offset="13.9%" stop-color="#cc0000"/><stop offset="14.1%" stop-color="#cc0000"/><stop offset="14.1%" stop-color="#c90000"/><stop offset="14.3%" stop-color="#c90000"/><stop offset="14.3%" stop-color="#c60000"/><stop offset="14.5%" stop-color="#c60000"/><stop offset="14.5%" stop-color="#c20000"/><stop offset="14.7%" stop-color="#c20000"/><stop offset="14.7%" stop-color="#bd0000"/><stop offset="14.9%" stop-color="#bd0000"/><stop offset="14.9%" stop-color="#b60000"/><stop offset="15.1%" stop-color="#b60000"/><stop offset="15.1%" stop-color="#ad0000"/><stop offset="15.3%" stop-color="#ad0000"/><stop offset="15.3%" stop-color="#9c0000"/><stop offset="15.5%" stop-color="#9c0000"/><stop offset="15.5%" stop-color="#740000"/><stop offset="15.7%" stop-color="#740000"/><stop offset="15.7%" stop-color="#9d0000"/><stop offset="15.9%" stop-color="#9d0000"/><stop offset="15.9%" stop-color="#ae0000"/><stop offset="16.1%" stop-color="#ae0000"/><stop offset="16.1%" stop-color="#b90000"/><stop offset="16.3%" stop-color="#b90000"/><stop offset="16.3%" stop-color="#c00000"/><stop offset="16.5%" stop-color="#c00000"/><stop offset="16.5%" stop-color="#c60000"/><stop offset="16.7%" stop-color="#c60000"/><stop offset="16.7%" stop-color="#cb0000"/><stop offset="16.9%" stop-color="#cb0000"/><stop offset="16.9%" stop-color="#cf0000"/><stop offset="17.1%" stop-color="#cf0000"/><stop offset="17.1%" stop-color="#d20000"/><stop offset="17.3%" stop-color="#d20000"/><stop offset="17.3%" stop-color="#d60000"/><stop offset="17.5%" stop-color="#d60000"/><stop offset="17.5%" stop-color="#d80000"/><stop offset="17.7%" stop-color="#d80000"/><stop offset="17.7%" stop-color="#db0000"/><stop offset="17.9%" stop-color="#db0000"/><stop offset="17.9%" stop-color="#dd0000"/><stop offset="18.1%" stop-color="#dd0000"/><stop offset="18.1%" stop-color="#e00000"/><stop offset="18.3%" stop-color="#e00000"/><stop offset="18.3%" stop-color="#e20000"/><stop offset="18.5%" stop-color="#e20000"/><stop offset="18.5%" stop-color="#e40000"/><stop offset="18.7%" stop-color="#e40000"/><stop offset="18.7%" stop-color="#e50000"/><stop offset="18.9%" stop-color="#e50000"/><stop offset="18.9%" stop-color="#e70000"/><stop offset="19.1%" stop-color="#e70000"/><stop offset="19.1%" stop-color="#e80000"/><stop offset="19.3%" stop-color="#e80000"/><stop offset="19.3%" stop-color="#ea0000"/><stop offset="19.5%" stop-color="#ea0000"/><stop offset="19.5%" stop-color="#eb0000"/><stop offset="19.7%" stop-color="#eb0000"/><stop offset="19.7%" stop-color="#ed0000"/><stop offset="19.9%" stop-color="#ed0000"/><stop offset="19.9%" stop-color="#ee0000"/><stop offset="20.1%" stop-color="#ee0000"/><stop offset="20.1%" stop-color="#ef0000"/><stop offset="20.3%" stop-color="#ef0000"/><stop offset="20.3%" stop-color="#f00000"/><stop offset="20.5%" stop-color="#f00000"/><stop offset="20.5%" stop-color="#f10000"/><stop offset="20.7%" stop-color="#f10000"/><stop offset="20.7%" stop-color="#f20000"/><stop offset="20.9%" stop-color="#f20000"/><stop offset="20.9%" stop-color="#f30000"/><stop offset="21.1%" stop-color="#f30000"/><stop offset="21.1%" stop-color="#f40000"/><stop offset="21.3%" stop-color="#f40000"/><stop offset="21.3%" stop-color="#f50000"/><stop offset="21.5%" stop-color="#f50000"/><stop offset="21.5%" stop-color="#f60000"/><stop offset="21.9%" stop-color="#f60000"/><stop offset="21.9%" stop-color="#f70000"/><stop offset="22.1%" stop-color="#f70000"/><stop offset="22.1%" stop-color="#f80000"/><stop offset="22.5%" stop-color="#f80000"/><stop offset="22.5%" stop-color="#f90000"/><stop offset="22.7%" stop-color="#f90000"/><stop offset="22.7%" stop-color="#fa0000"/><stop offset="23.1%" stop-color="#fa0000"/><stop offset="23.1%" stop-color="#fb0000"/><stop offset="23.5%" stop-color="#fb0000"/><stop offset="23.5%" stop-color="#fc0000"/><stop offset="24.1%" stop-color="#fc0000"/><stop offset="24.1%" stop-color="#fd0000"/><stop offset="24.7%" stop-color="#fd0000"/><stop offset="24.7%" stop-color="#fe0000"/><stop offset="25.5%" stop-color="#fe0000"/><stop offset="25.5%" stop-color="#ff0000"/><stop offset="28.1%" stop-color="#ff0000"/><stop offset="28.1%" stop-color="#fe0000"/><stop offset="29.1%" stop-color="#fe0000"/><stop offset="29.1%" stop-color="#fd0000"/><stop offset="29.7%" stop-color="#fd0000"/><stop offset="29.7%" stop-color="#fc0000"/><stop offset="30.1%" stop-color="#fc0000"/><stop offset="30.1%" stop-color="#fb0000"/><stop offset="30.5%" stop-color="#fb0000"/><stop offset="30.5%" stop-color="#fa0000"/><stop offset="30.9%" stop-color="#fa0000"/><stop offset="30.9%" stop-color="#f90000"/><stop offset="31.3%" stop-color="#f90000"/><stop offset="31.3%" stop-color="#f80000"/><stop offset="31.7%" stop-color="#f80000"/><stop offset="31.7%" stop-color="#f70000"/><stop offset="31.9%" stop-color="#f70000"/><stop offset="31.9%" stop-color="#f60000"/><stop offset="32.1%" stop-color="#f60000"/><stop offset="32.1%" stop-color="#f50000"/><stop offset="32.5%" stop-color="#f50000"/><stop offset="32.5%" stop-color="#f40000"/><stop offset="32.7%" stop-color="#f40000"/><stop offset="32.7%" stop-color="#f30000"/><stop offset="32.9%" stop-color="#f30000"/><stop offset="32.9%" stop-color="#f20000"/><stop offset="33.1%" stop-color="#f20000"/><stop offset="33.1%" stop-color="#f10000"/><stop offset="33.3%" stop-color="#f10000"/><stop offset="33.3%" stop-color="#f00000"/><stop offset="33.5%" stop-color="#f00000"/><stop offset="33.5%" stop-color="#ef0000"/><stop offset="33.7%" stop-color="#ef0000"/><stop offset="33.7%" stop-color="#ee0000"/><stop offset="33.9%" stop-color="#ee0000"/><stop offset="33.9%" stop-color="#ec0000"/><stop offset="34.1%" stop-color="#ec0000"/><stop offset="34.1%" stop-color="#eb0000"/><stop offset="34.3%" stop-color="#eb0000"/><stop offset="34.3%" stop-color="#ea0000"/><stop offset="34.5%" stop-color="#ea0000"/><stop offset="34.5%" stop-color="#e80000"/><stop offset="34.7%" stop-color="#e80000"/><stop offset="34.7%" stop-color="#e70000"/><stop offset="34.9%" stop-color="#e70000"/><stop offset="34.9%" stop-color="#e50000"/><stop offset="35.1%" stop-color="#e50000"/><stop offset="35.1%" stop-color="#e40000"/><stop offset="35.3%" stop-color="#e40000"/><stop offset="35.3%" stop-color="#e20000"/><stop offset="35.5%" stop-color="#e20000"/><stop offset="35.5%" stop-color="#e00000"/><stop offset="35.7%" stop-color="#e00000"/><stop offset="35.7%" stop-color="#de0000"/><stop offset="35.9%" stop-color="#de0000"/><stop offset="35.9%" stop-color="#db0000"/><stop offset="36.1%" stop-color="#db0000"/><stop offset="36.1%" stop-color="#d90000"/><stop offset="36.3%" stop-color="#d90000"/><stop offset="36.3%" stop-color="#d60000"/><stop offset="36.5%" stop-color="#d60000"/><stop offset="36.5%" stop-color="#d30000"/><stop offset="36.7%" stop-color="#d30000"/><stop offset="36.7%" stop-color="#d00000"/><stop offset="36.9%" stop-color="#d00000"/><stop offset="36.9%" stop-color="#cc0000"/><stop offset="37.1%" stop-color="#cc0000"/><stop offset="37.1%" stop-color="#c80000"/><stop offset="37.3%" stop-color="#c80000"/><stop offset="37.3%" stop-color="#c30000"/><stop offset="37.5%" stop-color="#c30000"/><stop offset="37.5%" stop-color="#bc0000"/><stop offset="37.7%" stop-color="#bc0000"/><stop offset="37.7%" stop-color="#b40000"/><stop offset="37.9%" stop-color="#b40000"/><stop offset="37.9%" stop-color="#a80000"/><stop offset="38.1%" stop-color="#a80000"/><stop offset="38.1%" stop-color="#910000"/><stop offset="38.3%" stop-color="#910000"/><stop offset="38.3%" stop-color="#800000"/><stop offset="38.5%" stop-color="#800000"/><stop offset="38.5%" stop-color="#a10000"/><stop offset="38.7%" stop-color="#a10000"/><stop offset="38.7%" stop-color="#af0000"/><stop offset="38.9%" stop-color="#af0000"/><stop offset="38.9%" stop-color="#b70000"/><stop offset="39.1%" stop-color="#b70000"/><stop offset="39.1%" stop-color="#bd0000"/><stop offset="39.3%" stop-color="#bd0000"/><stop offset="39.3%" stop-color="#c20000"/><stop offset="39.5%" stop-color="#c20000"/><stop offset="39.5%" stop-color="#c50000"/><stop offset="39.7%" stop-color="#c50000"/><stop offset="39.7%" stop-color="#c80000"/><stop offset="39.9%" stop-color="#c80000"/><stop offset="39.9%" stop-color="#cb0000"/><stop offset="40.1%" stop-color="#cb0000"/><stop offset="40.1%" stop-color="#cd0000"/><stop offset="40.3%" stop-color="#cd0000"/><stop offset="40.3%" stop-color="#cf0000"/><stop offset="40.5%" stop-color="#cf0000"/><stop offset="40.5%" stop-color="#d10000"/><stop offset="40.7%" stop-color="#d10000"/><stop offset="40.7%" stop-color="#d20000"/><stop offset="40.9%" stop-color="#d20000"/><stop offset="40.9%" stop-color="#d30000"/><stop offset="41.1%" stop-color="#d30000"/><stop offset="41.1%" stop-color="#d50000"/><stop offset="41.5%" stop-color="#d50000"/><stop offset="41.5%" stop-color="#d60000"/><stop offset="41.7%" stop-color="#d60000"/><stop offset="41.7%" stop-color="#d70000"/><stop offset="41.9%" stop-color="#d70000"/><stop offset="41.9%" stop-color="#d80000"/><stop offset="42.3%" stop-color="#d80000"/><stop offset="42.3%" stop-color="#d90000"/><stop offset="44.5%" stop-color="#d90000"/><stop offset="44.5%" stop-color="#d80000"/><stop offset="44.9%" stop-color="#d80000"/><stop offset="44.9%" stop-color="#d70000"/><stop offset="45.3%" stop-color="#d70000"/><stop offset="45.3%" stop-color="#d60000"/><stop offset="45.7%" stop-color="#d60000"/><stop offset="45.7%" stop-color="#d50000"/><stop offset="45.9%" stop-color="#d50000"/><stop offset="45.9%" stop-color="#d40000"/><stop offset="46.1%" stop-color="#d40000"/><stop offset="46.1%" stop-color="#d30000"/><stop offset="46.3%" stop-color="#d30000"/><stop offset="46.3%" stop-color="#d20000"/><stop offset="46.7%" stop-color="#d20000"/><stop offset="46.7%" stop-color="#d00000"/><stop offset="46.9%" stop-color="#d00000"/><stop offset="46.9%" stop-color="#cf0000"/><stop offset="47.1%" stop-color="#cf0000"/><stop offset="47.1%" stop-color="#ce0000"/><stop offset="47.3%" stop-color="#ce0000"/><stop offset="47.3%" stop-color="#cd0000"/><stop offset="47.5%" stop-color="#cd0000"/><stop offset="47.5%" stop-color="#cb0000"/><stop offset="47.7%" stop-color="#cb0000"/><stop offset="47.7%" stop-color="#ca0000"/><stop offset="47.9%" stop-color="#ca0000"/><stop offset="47.9%" stop-color="#c80000"/><stop offset="48.1%" stop-color="#c80000"/><stop offset="48.1%" stop-color="#c70000"/><stop offset="48.3%" stop-color="#c70000"/><stop offset="48.3%" stop-color="#c50000"/><stop offset="48.5%" stop-color="#c50000"/><stop offset="48.5%" stop-color="#c30000"/><stop offset="48.7%" stop-color="#c30000"/><stop offset="48.7%" stop-color="#c10000"/><stop offset="48.9%" stop-color="#c10000"/><stop offset="48.9%" stop-color="#bf0000"/><stop offset="49.1%" stop-color="#bf0000"/><stop offset="49.1%" stop-color="#bc0000"/><stop offset="49.3%" stop-color="#bc0000"/><stop offset="49.3%" stop-color="#ba0000"/><stop offset="49.5%" stop-color="#ba0000"/><stop offset="49.5%" stop-color="#b70000"/><stop offset="49.7%" stop-color="#b70000"/><stop offset="49.7%" stop-color="#b30000"/><stop offset="49.9%" stop-color="#b30000"/><stop offset="49.9%" stop-color="#b00000"/><stop offset="50.1%" stop-color="#b00000"/><stop offset="50.1%" stop-color="#ac0000"/><stop offset="50.3%" stop-color="#ac0000"/><stop offset="50.3%" stop-color="#a70000"/><stop offset="50.5%" stop-color="#a70000"/><stop offset="50.5%" stop-color="#a20000"/><stop offset="50.7%" stop-color="#a20000"/><stop offset="50.7%" stop-color="#9c0000"/><stop offset="50.9%" stop-color="#9c0000"/><stop offset="50.9%" stop-color="#940000"/><stop offset="51.1%" stop-color="#940000"/><stop offset="51.1%" stop-color="#8b0000"/><stop offset="51.3%" stop-color="#8b0000"/><stop offset="51.3%" stop-color="#800000"/><stop offset="51.5%" stop-color="#800000"/><stop offset="51.5%" stop-color="#7c0000"/><stop offset="51.7%" stop-color="#7c0000"/><stop offset="51.7%" stop-color="#840000"/><stop offset="51.9%" stop-color="#840000"/><stop offset="51.9%" stop-color="#8d0000"/><stop offset="52.1%" stop-color="#8d0000"/><stop offset="52.1%" stop-color="#930000"/><stop offset="52.3%" stop-color="#930000"/><stop offset="52.3%" stop-color="#980000"/><stop offset="52.5%" stop-color="#980000"/><stop offset="52.5%" stop-color="#9b0000"/><stop offset="52.7%" stop-color="#9b0000"/><stop offset="52.7%" stop-color="#9e0000"/><stop offset="52.9%" stop-color="#9e0000"/><stop offset="52.9%" stop-color="#a00000"/><stop offset="53.1%" stop-color="#a00000"/><stop offset="53.1%" stop-color="#a10000"/><stop offset="53.3%" stop-color="#a10000"/><stop offset="53.3%" stop-color="#a20000"/><stop offset="53.5%" stop-color="#a20000"/><stop offset="53.5%" stop-color="#a30000"/><stop offset="54.1%" stop-color="#a30000"/><stop offset="54.1%" stop-color="#a20000"/><stop offset="54.3%" stop-color="#a20000"/><stop offset="54.3%" stop-color="#a10000"/><stop offset="54.5%" stop-color="#a10000"/><stop offset="54.5%" stop-color="#9f0000"/><stop offset="54.7%" stop-color="#9f0000"/><stop offset="54.7%" stop-color="#9d0000"/><stop offset="54.9%" stop-color="#9d0000"/><stop offset="54.9%" stop-color="#9b0000"/><stop offset="55.1%" stop-color="#9b0000"/><stop offset="55.1%" stop-color="#970000"/><stop offset="55.3%" stop-color="#970000"/><stop offset="55.3%" stop-color="#920000"/><stop offset="55.5%" stop-color="#920000"/><stop offset="55.5%" stop-color="#8c0000"/><stop offset="55.7%" stop-color="#8c0000"/><stop offset="55.7%" stop-color="#810000"/><stop offset="55.9%" stop-color="#810000"/><stop offset="55.9%" stop-color="#740000"/><stop offset="56.3%" stop-color="#740000"/><stop offset="56.3%" stop-color="#7e0000"/><stop offset="56.5%" stop-color="#7e0000"/><stop offset="56.5%" stop-color="#8d0000"/><stop offset="56.7%" stop-color="#8d0000"/><stop offset="56.7%" stop-color="#960000"/><stop offset="56.9%" stop-color="#960000"/><stop offset="56.9%" stop-color="#9d0000"/><stop offset="57.1%" stop-color="#9d0000"/><stop offset="57.1%" stop-color="#a30000"/><stop offset="57.3%" stop-color="#a30000"/><stop offset="57.3%" stop-color="#a80000"/><stop offset="57.5%" stop-color="#a80000"/><stop offset="57.5%" stop-color="#ac0000"/><stop offset="57.7%" stop-color="#ac0000"/><stop offset="57.7%" stop-color="#af0000"/><stop offset="57.9%" stop-color="#af0000"/><stop offset="57.9%" stop-color="#b30000"/><stop offset="58.1%" stop-color="#b30000"/><stop offset="58.1%" stop-color="#b50000"/><stop offset="58.3%" stop-color="#b50000"/><stop offset="58.3%" stop-color="#b80000"/><stop offset="58.5%" stop-color="#b80000"/><stop offset="58.5%" stop-color="#ba0000"/><stop offset="58.7%" stop-color="#ba0000"/><stop offset="58.7%" stop-color="#bd0000"/><stop offset="58.9%" stop-color="#bd0000"/><stop offset="58.9%" stop-color="#bf0000"/><stop offset="59.1%" stop-color="#bf0000"/><stop offset="59.1%" stop-color="#c10000"/><stop offset="59.3%" stop-color="#c10000"/><stop offset="59.3%" stop-color="#c20000"/><stop offset="59.5%" stop-color="#c20000"/><stop offset="59.5%" stop-color="#c40000"/><stop offset="59.7%" stop-color="#c40000"/><stop offset="59.7%" stop-color="#c50000"/><stop offset="59.9%" stop-color="#c50000"/><stop offset="59.9%" stop-color="#c70000"/><stop offset="60.1%" stop-color="#c70000"/><stop offset="60.1%" stop-color="#c80000"/><stop offset="60.3%" stop-color="#c80000"/><stop offset="60.3%" stop-color="#c90000"/><stop offset="60.5%" stop-color="#c90000"/><stop offset="60.5%" stop-color="#ca0000"/><stop offset="60.7%" stop-color="#ca0000"/><stop offset="60.7%" stop-color="#cc0000"/><stop offset="60.9%" stop-color="#cc0000"/><stop offset="60.9%" stop-color="#cd0000"/><stop offset="61.3%" stop-color="#cd0000"/><stop offset="61.3%" stop-color="#ce0000"/><stop offset="61.5%" stop-color="#ce0000"/><stop offset="61.5%" stop-color="#cf0000"/><stop offset="61.7%" stop-color="#cf0000"/><stop offset="61.7%" stop-color="#d00000"/><stop offset="62.1%" stop-color="#d00000"/><stop offset="62.1%" stop-color="#d10000"/><stop offset="62.3%" stop-color="#d10000"/><stop offset="62.3%" stop-color="#d20000"/><stop offset="62.7%" stop-color="#d20000"/><stop offset="62.7%" stop-color="#d30000"/><stop offset="63.3%" stop-color="#d30000"/><stop offset="63.3%" stop-color="#d40000"/><stop offset="65.7%" stop-color="#d40000"/><stop offset="65.7%" stop-color="#d30000"/><stop offset="66.3%" stop-color="#d30000"/><stop offset="66.3%" stop-color="#d20000"/><stop offset="66.7%" stop-color="#d20000"/><stop offset="66.7%" stop-color="#d10000"/><stop offset="67.1%" stop-color="#d10000"/><stop offset="67.1%" stop-color="#d00000"/><stop offset="67.3%" stop-color="#d00000"/><stop offset="67.3%" stop-color="#cf0000"/><stop offset="67.5%" stop-color="#cf0000"/><stop offset="67.5%" stop-color="#ce0000"/><stop offset="67.7%" stop-color="#ce0000"/><stop offset="67.7%" stop-color="#cd0000"/><stop offset="68.1%" stop-color="#cd0000"/><stop offset="68.1%" stop-color="#cb0000"/><stop offset="68.3%" stop-color="#cb0000"/><stop offset="68.3%" stop-color="#ca0000"/><stop offset="68.5%" stop-color="#ca0000"/><stop offset="68.5%" stop-color="#c90000"/><stop offset="68.7%" stop-color="#c90000"/><stop offset="68.7%" stop-color="#c80000"/><stop offset="68.9%" stop-color="#c80000"/><stop offset="68.9%" stop-color="#c60000"/><stop offset="69.1%" stop-color="#c60000"/><stop offset="69.1%" stop-color="#c50000"/><stop offset="69.3%" stop-color="#c50000"/><stop offset="69.3%" stop-color="#c30000"/><stop offset="69.5%" stop-color="#c30000"/><stop offset="69.5%" stop-color="#c10000"/><stop offset="69.7%" stop-color="#c10000"/><stop offset="69.7%" stop-color="#bf0000"/><stop offset="69.9%" stop-color="#bf0000"/><stop offset="69.9%" stop-color="#bd0000"/><stop offset="70.1%" stop-color="#bd0000"/><stop offset="70.1%" stop-color="#bb0000"/><stop offset="70.3%" stop-color="#bb0000"/><stop offset="70.3%" stop-color="#b80000"/><stop offset="70.5%" stop-color="#b80000"/><stop offset="70.5%" stop-color="#b50000"/><stop offset="70.7%" stop-color="#b50000"/><stop offset="70.7%" stop-color="#b10000"/><stop offset="70.9%" stop-color="#b10000"/><stop offset="70.9%" stop-color="#ad0000"/><stop offset="71.1%" stop-color="#ad0000"/><stop offset="71.1%" stop-color="#a80000"/><stop offset="71.3%" stop-color="#a80000"/><stop offset="71.3%" stop-color="#a20000"/><stop offset="71.5%" stop-color="#a20000"/><stop offset="71.5%" stop-color="#9a0000"/><stop offset="71.7%" stop-color="#9a0000"/><stop offset="71.7%" stop-color="#8e0000"/><stop offset="71.9%" stop-color="#8e0000"/><stop offset="71.9%" stop-color="#770000"/><stop offset="72.1%" stop-color="#770000"/><stop offset="72.1%" stop-color="#740000"/><stop offset="72.3%" stop-color="#740000"/><stop offset="72.3%" stop-color="#880000"/><stop offset="72.5%" stop-color="#880000"/><stop offset="72.5%" stop-color="#950000"/><stop offset="72.7%" stop-color="#950000"/><stop offset="72.7%" stop-color="#9e0000"/><stop offset="72.9%" stop-color="#9e0000"/><stop offset="72.9%" stop-color="#a40000"/><stop offset="73.1%" stop-color="#a40000"/><stop offset="73.1%" stop-color="#a90000"/><stop offset="73.3%" stop-color="#a90000"/><stop offset="73.3%" stop-color="#ac0000"/><stop offset="73.5%" stop-color="#ac0000"/><stop offset="73.5%" stop-color="#af0000"/><stop offset="73.7%" stop-color="#af0000"/><stop offset="73.7%" stop-color="#b20000"/><stop offset="73.9%" stop-color="#b20000"/><stop offset="73.9%" stop-color="#b40000"/><stop offset="74.1%" stop-color="#b40000"/><stop offset="74.1%" stop-color="#b60000"/><stop offset="74.3%" stop-color="#b60000"/><stop offset="74.3%" stop-color="#b80000"/><stop offset="74.5%" stop-color="#b80000"/><stop offset="74.5%" stop-color="#b90000"/><stop offset="74.7%" stop-color="#b90000"/><stop offset="74.7%" stop-color="#bb0000"/><stop offset="74.9%" stop-color="#bb0000"/><stop offset="74.9%" stop-color="#bc0000"/><stop offset="75.1%" stop-color="#bc0000"/><stop offset="75.1%" stop-color="#bd0000"/><stop offset="75.5%" stop-color="#bd0000"/><stop offset="75.5%" stop-color="#be0000"/><stop offset="75.7%" stop-color="#be0000"/><stop offset="75.7%" stop-color="#bf0000"/><stop offset="77.3%" stop-color="#bf0000"/><stop offset="77.3%" stop-color="#be0000"/><stop offset="77.7%" stop-color="#be0000"/><stop offset="77.7%" stop-color="#bd0000"/><stop offset="78.1%" stop-color="#bd0000"/><stop offset="78.1%" stop-color="#bc0000"/><stop offset="78.3%" stop-color="#bc0000"/><stop offset="78.3%" stop-color="#bb0000"/><stop offset="78.5%" stop-color="#bb0000"/><stop offset="78.5%" stop-color="#b90000"/><stop offset="78.7%" stop-color="#b90000"/><stop offset="78.7%" stop-color="#b80000"/><stop offset="78.9%" stop-color="#b80000"/><stop offset="78.9%" stop-color="#b60000"/><stop offset="79.1%" stop-color="#b60000"/><stop offset="79.1%" stop-color="#b50000"/><stop offset="79.3%" stop-color="#b50000"/><stop offset="79.3%" stop-color="#b20000"/><stop offset="79.5%" stop-color="#b20000"/><stop offset="79.5%" stop-color="#b00000"/><stop offset="79.7%" stop-color="#b00000"/><stop offset="79.7%" stop-color="#ad0000"/><stop offset="79.9%" stop-color="#ad0000"/><stop offset="79.9%" stop-color="#aa0000"/><stop offset="80.1%" stop-color="#aa0000"/><stop offset="80.1%" stop-color="#a60000"/><stop offset="80.3%" stop-color="#a60000"/><stop offset="80.3%" stop-color="#a00000"/><stop offset="80.5%" stop-color="#a00000"/><stop offset="80.5%" stop-color="#9a0000"/><stop offset="80.7%" stop-color="#9a0000"/><stop offset="80.7%" stop-color="#900000"/><stop offset="80.9%" stop-color="#900000"/><stop offset="80.9%" stop-color="#7f0000"/><stop offset="81.1%" stop-color="#7f0000"/><stop offset="81.1%" stop-color="#740000"/><stop offset="81.3%" stop-color="#740000"/><stop offset="81.3%" stop-color="#7f0000"/><stop offset="81.5%" stop-color="#7f0000"/><stop offset="81.5%" stop-color="#910000"/><stop offset="81.7%" stop-color="#910000"/><stop offset="81.7%" stop-color="#9b0000"/><stop offset="81.9%" stop-color="#9b0000"/><stop offset="81.9%" stop-color="#a20000"/><stop offset="82.1%" stop-color="#a20000"/><stop offset="82.1%" stop-color="#a70000"/><stop offset="82.3%" stop-color="#a70000"/><stop offset="82.3%" stop-color="#ac0000"/><stop offset="82.5%" stop-color="#ac0000"/><stop offset="82.5%" stop-color="#b00000"/><stop offset="82.7%" stop-color="#b00000"/><stop offset="82.7%" stop-color="#b30000"/><stop offset="82.9%" stop-color="#b30000"/><stop offset="82.9%" stop-color="#b60000"/><stop offset="83.1%" stop-color="#b60000"/><stop offset="83.1%" stop-color="#b80000"/><stop offset="83.3%" stop-color="#b80000"/><stop offset="83.3%" stop-color="#ba0000"/><stop offset="83.5%" stop-color="#ba0000"/><stop offset="83.5%" stop-color="#bc0000"/><stop offset="83.7%" stop-color="#bc0000"/><stop offset="83.7%" stop-color="#be0000"/><stop offset="83.9%" stop-color="#be0000"/><stop offset="83.9%" stop-color="#c00000"/><stop offset="84.1%" stop-color="#c00000"/><stop offset="84.1%" stop-color="#c10000"/><stop offset="84.3%" stop-color="#c10000"/><stop offset="84.3%" stop-color="#c30000"/><stop offset="84.5%" stop-color="#c30000"/><stop offset="84.5%" stop-color="#c40000"/><stop offset="84.7%" stop-color="#c40000"/><stop offset="84.7%" stop-color="#c50000"/><stop offset="84.9%" stop-color="#c50000"/><stop offset="84.9%" stop-color="#c60000"/><stop offset="85.1%" stop-color="#c60000"/><stop offset="85.1%" stop-color="#c70000"/><stop offset="85.3%" stop-color="#c70000"/><stop offset="85.3%" stop-color="#c80000"/><stop offset="85.7%" stop-color="#c80000"/><stop offset="85.7%" stop-color="#c90000"/><stop offset="85.9%" stop-color="#c90000"/><stop offset="85.9%" stop-color="#ca0000"/><stop offset="86.3%" stop-color="#ca0000"/><stop offset="86.3%" stop-color="#cb0000"/><stop offset="88.5%" stop-color="#cb0000"/><stop offset="88.5%" stop-color="#ca0000"/><stop offset="88.9%" stop-color="#ca0000"/><stop offset="88.9%" stop-color="#c90000"/><stop offset="89.1%" stop-color="#c90000"/><stop offset="89.1%" stop-color="#c80000"/><stop offset="89.5%" stop-color="#c80000"/><stop offset="89.5%" stop-color="#c70000"/><stop offset="89.7%" stop-color="#c70000"/><stop offset="89.7%" stop-color="#c60000"/><stop offset="89.9%" stop-color="#c60000"/><stop offset="89.9%" stop-color="#c50000"/><stop offset="90.1%" stop-color="#c50000"/><stop offset="90.1%" stop-color="#c30000"/><stop offset="90.3%" stop-color="#c30000"/><stop offset="90.3%" stop-color="#c20000"/><stop offset="90.5%" stop-color="#c20000"/><stop offset="90.5%" stop-color="#c10000"/><stop offset="90.7%" stop-color="#c10000"/><stop offset="90.7%" stop-color="#bf0000"/><stop offset="90.9%" stop-color="#bf0000"/><stop offset="90.9%" stop-color="#bd0000"/><stop offset="91.1%" stop-color="#bd0000"/><stop offset="91.1%" stop-color="#ba0000"/><stop offset="91.3%" stop-color="#ba0000"/><stop offset="91.3%" stop-color="#b80000"/><stop offset="91.5%" stop-color="#b80000"/><stop offset="91.5%" stop-color="#b50000"/><stop offset="91.7%" stop-color="#b50000"/><stop offset="91.7%" stop-color="#b10000"/><stop offset="91.9%" stop-color="#b10000"/><stop offset="91.9%" stop-color="#ad0000"/><stop offset="92.1%" stop-color="#ad0000"/><stop offset="92.1%" stop-color="#a80000"/><stop offset="92.3%" stop-color="#a80000"/><stop offset="92.3%" stop-color="#a10000"/><stop offset="92.5%" stop-color="#a10000"/><stop offset="92.5%" stop-color="#970000"/><stop offset="92.7%" stop-color="#970000"/><stop offset="92.7%" stop-color="#860000"/><stop offset="92.9%" stop-color="#860000"/><stop offset="92.9%" stop-color="#740000"/><stop offset="93.1%" stop-color="#740000"/><stop offset="93.1%" stop-color="#860000"/><stop offset="93.3%" stop-color="#860000"/><stop offset="93.3%" stop-color="#970000"/><stop offset="93.5%" stop-color="#970000"/><stop offset="93.5%" stop-color="#a10000"/><stop offset="93.7%" stop-color="#a10000"/><stop offset="93.7%" stop-color="#a90000"/><stop offset="93.9%" stop-color="#a90000"/><stop offset="93.9%" stop-color="#ae0000"/><stop offset="94.1%" stop-color="#ae0000"/><stop offset="94.1%" stop-color="#b20000"/><stop offset="94.3%" stop-color="#b20000"/><stop offset="94.3%" stop-color="#b60000"/><stop offset="94.5%" stop-color="#b60000"/><stop offset="94.5%" stop-color="#b90000"/><stop offset="94.7%" stop-color="#b90000"/><stop offset="94.7%" stop-color="#bc0000"/><stop offset="94.9%" stop-color="#bc0000"/><stop offset="94.9%" stop-color="#bf0000"/><stop offset="95.1%" stop-color="#bf0000"/><stop offset="95.1%" stop-color="#c10000"/><stop offset="95.3%" stop-color="#c10000"/><stop offset="95.3%" stop-color="#c30000"/><stop offset="95.5%" stop-color="#c30000"/><stop offset="95.5%" stop-color="#c50000"/><stop offset="95.7%" stop-color="#c50000"/><stop offset="95.7%" stop-color="#c60000"/><stop offset="95.9%" stop-color="#c60000"/><stop offset="95.9%" stop-color="#c80000"/><stop offset="96.1%" stop-color="#c80000"/><stop offset="96.1%" stop-color="#c90000"/><stop offset="96.3%" stop-color="#c90000"/><stop offset="96.3%" stop-color="#ca0000"/><stop offset="96.5%" stop-color="#ca0000"/><stop offset="96.5%" stop-color="#cb0000"/><stop offset="96.7%" stop-color="#cb0000"/><stop offset="96.7%" stop-color="#cc0000"/><stop offset="96.9%" stop-color="#cc0000"/><stop offset="96.9%" stop-color="#cd0000"/><stop offset="97.1%" stop-color="#cd0000"/><stop offset="97.1%" stop-color="#ce0000"/><stop offset="97.5%" stop-color="#ce0000"/><stop offset="97.5%" stop-color="#cf0000"/><stop offset="97.9%" stop-color="#cf0000"/><stop offset="97.9%" stop-color="#d00000"/><stop offset="98.3%" stop-color="#d00000"/><stop offset="98.3%" stop-color="#d10000"/><stop offset="99.7%" stop-color="#d10000"/><stop offset="99.7%" stop-color="#d00000"/><stop offset="99.9%" stop-color="#d00000"/><stop offset="99.9%" stop-color="#d00000"/><stop offset="100%" stop-color="#d00000"/></linearGradient>
<linearGradient id="gR" gradientUnits="userSpaceOnUse" x1="178.5" y1="0" x2="1344" y2="0"><stop offset="0%" stop-color="#00c800"/><stop offset="0.3%" stop-color="#00c800"/><stop offset="0.3%" stop-color="#00c800"/><stop offset="0.815%" stop-color="#00c800"/><stop offset="0.815%" stop-color="#00c800"/><stop offset="1.416%" stop-color="#00c800"/><stop offset="1.416%" stop-color="#00c800"/><stop offset="1.931%" stop-color="#00c800"/><stop offset="1.931%" stop-color="#00c800"/><stop offset="2.531%" stop-color="#00c800"/><stop offset="2.531%" stop-color="#00c800"/><stop offset="3.046%" stop-color="#00c800"/><stop offset="3.046%" stop-color="#00c800"/><stop offset="3.647%" stop-color="#00c800"/><stop offset="3.647%" stop-color="#00c900"/><stop offset="4.161%" stop-color="#00c900"/><stop offset="4.161%" stop-color="#00c900"/><stop offset="4.762%" stop-color="#00c900"/><stop offset="4.762%" stop-color="#00c900"/><stop offset="5.277%" stop-color="#00c900"/><stop offset="5.277%" stop-color="#00ca00"/><stop offset="5.792%" stop-color="#00ca00"/><stop offset="5.792%" stop-color="#00ca00"/><stop offset="6.392%" stop-color="#00ca00"/><stop offset="6.392%" stop-color="#00ca00"/><stop offset="6.907%" stop-color="#00ca00"/><stop offset="6.907%" stop-color="#00ca00"/><stop offset="7.508%" stop-color="#00ca00"/><stop offset="7.508%" stop-color="#00ca00"/><stop offset="8.022%" stop-color="#00ca00"/><stop offset="8.022%" stop-color="#00ca00"/><stop offset="8.623%" stop-color="#00ca00"/><stop offset="8.623%" stop-color="#00ca00"/><stop offset="9.138%" stop-color="#00ca00"/><stop offset="9.138%" stop-color="#00ca00"/><stop offset="9.738%" stop-color="#00ca00"/><stop offset="9.738%" stop-color="#00ca00"/><stop offset="10.253%" stop-color="#00ca00"/><stop offset="10.253%" stop-color="#00c900"/><stop offset="10.854%" stop-color="#00c900"/><stop offset="10.854%" stop-color="#00c900"/><stop offset="11.369%" stop-color="#00c900"/><stop offset="11.369%" stop-color="#00c800"/><stop offset="11.969%" stop-color="#00c800"/><stop offset="11.969%" stop-color="#00c700"/><stop offset="12.484%" stop-color="#00c700"/><stop offset="12.484%" stop-color="#00c500"/><stop offset="13.085%" stop-color="#00c500"/><stop offset="13.085%" stop-color="#00c300"/><stop offset="13.599%" stop-color="#00c300"/><stop offset="13.599%" stop-color="#00c100"/><stop offset="14.2%" stop-color="#00c100"/><stop offset="14.2%" stop-color="#00be00"/><stop offset="14.715%" stop-color="#00be00"/><stop offset="14.715%" stop-color="#00ba00"/><stop offset="15.315%" stop-color="#00ba00"/><stop offset="15.315%" stop-color="#00b400"/><stop offset="15.83%" stop-color="#00b400"/><stop offset="15.83%" stop-color="#00ad00"/><stop offset="16.431%" stop-color="#00ad00"/><stop offset="16.431%" stop-color="#00a100"/><stop offset="16.946%" stop-color="#00a100"/><stop offset="16.946%" stop-color="#008700"/><stop offset="17.46%" stop-color="#008700"/><stop offset="17.46%" stop-color="#008400"/><stop offset="18.061%" stop-color="#008400"/><stop offset="18.061%" stop-color="#00a100"/><stop offset="18.576%" stop-color="#00a100"/><stop offset="18.576%" stop-color="#00ad00"/><stop offset="19.176%" stop-color="#00ad00"/><stop offset="19.176%" stop-color="#00b600"/><stop offset="19.691%" stop-color="#00b600"/><stop offset="19.691%" stop-color="#00bb00"/><stop offset="20.292%" stop-color="#00bb00"/><stop offset="20.292%" stop-color="#00c000"/><stop offset="20.807%" stop-color="#00c000"/><stop offset="20.807%" stop-color="#00c300"/><stop offset="21.407%" stop-color="#00c300"/><stop offset="21.407%" stop-color="#00c600"/><stop offset="21.922%" stop-color="#00c600"/><stop offset="21.922%" stop-color="#00c700"/><stop offset="22.523%" stop-color="#00c700"/><stop offset="22.523%" stop-color="#00c800"/><stop offset="23.037%" stop-color="#00c800"/><stop offset="23.037%" stop-color="#00c900"/><stop offset="23.638%" stop-color="#00c900"/><stop offset="23.638%" stop-color="#00c900"/><stop offset="24.153%" stop-color="#00c900"/><stop offset="24.153%" stop-color="#00c800"/><stop offset="24.753%" stop-color="#00c800"/><stop offset="24.753%" stop-color="#00c600"/><stop offset="25.268%" stop-color="#00c600"/><stop offset="25.268%" stop-color="#00c300"/><stop offset="25.869%" stop-color="#00c300"/><stop offset="25.869%" stop-color="#00bf00"/><stop offset="26.384%" stop-color="#00bf00"/><stop offset="26.384%" stop-color="#00b900"/><stop offset="26.984%" stop-color="#00b900"/><stop offset="26.984%" stop-color="#00b000"/><stop offset="27.499%" stop-color="#00b000"/><stop offset="27.499%" stop-color="#009f00"/><stop offset="28.014%" stop-color="#009f00"/><stop offset="28.014%" stop-color="#005900"/><stop offset="28.614%" stop-color="#005900"/><stop offset="28.614%" stop-color="#00a200"/><stop offset="29.129%" stop-color="#00a200"/><stop offset="29.129%" stop-color="#00b200"/><stop offset="29.73%" stop-color="#00b200"/><stop offset="29.73%" stop-color="#00bc00"/><stop offset="30.245%" stop-color="#00bc00"/><stop offset="30.245%" stop-color="#00c200"/><stop offset="30.845%" stop-color="#00c200"/><stop offset="30.845%" stop-color="#00c600"/><stop offset="31.36%" stop-color="#00c600"/><stop offset="31.36%" stop-color="#00c800"/><stop offset="31.961%" stop-color="#00c800"/><stop offset="31.961%" stop-color="#00ca00"/><stop offset="32.475%" stop-color="#00ca00"/><stop offset="32.475%" stop-color="#00ca00"/><stop offset="33.076%" stop-color="#00ca00"/><stop offset="33.076%" stop-color="#00ca00"/><stop offset="33.591%" stop-color="#00ca00"/><stop offset="33.591%" stop-color="#00c800"/><stop offset="34.191%" stop-color="#00c800"/><stop offset="34.191%" stop-color="#00c500"/><stop offset="34.706%" stop-color="#00c500"/><stop offset="34.706%" stop-color="#00bf00"/><stop offset="35.307%" stop-color="#00bf00"/><stop offset="35.307%" stop-color="#00b600"/><stop offset="35.822%" stop-color="#00b600"/><stop offset="35.822%" stop-color="#00a500"/><stop offset="36.422%" stop-color="#00a500"/><stop offset="36.422%" stop-color="#006600"/><stop offset="36.937%" stop-color="#006600"/><stop offset="36.937%" stop-color="#00aa00"/><stop offset="37.538%" stop-color="#00aa00"/><stop offset="37.538%" stop-color="#00ba00"/><stop offset="38.052%" stop-color="#00ba00"/><stop offset="38.052%" stop-color="#00c300"/><stop offset="38.653%" stop-color="#00c300"/><stop offset="38.653%" stop-color="#00c900"/><stop offset="39.168%" stop-color="#00c900"/><stop offset="39.168%" stop-color="#00cc00"/><stop offset="39.683%" stop-color="#00cc00"/><stop offset="39.683%" stop-color="#00cf00"/><stop offset="40.283%" stop-color="#00cf00"/><stop offset="40.283%" stop-color="#00d000"/><stop offset="40.798%" stop-color="#00d000"/><stop offset="40.798%" stop-color="#00cf00"/><stop offset="41.399%" stop-color="#00cf00"/><stop offset="41.399%" stop-color="#00cd00"/><stop offset="41.913%" stop-color="#00cd00"/><stop offset="41.913%" stop-color="#00c900"/><stop offset="42.514%" stop-color="#00c900"/><stop offset="42.514%" stop-color="#00c200"/><stop offset="43.029%" stop-color="#00c200"/><stop offset="43.029%" stop-color="#00b600"/><stop offset="43.629%" stop-color="#00b600"/><stop offset="43.629%" stop-color="#009300"/><stop offset="44.144%" stop-color="#009300"/><stop offset="44.144%" stop-color="#00a900"/><stop offset="44.745%" stop-color="#00a900"/><stop offset="44.745%" stop-color="#00bf00"/><stop offset="45.26%" stop-color="#00bf00"/><stop offset="45.26%" stop-color="#00ca00"/><stop offset="45.86%" stop-color="#00ca00"/><stop offset="45.86%" stop-color="#00d100"/><stop offset="46.375%" stop-color="#00d100"/><stop offset="46.375%" stop-color="#00d600"/><stop offset="46.976%" stop-color="#00d600"/><stop offset="46.976%" stop-color="#00d900"/><stop offset="47.49%" stop-color="#00d900"/><stop offset="47.49%" stop-color="#00da00"/><stop offset="48.091%" stop-color="#00da00"/><stop offset="48.091%" stop-color="#00da00"/><stop offset="48.606%" stop-color="#00da00"/><stop offset="48.606%" stop-color="#00d900"/><stop offset="49.206%" stop-color="#00d900"/><stop offset="49.206%" stop-color="#00d500"/><stop offset="49.721%" stop-color="#00d500"/><stop offset="49.721%" stop-color="#00ce00"/><stop offset="50.236%" stop-color="#00ce00"/><stop offset="50.236%" stop-color="#00c100"/><stop offset="50.837%" stop-color="#00c100"/><stop offset="50.837%" stop-color="#008700"/><stop offset="51.351%" stop-color="#008700"/><stop offset="51.351%" stop-color="#00c000"/><stop offset="51.952%" stop-color="#00c000"/><stop offset="51.952%" stop-color="#00d400"/><stop offset="52.467%" stop-color="#00d400"/><stop offset="52.467%" stop-color="#00df00"/><stop offset="53.067%" stop-color="#00df00"/><stop offset="53.067%" stop-color="#00e700"/><stop offset="53.582%" stop-color="#00e700"/><stop offset="53.582%" stop-color="#00ed00"/><stop offset="54.183%" stop-color="#00ed00"/><stop offset="54.183%" stop-color="#00f200"/><stop offset="54.698%" stop-color="#00f200"/><stop offset="54.698%" stop-color="#00f600"/><stop offset="55.298%" stop-color="#00f600"/><stop offset="55.298%" stop-color="#00f900"/><stop offset="55.813%" stop-color="#00f900"/><stop offset="55.813%" stop-color="#00fb00"/><stop offset="56.414%" stop-color="#00fb00"/><stop offset="56.414%" stop-color="#00fd00"/><stop offset="56.928%" stop-color="#00fd00"/><stop offset="56.928%" stop-color="#00fe00"/><stop offset="57.529%" stop-color="#00fe00"/><stop offset="57.529%" stop-color="#00ff00"/><stop offset="58.044%" stop-color="#00ff00"/><stop offset="58.044%" stop-color="#00ff00"/><stop offset="58.644%" stop-color="#00ff00"/><stop offset="58.644%" stop-color="#00ff00"/><stop offset="59.159%" stop-color="#00ff00"/><stop offset="59.159%" stop-color="#00fe00"/><stop offset="59.76%" stop-color="#00fe00"/><stop offset="59.76%" stop-color="#00fd00"/><stop offset="60.275%" stop-color="#00fd00"/><stop offset="60.275%" stop-color="#00fb00"/><stop offset="60.875%" stop-color="#00fb00"/><stop offset="60.875%" stop-color="#00f900"/><stop offset="61.39%" stop-color="#00f900"/><stop offset="61.39%" stop-color="#00f600"/><stop offset="61.905%" stop-color="#00f600"/><stop offset="61.905%" stop-color="#00f300"/><stop offset="62.505%" stop-color="#00f300"/><stop offset="62.505%" stop-color="#00ef00"/><stop offset="63.02%" stop-color="#00ef00"/><stop offset="63.02%" stop-color="#00ea00"/><stop offset="63.621%" stop-color="#00ea00"/><stop offset="63.621%" stop-color="#00e300"/><stop offset="64.136%" stop-color="#00e300"/><stop offset="64.136%" stop-color="#00da00"/><stop offset="64.736%" stop-color="#00da00"/><stop offset="64.736%" stop-color="#00ce00"/><stop offset="65.251%" stop-color="#00ce00"/><stop offset="65.251%" stop-color="#00b800"/><stop offset="65.852%" stop-color="#00b800"/><stop offset="65.852%" stop-color="#009b00"/><stop offset="66.366%" stop-color="#009b00"/><stop offset="66.366%" stop-color="#00c100"/><stop offset="66.967%" stop-color="#00c100"/><stop offset="66.967%" stop-color="#00cd00"/><stop offset="67.482%" stop-color="#00cd00"/><stop offset="67.482%" stop-color="#00d400"/><stop offset="68.082%" stop-color="#00d400"/><stop offset="68.082%" stop-color="#00d700"/><stop offset="68.597%" stop-color="#00d700"/><stop offset="68.597%" stop-color="#00da00"/><stop offset="69.198%" stop-color="#00da00"/><stop offset="69.198%" stop-color="#00da00"/><stop offset="69.713%" stop-color="#00da00"/><stop offset="69.713%" stop-color="#00da00"/><stop offset="70.313%" stop-color="#00da00"/><stop offset="70.313%" stop-color="#00d900"/><stop offset="70.828%" stop-color="#00d900"/><stop offset="70.828%" stop-color="#00d700"/><stop offset="71.429%" stop-color="#00d700"/><stop offset="71.429%" stop-color="#00d400"/><stop offset="71.943%" stop-color="#00d400"/><stop offset="71.943%" stop-color="#00d000"/><stop offset="72.458%" stop-color="#00d000"/><stop offset="72.458%" stop-color="#00ca00"/><stop offset="73.059%" stop-color="#00ca00"/><stop offset="73.059%" stop-color="#00c300"/><stop offset="73.574%" stop-color="#00c300"/><stop offset="73.574%" stop-color="#00b700"/><stop offset="74.174%" stop-color="#00b700"/><stop offset="74.174%" stop-color="#00a000"/><stop offset="74.689%" stop-color="#00a000"/><stop offset="74.689%" stop-color="#008c00"/><stop offset="75.29%" stop-color="#008c00"/><stop offset="75.29%" stop-color="#00ae00"/><stop offset="75.804%" stop-color="#00ae00"/><stop offset="75.804%" stop-color="#00bb00"/><stop offset="76.405%" stop-color="#00bb00"/><stop offset="76.405%" stop-color="#00c300"/><stop offset="76.92%" stop-color="#00c300"/><stop offset="76.92%" stop-color="#00c800"/><stop offset="77.52%" stop-color="#00c800"/><stop offset="77.52%" stop-color="#00cb00"/><stop offset="78.035%" stop-color="#00cb00"/><stop offset="78.035%" stop-color="#00cd00"/><stop offset="78.636%" stop-color="#00cd00"/><stop offset="78.636%" stop-color="#00cf00"/><stop offset="79.151%" stop-color="#00cf00"/><stop offset="79.151%" stop-color="#00cf00"/><stop offset="79.751%" stop-color="#00cf00"/><stop offset="79.751%" stop-color="#00d000"/><stop offset="80.266%" stop-color="#00d000"/><stop offset="80.266%" stop-color="#00cf00"/><stop offset="80.867%" stop-color="#00cf00"/><stop offset="80.867%" stop-color="#00ce00"/><stop offset="81.381%" stop-color="#00ce00"/><stop offset="81.381%" stop-color="#00cd00"/><stop offset="81.982%" stop-color="#00cd00"/><stop offset="81.982%" stop-color="#00cc00"/><stop offset="82.497%" stop-color="#00cc00"/><stop offset="82.497%" stop-color="#00c900"/><stop offset="83.097%" stop-color="#00c900"/><stop offset="83.097%" stop-color="#00c700"/><stop offset="83.612%" stop-color="#00c700"/><stop offset="83.612%" stop-color="#00c300"/><stop offset="84.127%" stop-color="#00c300"/><stop offset="84.127%" stop-color="#00bf00"/><stop offset="84.728%" stop-color="#00bf00"/><stop offset="84.728%" stop-color="#00bb00"/><stop offset="85.242%" stop-color="#00bb00"/><stop offset="85.242%" stop-color="#00b500"/><stop offset="85.843%" stop-color="#00b500"/><stop offset="85.843%" stop-color="#00ac00"/><stop offset="86.358%" stop-color="#00ac00"/><stop offset="86.358%" stop-color="#00a100"/><stop offset="86.958%" stop-color="#00a100"/><stop offset="86.958%" stop-color="#008b00"/><stop offset="87.473%" stop-color="#008b00"/><stop offset="87.473%" stop-color="#007100"/><stop offset="88.074%" stop-color="#007100"/><stop offset="88.074%" stop-color="#009700"/><stop offset="88.589%" stop-color="#009700"/><stop offset="88.589%" stop-color="#00a400"/><stop offset="89.189%" stop-color="#00a400"/><stop offset="89.189%" stop-color="#00ad00"/><stop offset="89.704%" stop-color="#00ad00"/><stop offset="89.704%" stop-color="#00b200"/><stop offset="90.305%" stop-color="#00b200"/><stop offset="90.305%" stop-color="#00b700"/><stop offset="90.819%" stop-color="#00b700"/><stop offset="90.819%" stop-color="#00ba00"/><stop offset="91.42%" stop-color="#00ba00"/><stop offset="91.42%" stop-color="#00bd00"/><stop offset="91.935%" stop-color="#00bd00"/><stop offset="91.935%" stop-color="#00bf00"/><stop offset="92.535%" stop-color="#00bf00"/><stop offset="92.535%" stop-color="#00c000"/><stop offset="93.05%" stop-color="#00c000"/><stop offset="93.05%" stop-color="#00c200"/><stop offset="93.651%" stop-color="#00c200"/><stop offset="93.651%" stop-color="#00c300"/><stop offset="94.166%" stop-color="#00c300"/><stop offset="94.166%" stop-color="#00c400"/><stop offset="94.68%" stop-color="#00c400"/><stop offset="94.68%" stop-color="#00c500"/><stop offset="95.281%" stop-color="#00c500"/><stop offset="95.281%" stop-color="#00c500"/><stop offset="95.796%" stop-color="#00c500"/><stop offset="95.796%" stop-color="#00c600"/><stop offset="96.396%" stop-color="#00c600"/><stop offset="96.396%" stop-color="#00c600"/><stop offset="96.911%" stop-color="#00c600"/><stop offset="96.911%" stop-color="#00c700"/><stop offset="97.512%" stop-color="#00c700"/><stop offset="97.512%" stop-color="#00c700"/><stop offset="98.027%" stop-color="#00c700"/><stop offset="98.027%" stop-color="#00c700"/><stop offset="98.627%" stop-color="#00c700"/><stop offset="98.627%" stop-color="#00c700"/><stop offset="99.142%" stop-color="#00c700"/><stop offset="99.142%" stop-color="#00c800"/><stop offset="99.743%" stop-color="#00c800"/><stop offset="99.743%" stop-color="#00c800"/><stop offset="100%" stop-color="#00c800"/></linearGradient>
<filter id="jet" filterUnits="userSpaceOnUse" x="166.5" y="63.5" width="1189.5" height="1064.9" color-interpolation-filters="sRGB">
<feGaussianBlur stdDeviation="0.7 0.5" result="b"/>
<feColorMatrix in="b" type="matrix" values="2 2 0 0 -1  2 2 0 0 -1  2 2 0 0 -1  0 0 0 0 1"/>
<feComponentTransfer>
<feFuncR type="table" tableValues="0 0 0 0 0.5 1 1 1 0.5"/>
<feFuncG type="table" tableValues="0 0 0.5 1 1 1 0.5 0 0"/>
<feFuncB type="table" tableValues="0.5 1 1 1 0.5 0 0 0 0"/>
</feComponentTransfer>
<feColorMatrix type="matrix" values="0.299 0.587 0.114 0 0  -0.168736 -0.331264 0.5 0 0.5  0.5 -0.418688 -0.081312 0 0.5  0 0 0 1 0" result="ycc"/>
<feGaussianBlur in="ycc" stdDeviation="1.2" result="yb"/>
<feGaussianBlur in="ycc" stdDeviation="2" result="cb"/>
<feColorMatrix in="yb" type="matrix" values="1 0 0 0 0  0 0 0 0 0  0 0 0 0 0  0 0 0 1 0" result="y1"/>
<feColorMatrix in="cb" type="matrix" values="0 0 0 0 0  0 1 0 0 0  0 0 1 0 0  0 0 0 1 0" result="c1"/>
<feComposite in="y1" in2="c1" operator="arithmetic" k1="0" k2="1" k3="1" k4="0" result="m"/>
<feColorMatrix in="m" type="matrix" values="1 0 1.402 0 -0.701  1 -0.344136 -0.714136 0 0.529136  1 1.772 0 0 -0.886  0 0 0 1 0"/>
</filter>
<clipPath id="cpa"><rect x="178.5" y="75.5" width="1165.5" height="1040.9"/></clipPath>
<linearGradient id="cb" x1="0" y1="1" x2="0" y2="0"><stop offset="0" stop-color="#000080"/><stop offset="0.125" stop-color="#0000ff"/><stop offset="0.375" stop-color="#00ffff"/><stop offset="0.625" stop-color="#ffff00"/><stop offset="0.875" stop-color="#ff0000"/><stop offset="1" stop-color="#800000"/></linearGradient>
<clipPath id="cpb"><rect x="219.6" y="1604.4" width="1288.4" height="1019.1"/></clipPath>
<clipPath id="cpc"><rect x="193.1" y="3107.4" width="1345.1" height="1063"/></clipPath>
</defs>
<g clip-path="url(#cpa)"><g filter="url(#jet)">
<rect x="166.5" y="63.5" width="1189.5" height="1064.9" fill="url(#gR)"/>
<g fill-opacity="0.5">
<rect fill="url(#gT1)" transform="translate(0,819.71)" x="163" y="-756.21" width="19" height="1064.9"/>
<rect fill="url(#gT1)" transform="translate(0,819.71)" x="182" y="-756.21" width="6" height="1064.9"/>
<rect fill="url(#gT1)" transform="translate(0,819.71)" x="188" y="-756.21" width="7" height="1064.9"/>
<rect fill="url(#gT2)" transform="translate(0,819.71)" x="195" y="-756.21" width="6" height="1064.9"/>
<rect fill="url(#gT0)" transform="translate(0,817.11)" x="201" y="-753.61" width="7" height="1064.9"/>
<rect fill="url(#gT1)" transform="translate(0,817.11)" x="208" y="-753.61" width="6" height="1064.9"/>
<rect fill="url(#gT2)" transform="translate(0,817.11)" x="214" y="-753.61" width="7" height="1064.9"/>
<rect fill="url(#gT0)" transform="translate(0,814.5)" x="221" y="-751" width="6" height="1064.9"/>
<rect fill="url(#gT2)" transform="translate(0,814.5)" x="227" y="-751" width="7" height="1064.9"/>
<rect fill="url(#gT1)" transform="translate(0,811.9)" x="234" y="-748.4" width="6" height="1064.9"/>
<rect fill="url(#gT0)" transform="translate(0,809.3)" x="240" y="-745.8" width="6" height="1064.9"/>
<rect fill="url(#gT0)" transform="translate(0,806.7)" x="246" y="-743.2" width="7" height="1064.9"/>
<rect fill="url(#gT2)" transform="translate(0,806.7)" x="253" y="-743.2" width="6" height="1064.9"/>
<rect fill="url(#gT2)" transform="translate(0,804.1)" x="259" y="-740.6" width="7" height="1064.9"/>
<rect fill="url(#gT2)" transform="translate(0,801.49)" x="266" y="-737.99" width="6" height="1064.9"/>
<rect fill="url(#gT2)" transform="translate(0,798.89)" x="272" y="-735.39" width="7" height="1064.9"/>
<rect fill="url(#gT0)" transform="translate(0,793.69)" x="279" y="-730.19" width="6" height="1064.9"/>
<rect fill="url(#gT1)" transform="translate(0,791.08)" x="285" y="-727.58" width="7" height="1064.9"/>
<rect fill="url(#gT2)" transform="translate(0,788.48)" x="292" y="-724.98" width="6" height="1064.9"/>
<rect fill="url(#gT0)" transform="translate(0,783.28)" x="298" y="-719.78" width="7" height="1064.9"/>
<rect fill="url(#gT1)" transform="translate(0,780.68)" x="305" y="-717.18" width="6" height="1064.9"/>
<rect fill="url(#gT0)" transform="translate(0,775.47)" x="311" y="-711.97" width="7" height="1064.9"/>
<rect fill="url(#gT1)" transform="translate(0,772.87)" x="318" y="-709.37" width="6" height="1064.9"/>
<rect fill="url(#gT1)" transform="translate(0,767.66)" x="324" y="-704.16" width="7" height="1064.9"/>
<rect fill="url(#gT0)" transform="translate(0,762.46)" x="331" y="-698.96" width="6" height="1064.9"/>
<rect fill="url(#gT2)" transform="translate(0,759.86)" x="337" y="-696.36" width="7" height="1064.9"/>
<rect fill="url(#gT2)" transform="translate(0,754.65)" x="344" y="-691.15" width="6" height="1064.9"/>
<rect fill="url(#gT2)" transform="translate(0,749.45)" x="350" y="-685.95" width="7" height="1064.9"/>
<rect fill="url(#gT2)" transform="translate(0,744.24)" x="357" y="-680.74" width="6" height="1064.9"/>
<rect fill="url(#gT2)" transform="translate(0,739.04)" x="363" y="-675.54" width="7" height="1064.9"/>
<rect fill="url(#gT2)" transform="translate(0,733.83)" x="370" y="-670.33" width="6" height="1064.9"/>
<rect fill="url(#gT0)" transform="translate(0,726.03)" x="376" y="-662.53" width="6" height="1064.9"/>
<rect fill="url(#gT1)" transform="translate(0,720.82)" x="382" y="-657.32" width="7" height="1064.9"/>
<rect fill="url(#gT2)" transform="translate(0,715.62)" x="389" y="-652.12" width="6" height="1064.9"/>
<rect fill="url(#gT0)" transform="translate(0,707.81)" x="395" y="-644.31" width="7" height="1064.9"/>
<rect fill="url(#gT2)" transform="translate(0,702.61)" x="402" y="-639.11" width="6" height="1064.9"/>
<rect fill="url(#gT0)" transform="translate(0,694.8)" x="408" y="-631.3" width="7" height="1064.9"/>
<rect fill="url(#gT2)" transform="translate(0,689.6)" x="415" y="-626.1" width="6" height="1064.9"/>
<rect fill="url(#gT1)" transform="translate(0,681.79)" x="421" y="-618.29" width="7" height="1064.9"/>
<rect fill="url(#gT0)" transform="translate(0,673.98)" x="428" y="-610.48" width="6" height="1064.9"/>
<rect fill="url(#gT2)" transform="translate(0,668.78)" x="434" y="-605.28" width="7" height="1064.9"/>
<rect fill="url(#gT2)" transform="translate(0,660.97)" x="441" y="-597.47" width="6" height="1064.9"/>
<rect fill="url(#gT2)" transform="translate(0,653.16)" x="447" y="-589.66" width="7" height="1064.9"/>
<rect fill="url(#gT1)" transform="translate(0,645.36)" x="454" y="-581.86" width="6" height="1064.9"/>
<rect fill="url(#gT1)" transform="translate(0,637.55)" x="460" y="-574.05" width="7" height="1064.9"/>
<rect fill="url(#gT2)" transform="translate(0,629.74)" x="467" y="-566.24" width="6" height="1064.9"/>
<rect fill="url(#gT2)" transform="translate(0,621.94)" x="473" y="-558.44" width="7" height="1064.9"/>
<rect fill="url(#gT2)" transform="translate(0,614.13)" x="480" y="-550.63" width="6" height="1064.9"/>
<rect fill="url(#gT0)" transform="translate(0,603.72)" x="486" y="-540.22" width="7" height="1064.9"/>
<rect fill="url(#gT1)" transform="translate(0,595.92)" x="493" y="-532.42" width="6" height="1064.9"/>
<rect fill="url(#gT2)" transform="translate(0,588.11)" x="499" y="-524.61" width="6" height="1064.9"/>
<rect fill="url(#gT0)" transform="translate(0,577.7)" x="505" y="-514.2" width="7" height="1064.9"/>
<rect fill="url(#gT1)" transform="translate(0,569.89)" x="512" y="-506.39" width="6" height="1064.9"/>
<rect fill="url(#gT0)" transform="translate(0,559.48)" x="518" y="-495.98" width="7" height="1064.9"/>
<rect fill="url(#gT1)" transform="translate(0,551.68)" x="525" y="-488.18" width="6" height="1064.9"/>
<rect fill="url(#gT0)" transform="translate(0,541.27)" x="531" y="-477.77" width="7" height="1064.9"/>
<rect fill="url(#gT1)" transform="translate(0,533.46)" x="538" y="-469.96" width="6" height="1064.9"/>
<rect fill="url(#gT0)" transform="translate(0,523.05)" x="544" y="-459.55" width="7" height="1064.9"/>
<rect fill="url(#gT2)" transform="translate(0,515.25)" x="551" y="-451.75" width="6" height="1064.9"/>
<rect fill="url(#gT2)" transform="translate(0,504.84)" x="557" y="-441.34" width="7" height="1064.9"/>
<rect fill="url(#gT1)" transform="translate(0,494.43)" x="564" y="-430.93" width="6" height="1064.9"/>
<rect fill="url(#gT0)" transform="translate(0,484.02)" x="570" y="-420.52" width="7" height="1064.9"/>
<rect fill="url(#gT0)" transform="translate(0,473.61)" x="577" y="-410.11" width="6" height="1064.9"/>
<rect fill="url(#gT2)" transform="translate(0,465.8)" x="583" y="-402.3" width="7" height="1064.9"/>
<rect fill="url(#gT2)" transform="translate(0,455.39)" x="590" y="-391.89" width="6" height="1064.9"/>
<rect fill="url(#gT2)" transform="translate(0,444.98)" x="596" y="-381.48" width="7" height="1064.9"/>
<rect fill="url(#gT2)" transform="translate(0,434.58)" x="603" y="-371.08" width="6" height="1064.9"/>
<rect fill="url(#gT2)" transform="translate(0,424.17)" x="609" y="-360.67" width="7" height="1064.9"/>
<rect fill="url(#gT2)" transform="translate(0,413.76)" x="616" y="-350.26" width="6" height="1064.9"/>
<rect fill="url(#gT2)" transform="translate(0,403.35)" x="622" y="-339.85" width="7" height="1064.9"/>
<rect fill="url(#gT2)" transform="translate(0,392.94)" x="629" y="-329.44" width="6" height="1064.9"/>
<rect fill="url(#gT0)" transform="translate(0,379.93)" x="635" y="-316.43" width="6" height="1064.9"/>
<rect fill="url(#gT0)" transform="translate(0,369.52)" x="641" y="-306.02" width="7" height="1064.9"/>
<rect fill="url(#gT1)" transform="translate(0,359.11)" x="648" y="-295.61" width="6" height="1064.9"/>
<rect fill="url(#gT1)" transform="translate(0,348.7)" x="654" y="-285.2" width="7" height="1064.9"/>
<rect fill="url(#gT2)" transform="translate(0,338.29)" x="661" y="-274.79" width="6" height="1064.9"/>
<rect fill="url(#gT2)" transform="translate(0,327.88)" x="667" y="-264.38" width="7" height="1064.9"/>
<rect fill="url(#gT0)" transform="translate(0,314.87)" x="674" y="-251.37" width="6" height="1064.9"/>
<rect fill="url(#gT1)" transform="translate(0,304.46)" x="680" y="-240.96" width="7" height="1064.9"/>
<rect fill="url(#gT2)" transform="translate(0,294.05)" x="687" y="-230.55" width="6" height="1064.9"/>
<rect fill="url(#gT0)" transform="translate(0,281.04)" x="693" y="-217.54" width="7" height="1064.9"/>
<rect fill="url(#gT1)" transform="translate(0,270.63)" x="700" y="-207.13" width="6" height="1064.9"/>
<rect fill="url(#gT2)" transform="translate(0,260.23)" x="706" y="-196.73" width="7" height="1064.9"/>
<rect fill="url(#gT2)" transform="translate(0,249.82)" x="713" y="-186.32" width="6" height="1064.9"/>
<rect fill="url(#gT0)" transform="translate(0,236.8)" x="719" y="-173.3" width="7" height="1064.9"/>
<rect fill="url(#gT2)" transform="translate(0,226.4)" x="726" y="-162.9" width="6" height="1064.9"/>
<rect fill="url(#gT0)" transform="translate(0,213.38)" x="732" y="-149.88" width="7" height="1064.9"/>
<rect fill="url(#gT1)" transform="translate(0,202.98)" x="739" y="-139.48" width="6" height="1064.9"/>
<rect fill="url(#gT2)" transform="translate(0,192.57)" x="745" y="-129.07" width="7" height="1064.9"/>
<rect fill="url(#gT0)" transform="translate(0,179.56)" x="752" y="-116.06" width="6" height="1064.9"/>
<rect fill="url(#gT1)" transform="translate(0,169.15)" x="758" y="-105.65" width="6" height="1064.9"/>
<rect fill="url(#gT2)" transform="translate(0,158.74)" x="764" y="-95.24" width="7" height="1064.9"/>
<rect fill="url(#gT0)" transform="translate(0,145.73)" x="771" y="-82.23" width="6" height="1064.9"/>
<rect fill="url(#gT1)" transform="translate(0,135.32)" x="777" y="-71.82" width="7" height="1064.9"/>
<rect fill="url(#gT2)" transform="translate(0,124.91)" x="784" y="-61.41" width="6" height="1064.9"/>
<rect fill="url(#gT0)" transform="translate(0,111.9)" x="790" y="-48.4" width="7" height="1064.9"/>
<rect fill="url(#gT1)" transform="translate(0,101.49)" x="797" y="-37.99" width="6" height="1064.9"/>
<rect fill="url(#gT2)" transform="translate(0,91.08)" x="803" y="-27.58" width="7" height="1064.9"/>
<rect fill="url(#gT0)" transform="translate(0,78.07)" x="810" y="-14.57" width="6" height="1064.9"/>
<rect fill="url(#gT1)" transform="translate(0,67.66)" x="816" y="-4.16" width="7" height="1064.9"/>
<rect fill="url(#gT2)" transform="translate(0,57.25)" x="823" y="6.25" width="6" height="1064.9"/>
<rect fill="url(#gT0)" transform="translate(0,44.24)" x="829" y="19.26" width="7" height="1064.9"/>
<rect fill="url(#gT1)" transform="translate(0,33.83)" x="836" y="29.67" width="6" height="1064.9"/>
<rect fill="url(#gT2)" transform="translate(0,23.42)" x="842" y="40.08" width="7" height="1064.9"/>
<rect fill="url(#gT2)" transform="translate(0,13.01)" x="849" y="50.49" width="6" height="1064.9"/>
<rect fill="url(#gT0)" transform="translate(0,-0)" x="855" y="63.5" width="7" height="1064.9"/>
<rect fill="url(#gT1)" transform="translate(0,-10.41)" x="862" y="73.91" width="6" height="1064.9"/>
<rect fill="url(#gT1)" transform="translate(0,-20.82)" x="868" y="84.32" width="7" height="1064.9"/>
<rect fill="url(#gT2)" transform="translate(0,-31.23)" x="875" y="94.73" width="6" height="1064.9"/>
<rect fill="url(#gT2)" transform="translate(0,-41.64)" x="881" y="105.14" width="7" height="1064.9"/>
<rect fill="url(#gT2)" transform="translate(0,-52.05)" x="888" y="115.55" width="6" height="1064.9"/>
<rect fill="url(#gT0)" transform="translate(0,-65.06)" x="894" y="128.56" width="6" height="1064.9"/>
<rect fill="url(#gT0)" transform="translate(0,-75.47)" x="900" y="138.97" width="7" height="1064.9"/>
<rect fill="url(#gT0)" transform="translate(0,-85.87)" x="907" y="149.37" width="6" height="1064.9"/>
<rect fill="url(#gT0)" transform="translate(0,-96.28)" x="913" y="159.78" width="7" height="1064.9"/>
<rect fill="url(#gT0)" transform="translate(0,-106.69)" x="920" y="170.19" width="6" height="1064.9"/>
<rect fill="url(#gT0)" transform="translate(0,-117.1)" x="926" y="180.6" width="7" height="1064.9"/>
<rect fill="url(#gT2)" transform="translate(0,-124.91)" x="933" y="188.41" width="6" height="1064.9"/>
<rect fill="url(#gT2)" transform="translate(0,-135.32)" x="939" y="198.82" width="7" height="1064.9"/>
<rect fill="url(#gT1)" transform="translate(0,-145.73)" x="946" y="209.23" width="6" height="1064.9"/>
<rect fill="url(#gT1)" transform="translate(0,-156.14)" x="952" y="219.64" width="7" height="1064.9"/>
<rect fill="url(#gT0)" transform="translate(0,-166.54)" x="959" y="230.04" width="6" height="1064.9"/>
<rect fill="url(#gT2)" transform="translate(0,-174.35)" x="965" y="237.85" width="7" height="1064.9"/>
<rect fill="url(#gT1)" transform="translate(0,-184.76)" x="972" y="248.26" width="6" height="1064.9"/>
<rect fill="url(#gT0)" transform="translate(0,-195.17)" x="978" y="258.67" width="7" height="1064.9"/>
<rect fill="url(#gT2)" transform="translate(0,-202.98)" x="985" y="266.48" width="6" height="1064.9"/>
<rect fill="url(#gT1)" transform="translate(0,-213.38)" x="991" y="276.88" width="7" height="1064.9"/>
<rect fill="url(#gT2)" transform="translate(0,-221.19)" x="998" y="284.69" width="6" height="1064.9"/>
<rect fill="url(#gT1)" transform="translate(0,-231.6)" x="1004" y="295.1" width="7" height="1064.9"/>
<rect fill="url(#gT2)" transform="translate(0,-239.41)" x="1011" y="302.91" width="6" height="1064.9"/>
<rect fill="url(#gT0)" transform="translate(0,-249.82)" x="1017" y="313.32" width="6" height="1064.9"/>
<rect fill="url(#gT1)" transform="translate(0,-257.62)" x="1023" y="321.12" width="7" height="1064.9"/>
<rect fill="url(#gT2)" transform="translate(0,-265.43)" x="1030" y="328.93" width="6" height="1064.9"/>
<rect fill="url(#gT2)" transform="translate(0,-273.24)" x="1036" y="336.74" width="7" height="1064.9"/>
<rect fill="url(#gT0)" transform="translate(0,-283.65)" x="1043" y="347.15" width="6" height="1064.9"/>
<rect fill="url(#gT0)" transform="translate(0,-291.45)" x="1049" y="354.95" width="7" height="1064.9"/>
<rect fill="url(#gT0)" transform="translate(0,-299.26)" x="1056" y="362.76" width="6" height="1064.9"/>
<rect fill="url(#gT0)" transform="translate(0,-307.07)" x="1062" y="370.57" width="7" height="1064.9"/>
<rect fill="url(#gT0)" transform="translate(0,-314.87)" x="1069" y="378.37" width="6" height="1064.9"/>
<rect fill="url(#gT0)" transform="translate(0,-322.68)" x="1075" y="386.18" width="7" height="1064.9"/>
<rect fill="url(#gT2)" transform="translate(0,-327.88)" x="1082" y="391.38" width="6" height="1064.9"/>
<rect fill="url(#gT2)" transform="translate(0,-335.69)" x="1088" y="399.19" width="7" height="1064.9"/>
<rect fill="url(#gT1)" transform="translate(0,-343.5)" x="1095" y="407" width="6" height="1064.9"/>
<rect fill="url(#gT0)" transform="translate(0,-351.3)" x="1101" y="414.8" width="7" height="1064.9"/>
<rect fill="url(#gT2)" transform="translate(0,-356.51)" x="1108" y="420.01" width="6" height="1064.9"/>
<rect fill="url(#gT0)" transform="translate(0,-364.32)" x="1114" y="427.82" width="7" height="1064.9"/>
<rect fill="url(#gT2)" transform="translate(0,-369.52)" x="1121" y="433.02" width="6" height="1064.9"/>
<rect fill="url(#gT0)" transform="translate(0,-377.33)" x="1127" y="440.83" width="7" height="1064.9"/>
<rect fill="url(#gT1)" transform="translate(0,-382.53)" x="1134" y="446.03" width="6" height="1064.9"/>
<rect fill="url(#gT2)" transform="translate(0,-387.74)" x="1140" y="451.24" width="7" height="1064.9"/>
<rect fill="url(#gT2)" transform="translate(0,-392.94)" x="1147" y="456.44" width="6" height="1064.9"/>
<rect fill="url(#gT0)" transform="translate(0,-400.75)" x="1153" y="464.25" width="6" height="1064.9"/>
<rect fill="url(#gT0)" transform="translate(0,-405.95)" x="1159" y="469.45" width="7" height="1064.9"/>
<rect fill="url(#gT0)" transform="translate(0,-411.16)" x="1166" y="474.66" width="6" height="1064.9"/>
<rect fill="url(#gT0)" transform="translate(0,-416.36)" x="1172" y="479.86" width="7" height="1064.9"/>
<rect fill="url(#gT0)" transform="translate(0,-421.56)" x="1179" y="485.06" width="6" height="1064.9"/>
<rect fill="url(#gT2)" transform="translate(0,-424.17)" x="1185" y="487.67" width="7" height="1064.9"/>
<rect fill="url(#gT1)" transform="translate(0,-429.37)" x="1192" y="492.87" width="6" height="1064.9"/>
<rect fill="url(#gT0)" transform="translate(0,-434.58)" x="1198" y="498.08" width="7" height="1064.9"/>
<rect fill="url(#gT2)" transform="translate(0,-437.18)" x="1205" y="500.68" width="6" height="1064.9"/>
<rect fill="url(#gT1)" transform="translate(0,-442.38)" x="1211" y="505.88" width="7" height="1064.9"/>
<rect fill="url(#gT2)" transform="translate(0,-444.98)" x="1218" y="508.48" width="6" height="1064.9"/>
<rect fill="url(#gT0)" transform="translate(0,-450.19)" x="1224" y="513.69" width="7" height="1064.9"/>
<rect fill="url(#gT1)" transform="translate(0,-452.79)" x="1231" y="516.29" width="6" height="1064.9"/>
<rect fill="url(#gT2)" transform="translate(0,-455.39)" x="1237" y="518.89" width="7" height="1064.9"/>
<rect fill="url(#gT2)" transform="translate(0,-458)" x="1244" y="521.5" width="6" height="1064.9"/>
<rect fill="url(#gT0)" transform="translate(0,-463.2)" x="1250" y="526.7" width="7" height="1064.9"/>
<rect fill="url(#gT0)" transform="translate(0,-465.8)" x="1257" y="529.3" width="6" height="1064.9"/>
<rect fill="url(#gT2)" transform="translate(0,-465.8)" x="1263" y="529.3" width="7" height="1064.9"/>
<rect fill="url(#gT2)" transform="translate(0,-468.41)" x="1270" y="531.91" width="6" height="1064.9"/>
<rect fill="url(#gT1)" transform="translate(0,-471.01)" x="1276" y="534.51" width="6" height="1064.9"/>
<rect fill="url(#gT1)" transform="translate(0,-473.61)" x="1282" y="537.11" width="7" height="1064.9"/>
<rect fill="url(#gT0)" transform="translate(0,-476.21)" x="1289" y="539.71" width="6" height="1064.9"/>
<rect fill="url(#gT1)" transform="translate(0,-476.21)" x="1295" y="539.71" width="7" height="1064.9"/>
<rect fill="url(#gT0)" transform="translate(0,-478.81)" x="1302" y="542.31" width="6" height="1064.9"/>
<rect fill="url(#gT1)" transform="translate(0,-478.81)" x="1308" y="542.31" width="7" height="1064.9"/>
<rect fill="url(#gT2)" transform="translate(0,-478.81)" x="1315" y="542.31" width="6" height="1064.9"/>
<rect fill="url(#gT0)" transform="translate(0,-481.42)" x="1321" y="544.92" width="7" height="1064.9"/>
<rect fill="url(#gT0)" transform="translate(0,-481.42)" x="1328" y="544.92" width="6" height="1064.9"/>
<rect fill="url(#gT1)" transform="translate(0,-481.42)" x="1334" y="544.92" width="7" height="1064.9"/>
<rect fill="url(#gT1)" transform="translate(0,-481.42)" x="1341" y="544.92" width="18" height="1064.9"/>
</g></g></g>
<path d="M178.5 75.5H1344V1116.4H178.5ZM178.5 1116.4v-12.1M178.5 75.5v12.1M372.75 1116.4v-12.1M372.75 75.5v12.1M567 1116.4v-12.1M567 75.5v12.1M761.25 1116.4v-12.1M761.25 75.5v12.1M955.5 1116.4v-12.1M955.5 75.5v12.1M1149.75 1116.4v-12.1M1149.75 75.5v12.1M1344 1116.4v-12.1M1344 75.5v12.1M178.5 1116.4h12.1M1344 1116.4h-12.1M178.5 942.92h12.1M1344 942.92h-12.1M178.5 769.43h12.1M1344 769.43h-12.1M178.5 595.95h12.1M1344 595.95h-12.1M178.5 422.47h12.1M1344 422.47h-12.1M178.5 248.98h12.1M1344 248.98h-12.1M178.5 75.5h12.1M1344 75.5h-12.1" stroke="#262626" stroke-width="2.75" fill="none" stroke-linejoin="miter"/>
<g font-size="40">
<text x="177.3" y="1174.3" text-anchor="middle">-90</text>
<text x="371.55" y="1174.3" text-anchor="middle">-60</text>
<text x="565.8" y="1174.3" text-anchor="middle">-30</text>
<text x="760.05" y="1174.3" text-anchor="middle">0</text>
<text x="954.3" y="1174.3" text-anchor="middle">30</text>
<text x="1148.55" y="1174.3" text-anchor="middle">60</text>
<text x="1342.8" y="1174.3" text-anchor="middle">90</text>
<text x="161" y="1132.9" text-anchor="end">0</text>
<text x="161" y="959.42" text-anchor="end">10</text>
<text x="161" y="785.93" text-anchor="end">20</text>
<text x="161" y="612.45" text-anchor="end">30</text>
<text x="161" y="438.97" text-anchor="end">40</text>
<text x="161" y="265.48" text-anchor="end">50</text>
<text x="161" y="92" text-anchor="end">60</text>
</g>
<text x="761.25" y="1233" font-size="45" text-anchor="middle">angle (°)</text>
<text transform="translate(91.2,595.95) rotate(-90)" font-size="45" text-anchor="middle">range (km)</text>
<rect x="1397" y="75.5" width="63.5" height="1040.7" fill="url(#cb)"/>
<path d="M1397 75.5H1460.5V1116.2H1397ZM1460.5 1000.57h-11.5M1460.5 884.93h-11.5M1460.5 769.3h-11.5M1460.5 653.67h-11.5M1460.5 538.03h-11.5M1460.5 422.4h-11.5M1460.5 306.77h-11.5M1460.5 191.13h-11.5" stroke="#262626" stroke-width="2.7" fill="none"/>
<g font-size="36.5">
<text x="1474.3" y="1131.7">-90</text>
<text x="1474.3" y="1016.07">-80</text>
<text x="1474.3" y="900.43">-70</text>
<text x="1474.3" y="784.8">-60</text>
<text x="1474.3" y="669.17">-50</text>
<text x="1474.3" y="553.53">-40</text>
<text x="1474.3" y="437.9">-30</text>
<text x="1474.3" y="322.27">-20</text>
<text x="1474.3" y="206.63">-10</text>
<text x="1474.3" y="91">0</text>
</g>
<g class="an" font-size="55">
<text x="546.5" y="201.5">EFT2</text>
<text x="548.5" y="408.5">EFT1</text>
<text x="542.5" y="685">NFT2</text>
<text x="523.5" y="789.2">Target</text>
<text x="540.5" y="896">NFT1</text>
</g>
<path d="M685 181.7L794.5 181.7" stroke="#000" stroke-width="4.3" fill="none"/><path d="M827.5 181.7L784 198L794.5 181.7L784 165.4Z" fill="#000"/>
<path d="M687 388.3L796.8 388.3" stroke="#000" stroke-width="4.3" fill="none"/><path d="M829.8 388.3L786.3 404.6L796.8 388.3L786.3 372Z" fill="#000"/>
<path d="M685.5 662.6L798.34 722.36" stroke="#000" stroke-width="4.3" fill="none"/><path d="M827.5 737.8L781.43 731.85L798.34 722.36L796.69 703.04Z" fill="#000"/>
<path d="M686.8 770.3L795.8 770.3" stroke="#000" stroke-width="4.3" fill="none"/><path d="M828.8 770.3L785.3 786.6L795.8 770.3L785.3 754Z" fill="#000"/>
<path d="M683.7 875L800.33 815.25" stroke="#000" stroke-width="4.3" fill="none"/><path d="M829.7 800.2L798.42 834.54L800.33 815.25L783.55 805.53Z" fill="#000"/>
<rect x="862.4" y="184.2" width="314" height="150" rx="7" fill="#fbfbfe" stroke="#a3a3a3" stroke-width="2.4"/>
<text class="tl" x="881.9" y="250.2" font-size="40.7">[X,Y]</text>
<text class="v" x="983" y="250.2" font-size="40.7">[15 54]</text>
<text class="tl" x="881.9" y="304.2" font-size="40.7">Index</text>
<text class="v" x="995.8" y="304.2" font-size="40.7">-85.5352</text>
<rect x="862.4" y="391.8" width="314" height="150" rx="7" fill="#fbfbfe" stroke="#a3a3a3" stroke-width="2.4"/>
<text class="tl" x="881.9" y="457.8" font-size="40.7">[X,Y]</text>
<text class="v" x="983" y="457.8" font-size="40.7">[15 42]</text>
<text class="tl" x="881.9" y="511.8" font-size="40.7">Index</text>
<text class="v" x="995.8" y="511.8" font-size="40.7">-84.9233</text>
<rect x="862.4" y="614.9" width="271.7" height="150" rx="7" fill="#fbfbfe" stroke="#a3a3a3" stroke-width="2.4"/>
<text class="tl" x="881.9" y="680.9" font-size="40.7">[X,Y]</text>
<text class="v" x="983" y="680.9" font-size="40.7">[15 20]</text>
<text class="tl" x="881.9" y="734.9" font-size="40.7">Index</text>
<text class="v" x="995.8" y="734.9" font-size="40.7">0</text>
<circle cx="858.38" cy="179.59" r="12.5" fill="#fffde8"/><circle cx="858.38" cy="179.59" r="7.4" fill="#1c1c1c"/>
<circle cx="858.38" cy="387.77" r="12.5" fill="#fffde8"/><circle cx="858.38" cy="387.77" r="7.4" fill="#1c1c1c"/>
<circle cx="858.38" cy="769.43" r="12.5" fill="#fffde8"/><circle cx="858.38" cy="769.43" r="7.4" fill="#1c1c1c"/>
<text class="cap" x="835" y="1393.6" font-size="83" text-anchor="middle">(<tspan class="bd">a</tspan>)</text>
<path d="M438.33 1610.4V2617.5M651.07 1610.4V2617.5M863.8 1610.4V2617.5M1076.53 1610.4V2617.5M1289.27 1610.4V2617.5" stroke="#262626" stroke-opacity="0.13" stroke-width="2.4" fill="none"/>
<path d="M225.6 2505.6H1502M225.6 2393.7H1502M225.6 2281.8H1502M225.6 2169.9H1502M225.6 2058H1502M225.6 1946.1H1502M225.6 1834.2H1502M225.6 1722.3H1502" stroke="#262626" stroke-opacity="0.13" stroke-width="2.4" fill="none"/>
<path d="M225.6 1610.4H1502V2617.5H225.6ZM225.6 2617.5v-14.5M225.6 1610.4v14.5M438.33 2617.5v-14.5M438.33 1610.4v14.5M651.07 2617.5v-14.5M651.07 1610.4v14.5M863.8 2617.5v-14.5M863.8 1610.4v14.5M1076.53 2617.5v-14.5M1076.53 1610.4v14.5M1289.27 2617.5v-14.5M1289.27 1610.4v14.5M1502 2617.5v-14.5M1502 1610.4v14.5M225.6 2617.5h14.5M1502 2617.5h-14.5M225.6 2505.6h14.5M1502 2505.6h-14.5M225.6 2393.7h14.5M1502 2393.7h-14.5M225.6 2281.8h14.5M1502 2281.8h-14.5M225.6 2169.9h14.5M1502 2169.9h-14.5M225.6 2058h14.5M1502 2058h-14.5M225.6 1946.1h14.5M1502 1946.1h-14.5M225.6 1834.2h14.5M1502 1834.2h-14.5M225.6 1722.3h14.5M1502 1722.3h-14.5M225.6 1610.4h14.5M1502 1610.4h-14.5" stroke="#262626" stroke-width="2.9" fill="none" stroke-linejoin="miter"/>
<g font-size="40">
<text x="224.4" y="2673" text-anchor="middle">0</text>
<text x="437.13" y="2673" text-anchor="middle">10</text>
<text x="649.87" y="2673" text-anchor="middle">20</text>
<text x="862.6" y="2673" text-anchor="middle">30</text>
<text x="1075.33" y="2673" text-anchor="middle">40</text>
<text x="1288.07" y="2673" text-anchor="middle">50</text>
<text x="1500.8" y="2673" text-anchor="middle">60</text>
<text x="207.2" y="2633" text-anchor="end">-90</text>
<text x="207.2" y="2521.1" text-anchor="end">-80</text>
<text x="207.2" y="2409.2" text-anchor="end">-70</text>
<text x="207.2" y="2297.3" text-anchor="end">-60</text>
<text x="207.2" y="2185.4" text-anchor="end">-50</text>
<text x="207.2" y="2073.5" text-anchor="end">-40</text>
<text x="207.2" y="1961.6" text-anchor="end">-30</text>
<text x="207.2" y="1849.7" text-anchor="end">-20</text>
<text x="207.2" y="1737.8" text-anchor="end">-10</text>
<text x="207.2" y="1625.9" text-anchor="end">0</text>
</g>
<polyline clip-path="url(#cpb)" points="225.6,1802.6 226.7,1803.2 227.7,1803.8 228.8,1804.5 229.9,1805.3 230.9,1806 232,1806.8 233,1807.7 234.1,1808.6 235.2,1809.5 236.2,1810.5 237.3,1811.6 238.4,1812.7 239.4,1813.8 240.5,1815 241.6,1816.2 242.6,1817.5 243.7,1818.9 244.7,1820.3 245.8,1821.8 246.9,1823.3 247.9,1824.9 249,1826.6 250.1,1828.3 251.1,1830.1 252.2,1832 253.3,1834 254.3,1836 255.4,1838.2 256.4,1840.4 257.5,1842.7 258.6,1845.1 259.6,1847.7 260.7,1850.3 261.8,1853.1 262.8,1855.9 263.9,1859 265,1862.1 266,1865.4 267.1,1868.9 268.1,1872.6 269.2,1876.4 270.3,1880.5 271.3,1884.8 272.4,1889.4 273.5,1894.2 274.5,1899.4 275.6,1904.9 276.7,1910.7 277.7,1917.1 278.8,1923.9 279.8,1931.3 280.9,1939.4 282,1948.4 283,1958.3 284.1,1969.4 285.2,1982.1 286.2,1996.8 287.3,2014.2 288.4,2035.6 289.4,2063.3 290.5,2102.5 292.6,2165.4 294.7,2101.6 295.8,2062 296.9,2033.8 297.9,2012 299,1994.1 300.1,1978.9 301.1,1965.8 302.2,1954.2 303.2,1943.8 304.3,1934.5 305.4,1925.9 306.4,1918 307.5,1910.7 308.6,1904 309.6,1897.6 310.7,1891.7 311.8,1886.1 312.8,1880.8 313.9,1875.8 314.9,1871 316,1866.5 317.1,1862.2 318.1,1858.1 319.2,1854.1 320.3,1850.4 321.3,1846.7 322.4,1843.3 323.5,1839.9 324.5,1836.7 325.6,1833.6 326.6,1830.6 327.7,1827.8 328.8,1825 329.8,1822.3 330.9,1819.7 332,1817.2 333,1814.8 334.1,1812.5 335.2,1810.2 336.2,1808 337.3,1805.9 338.3,1803.8 339.4,1801.8 340.5,1799.9 341.5,1798 342.6,1796.2 343.7,1794.5 344.7,1792.8 345.8,1791.1 346.9,1789.5 347.9,1788 349,1786.5 350,1785 351.1,1783.6 352.2,1782.3 353.2,1781 354.3,1779.7 355.4,1778.5 356.4,1777.3 357.5,1776.1 358.6,1775 359.6,1773.9 360.7,1772.9 361.7,1771.9 362.8,1771 363.9,1770.1 364.9,1769.2 366,1768.3 367.1,1767.5 368.1,1766.7 369.2,1766 370.3,1765.3 371.3,1764.6 372.4,1764 373.4,1763.4 374.5,1762.8 375.6,1762.3 376.6,1761.8 377.7,1761.3 378.8,1760.9 379.8,1760.5 380.9,1760.1 382,1759.8 383,1759.5 384.1,1759.2 385.1,1759 386.2,1758.8 387.3,1758.6 388.3,1758.4 389.4,1758.3 390.5,1758.3 391.5,1758.2 392.6,1758.2 393.7,1758.3 394.7,1758.3 395.8,1758.4 396.9,1758.6 397.9,1758.7 399,1758.9 400,1759.2 401.1,1759.5 402.2,1759.8 403.2,1760.1 404.3,1760.5 405.4,1761 406.4,1761.4 407.5,1762 408.6,1762.5 409.6,1763.1 410.7,1763.8 411.7,1764.4 412.8,1765.2 413.9,1765.9 414.9,1766.8 416,1767.6 417.1,1768.6 418.1,1769.5 419.2,1770.6 420.3,1771.7 421.3,1772.8 422.4,1774 423.4,1775.3 424.5,1776.6 425.6,1778 426.6,1779.4 427.7,1781 428.8,1782.6 429.8,1784.2 430.9,1786 432,1787.8 433,1789.8 434.1,1791.8 435.1,1793.9 436.2,1796.1 437.3,1798.5 438.3,1800.9 439.4,1803.5 440.5,1806.2 441.5,1809.1 442.6,1812.1 443.7,1815.2 444.7,1818.6 445.8,1822.1 446.8,1825.8 447.9,1829.8 449,1834 450,1838.5 451.1,1843.2 452.2,1848.4 453.2,1853.9 454.3,1859.8 455.4,1866.2 456.4,1873.2 457.5,1880.8 458.5,1889.3 459.6,1898.7 460.7,1909.2 461.7,1921.2 462.8,1935.1 463.9,1951.6 464.9,1971.8 466,1997.6 467.1,2033.4 468.1,2091.8 469.4,2185.6 470.2,2130 471.3,2050.7 472.4,2007.2 473.4,1977 474.5,1953.7 475.6,1934.8 476.6,1918.8 477.7,1905 478.8,1892.7 479.8,1881.8 480.9,1871.9 481.9,1862.8 483,1854.4 484.1,1846.6 485.1,1839.4 486.2,1832.5 487.3,1826.1 488.3,1820.1 489.4,1814.3 490.5,1808.9 491.5,1803.7 492.6,1798.7 493.6,1793.9 494.7,1789.4 495.8,1785 496.8,1780.8 497.9,1776.7 499,1772.8 500,1769 501.1,1765.3 502.2,1761.7 503.2,1758.3 504.3,1755 505.3,1751.7 506.4,1748.6 507.5,1745.5 508.5,1742.5 509.6,1739.6 510.7,1736.8 511.7,1734 512.8,1731.3 513.9,1728.7 514.9,1726.1 516,1723.6 517,1721.2 518.1,1718.8 519.2,1716.5 520.2,1714.2 521.3,1711.9 522.4,1709.7 523.4,1707.6 524.5,1705.5 525.6,1703.4 526.6,1701.4 527.7,1699.4 528.7,1697.5 529.8,1695.6 530.9,1693.7 531.9,1691.9 533,1690.1 534.1,1688.3 535.1,1686.6 536.2,1684.9 537.3,1683.3 538.3,1681.6 539.4,1680 540.4,1678.4 541.5,1676.9 542.6,1675.4 543.6,1673.9 544.7,1672.4 545.8,1671 546.8,1669.5 547.9,1668.1 549,1666.8 550,1665.4 551.1,1664.1 552.1,1662.8 553.2,1661.5 554.3,1660.3 555.3,1659 556.4,1657.8 557.5,1656.6 558.5,1655.5 559.6,1654.3 560.7,1653.2 561.7,1652.1 562.8,1651 563.8,1649.9 564.9,1648.8 566,1647.8 567,1646.8 568.1,1645.8 569.2,1644.8 570.2,1643.8 571.3,1642.9 572.4,1642 573.4,1641 574.5,1640.1 575.5,1639.3 576.6,1638.4 577.7,1637.5 578.7,1636.7 579.8,1635.9 580.9,1635.1 581.9,1634.3 583,1633.5 584.1,1632.7 585.1,1632 586.2,1631.3 587.2,1630.6 588.3,1629.9 589.4,1629.2 590.4,1628.5 591.5,1627.8 592.6,1627.2 593.6,1626.5 594.7,1625.9 595.8,1625.3 596.8,1624.7 597.9,1624.1 598.9,1623.6 600,1623 601.1,1622.5 602.1,1622 603.2,1621.4 604.3,1620.9 605.3,1620.4 606.4,1620 607.5,1619.5 608.5,1619.1 609.6,1618.6 610.6,1618.2 611.7,1617.8 612.8,1617.4 613.8,1617 614.9,1616.6 616,1616.2 617,1615.9 618.1,1615.5 619.2,1615.2 620.2,1614.9 621.3,1614.5 622.3,1614.2 623.4,1614 624.5,1613.7 625.5,1613.4 626.6,1613.2 627.7,1612.9 628.7,1612.7 629.8,1612.5 630.9,1612.3 631.9,1612.1 633,1611.9 634,1611.7 635.1,1611.5 636.2,1611.4 637.2,1611.2 638.3,1611.1 639.4,1611 640.4,1610.9 641.5,1610.8 642.6,1610.7 643.6,1610.6 644.7,1610.6 645.7,1610.5 646.8,1610.5 647.9,1610.4 648.9,1610.4 650,1610.4 651.1,1610.4 652.1,1610.4 653.2,1610.4 654.3,1610.5 655.3,1610.5 656.4,1610.6 657.4,1610.6 658.5,1610.7 659.6,1610.8 660.6,1610.9 661.7,1611 662.8,1611.1 663.8,1611.3 664.9,1611.4 666,1611.6 667,1611.7 668.1,1611.9 669.1,1612.1 670.2,1612.3 671.3,1612.5 672.3,1612.7 673.4,1612.9 674.5,1613.2 675.5,1613.4 676.6,1613.7 677.7,1614 678.7,1614.3 679.8,1614.6 680.8,1614.9 681.9,1615.2 683,1615.5 684,1615.9 685.1,1616.2 686.2,1616.6 687.2,1617 688.3,1617.4 689.4,1617.8 690.4,1618.2 691.5,1618.6 692.5,1619 693.6,1619.5 694.7,1620 695.7,1620.4 696.8,1620.9 697.9,1621.4 698.9,1621.9 700,1622.5 701.1,1623 702.1,1623.5 703.2,1624.1 704.2,1624.7 705.3,1625.3 706.4,1625.9 707.4,1626.5 708.5,1627.1 709.6,1627.8 710.6,1628.4 711.7,1629.1 712.8,1629.8 713.8,1630.5 714.9,1631.2 716,1631.9 717,1632.6 718.1,1633.4 719.1,1634.1 720.2,1634.9 721.3,1635.7 722.3,1636.5 723.4,1637.4 724.5,1638.2 725.5,1639.1 726.6,1639.9 727.7,1640.8 728.7,1641.7 729.8,1642.6 730.8,1643.6 731.9,1644.5 733,1645.5 734,1646.5 735.1,1647.5 736.2,1648.5 737.2,1649.5 738.3,1650.6 739.4,1651.7 740.4,1652.8 741.5,1653.9 742.5,1655 743.6,1656.2 744.7,1657.3 745.7,1658.5 746.8,1659.7 747.9,1661 748.9,1662.2 750,1663.5 751.1,1664.8 752.1,1666.1 753.2,1667.4 754.2,1668.8 755.3,1670.2 756.4,1671.6 757.4,1673 758.5,1674.5 759.6,1676 760.6,1677.5 761.7,1679 762.8,1680.6 763.8,1682.2 764.9,1683.8 765.9,1685.4 767,1687.1 768.1,1688.8 769.1,1690.5 770.2,1692.3 771.3,1694.1 772.3,1696 773.4,1697.8 774.5,1699.8 775.5,1701.7 776.6,1703.7 777.6,1705.7 778.7,1707.8 779.8,1709.9 780.8,1712 781.9,1714.2 783,1716.5 784,1718.8 785.1,1721.1 786.2,1723.5 787.2,1726 788.3,1728.5 789.3,1731.1 790.4,1733.7 791.5,1736.4 792.5,1739.1 793.6,1742 794.7,1744.9 795.7,1747.8 796.8,1750.9 797.9,1754.1 798.9,1757.3 800,1760.6 801,1764.1 802.1,1767.6 803.2,1771.3 804.2,1775.1 805.3,1779 806.4,1783 807.4,1787.2 808.5,1791.6 809.6,1796.1 810.6,1800.9 811.7,1805.8 812.7,1811 813.8,1816.4 814.9,1822.1 815.9,1828.1 817,1834.4 818.1,1841.1 819.1,1848.3 820.2,1856 821.3,1864.2 822.3,1873.2 823.4,1882.9 824.4,1893.7 825.5,1905.6 826.6,1919.1 827.6,1934.6 828.7,1952.9 829.8,1975.1 830.8,2003.6 831.9,2043.5 833,2111.5 834,2136.3 835.1,2112.6 836.1,2045.8 837.2,2007 838.3,1979.6 839.3,1958.5 840.4,1941.4 841.5,1927 842.5,1914.7 843.6,1903.9 844.7,1894.3 845.7,1885.6 846.8,1877.8 847.8,1870.7 848.9,1864.2 850,1858.1 851,1852.6 852.1,1847.4 853.2,1842.5 854.2,1837.9 855.3,1833.7 856.4,1829.7 857.4,1825.9 858.5,1822.3 859.5,1818.9 860.6,1815.7 861.7,1812.6 862.7,1809.7 863.8,1807 864.9,1804.3 865.9,1801.8 867,1799.5 868.1,1797.2 869.1,1795 870.2,1792.9 871.2,1791 872.3,1789.1 873.4,1787.3 874.4,1785.5 875.5,1783.9 876.6,1782.3 877.6,1780.8 878.7,1779.4 879.8,1778 880.8,1776.7 881.9,1775.4 882.9,1774.2 884,1773.1 885.1,1772 886.1,1770.9 887.2,1769.9 888.3,1769 889.3,1768.1 890.4,1767.3 891.5,1766.5 892.5,1765.7 893.6,1765 894.6,1764.3 895.7,1763.7 896.8,1763.1 897.8,1762.5 898.9,1762 900,1761.5 901,1761.1 902.1,1760.7 903.2,1760.3 904.2,1759.9 905.3,1759.6 906.3,1759.3 907.4,1759.1 908.5,1758.9 909.5,1758.7 910.6,1758.5 911.7,1758.4 912.7,1758.3 913.8,1758.3 914.9,1758.2 915.9,1758.2 917,1758.3 918,1758.3 919.1,1758.4 920.2,1758.5 921.2,1758.7 922.3,1758.8 923.4,1759 924.4,1759.2 925.5,1759.5 926.6,1759.8 927.6,1760.1 928.7,1760.4 929.7,1760.8 930.8,1761.1 931.9,1761.6 932.9,1762 934,1762.5 935.1,1762.9 936.1,1763.5 937.2,1764 938.3,1764.6 939.3,1765.2 940.4,1765.8 941.4,1766.4 942.5,1767.1 943.6,1767.8 944.6,1768.5 945.7,1769.3 946.8,1770 947.8,1770.8 948.9,1771.7 950,1772.5 951,1773.4 952.1,1774.3 953.1,1775.3 954.2,1776.2 955.3,1777.2 956.3,1778.3 957.4,1779.3 958.5,1780.4 959.5,1781.5 960.6,1782.7 961.7,1783.8 962.7,1785 963.8,1786.3 964.8,1787.5 965.9,1788.8 967,1790.1 968,1791.5 969.1,1792.9 970.2,1794.3 971.2,1795.8 972.3,1797.3 973.4,1798.8 974.4,1800.3 975.5,1801.9 976.5,1803.6 977.6,1805.2 978.7,1806.9 979.7,1808.7 980.8,1810.5 981.9,1812.3 982.9,1814.2 984,1816.1 985.1,1818 986.1,1820 987.2,1822.1 988.2,1824.1 989.3,1826.3 990.4,1828.5 991.4,1830.7 992.5,1833 993.6,1835.3 994.6,1837.7 995.7,1840.1 996.8,1842.6 997.8,1845.2 998.9,1847.8 999.9,1850.5 1001,1853.3 1002.1,1856.1 1003.1,1859 1004.2,1862 1005.3,1865.1 1006.3,1868.2 1007.4,1871.4 1008.5,1874.7 1009.5,1878.1 1010.6,1881.6 1011.6,1885.2 1012.7,1889 1013.8,1892.8 1014.8,1896.7 1015.9,1900.8 1017,1905 1018,1909.4 1019.1,1913.9 1020.2,1918.6 1021.2,1923.4 1022.3,1928.5 1023.4,1933.8 1024.4,1939.2 1025.5,1945 1026.5,1950.9 1027.6,1957.2 1028.7,1963.8 1029.7,1970.8 1030.8,1978.1 1031.9,1985.9 1032.9,1994.1 1034,2002.9 1035.1,2012.3 1036.1,2022.5 1037.2,2033.3 1038.2,2045.1 1039.3,2057.8 1040.4,2071.5 1041.4,2085.9 1042.5,2100.4 1043.6,2113.9 1044.6,2124 1045.7,2127.9 1046.8,2124.6 1047.8,2115.9 1048.9,2104.6 1049.9,2092.5 1051,2080.9 1052.1,2070.1 1053.1,2060.3 1054.2,2051.4 1055.3,2043.4 1056.3,2036.2 1057.4,2029.6 1058.5,2023.6 1059.5,2018.2 1060.6,2013.2 1061.6,2008.7 1062.7,2004.6 1063.8,2000.9 1064.8,1997.5 1065.9,1994.4 1067,1991.6 1068,1989 1069.1,1986.7 1070.2,1984.7 1071.2,1982.8 1072.3,1981.2 1073.3,1979.7 1074.4,1978.5 1075.5,1977.4 1076.5,1976.6 1077.6,1975.9 1078.7,1975.3 1079.7,1975 1080.8,1974.8 1081.9,1974.7 1082.9,1974.9 1084,1975.2 1085,1975.7 1086.1,1976.3 1087.2,1977.1 1088.2,1978.1 1089.3,1979.3 1090.4,1980.6 1091.4,1982.2 1092.5,1983.9 1093.6,1985.9 1094.6,1988.1 1095.7,1990.5 1096.7,1993.1 1097.8,1996.1 1098.9,1999.3 1099.9,2002.8 1101,2006.7 1102.1,2011 1103.1,2015.6 1104.2,2020.8 1105.3,2026.5 1106.3,2032.8 1107.4,2039.8 1108.4,2047.6 1109.5,2056.5 1110.6,2066.6 1111.6,2078.2 1112.7,2091.9 1113.8,2108.4 1114.8,2128.9 1115.9,2155.6 1117,2193.9 1118,2260.1 1119.1,2560.7 1120.1,2257.9 1121.2,2189.4 1122.3,2149 1123.3,2120 1124.4,2097.3 1125.5,2078.6 1126.5,2062.7 1127.6,2048.8 1128.7,2036.5 1129.7,2025.3 1130.8,2015.2 1131.8,2005.9 1132.9,1997.3 1134,1989.3 1135,1981.8 1136.1,1974.8 1137.2,1968.2 1138.2,1961.9 1139.3,1956 1140.4,1950.3 1141.4,1944.9 1142.5,1939.7 1143.5,1934.8 1144.6,1930 1145.7,1925.5 1146.7,1921.1 1147.8,1916.8 1148.9,1912.8 1149.9,1908.8 1151,1905 1152.1,1901.4 1153.1,1897.8 1154.2,1894.3 1155.2,1891 1156.3,1887.7 1157.4,1884.6 1158.4,1881.5 1159.5,1878.6 1160.6,1875.7 1161.6,1872.8 1162.7,1870.1 1163.8,1867.4 1164.8,1864.8 1165.9,1862.3 1166.9,1859.8 1168,1857.4 1169.1,1855.1 1170.1,1852.8 1171.2,1850.6 1172.3,1848.4 1173.3,1846.3 1174.4,1844.2 1175.5,1842.2 1176.5,1840.2 1177.6,1838.3 1178.6,1836.4 1179.7,1834.5 1180.8,1832.7 1181.8,1831 1182.9,1829.3 1184,1827.6 1185,1826 1186.1,1824.4 1187.2,1822.8 1188.2,1821.3 1189.3,1819.8 1190.3,1818.3 1191.4,1816.9 1192.5,1815.5 1193.5,1814.2 1194.6,1812.9 1195.7,1811.6 1196.7,1810.3 1197.8,1809.1 1198.9,1807.9 1199.9,1806.7 1201,1805.6 1202,1804.5 1203.1,1803.4 1204.2,1802.3 1205.2,1801.3 1206.3,1800.3 1207.4,1799.3 1208.4,1798.4 1209.5,1797.5 1210.6,1796.6 1211.6,1795.7 1212.7,1794.9 1213.7,1794.1 1214.8,1793.3 1215.9,1792.5 1216.9,1791.7 1218,1791 1219.1,1790.3 1220.1,1789.6 1221.2,1789 1222.3,1788.4 1223.3,1787.8 1224.4,1787.2 1225.4,1786.6 1226.5,1786.1 1227.6,1785.6 1228.6,1785.1 1229.7,1784.6 1230.8,1784.2 1231.8,1783.7 1232.9,1783.3 1234,1782.9 1235,1782.6 1236.1,1782.2 1237.1,1781.9 1238.2,1781.6 1239.3,1781.3 1240.3,1781.1 1241.4,1780.8 1242.5,1780.6 1243.5,1780.4 1244.6,1780.2 1245.7,1780.1 1246.7,1780 1247.8,1779.8 1248.8,1779.7 1249.9,1779.7 1251,1779.6 1252,1779.6 1253.1,1779.6 1254.2,1779.6 1255.2,1779.6 1256.3,1779.7 1257.4,1779.7 1258.4,1779.8 1259.5,1780 1260.5,1780.1 1261.6,1780.2 1262.7,1780.4 1263.7,1780.6 1264.8,1780.8 1265.9,1781.1 1266.9,1781.3 1268,1781.6 1269.1,1781.9 1270.1,1782.3 1271.2,1782.6 1272.2,1783 1273.3,1783.4 1274.4,1783.8 1275.4,1784.2 1276.5,1784.7 1277.6,1785.2 1278.6,1785.7 1279.7,1786.2 1280.8,1786.8 1281.8,1787.3 1282.9,1787.9 1283.9,1788.6 1285,1789.2 1286.1,1789.9 1287.1,1790.6 1288.2,1791.3 1289.3,1792.1 1290.3,1792.8 1291.4,1793.6 1292.5,1794.5 1293.5,1795.3 1294.6,1796.2 1295.6,1797.1 1296.7,1798 1297.8,1799 1298.8,1800 1299.9,1801 1301,1802.1 1302,1803.2 1303.1,1804.3 1304.2,1805.4 1305.2,1806.6 1306.3,1807.8 1307.3,1809.1 1308.4,1810.4 1309.5,1811.7 1310.5,1813 1311.6,1814.4 1312.7,1815.9 1313.7,1817.3 1314.8,1818.9 1315.9,1820.4 1316.9,1822 1318,1823.6 1319,1825.3 1320.1,1827 1321.2,1828.8 1322.2,1830.6 1323.3,1832.5 1324.4,1834.4 1325.4,1836.4 1326.5,1838.5 1327.6,1840.5 1328.6,1842.7 1329.7,1844.9 1330.7,1847.2 1331.8,1849.5 1332.9,1852 1333.9,1854.5 1335,1857 1336.1,1859.7 1337.1,1862.4 1338.2,1865.3 1339.3,1868.2 1340.3,1871.2 1341.4,1874.3 1342.4,1877.6 1343.5,1880.9 1344.6,1884.4 1345.6,1888 1346.7,1891.8 1347.8,1895.7 1348.8,1899.8 1349.9,1904 1351,1908.5 1352,1913.1 1353.1,1918 1354.2,1923.2 1355.2,1928.6 1356.3,1934.3 1357.3,1940.4 1358.4,1946.9 1359.5,1953.8 1360.5,1961.2 1361.6,1969.2 1362.7,1977.9 1363.7,1987.5 1364.8,1998 1365.9,2009.7 1366.9,2023 1368,2038.2 1369,2056.3 1370.1,2078.3 1371.2,2106.6 1372.2,2146.3 1373.3,2214.1 1374.4,2567.5 1375.4,2214.8 1376.5,2147.8 1377.6,2108.8 1378.6,2081.2 1379.7,2060 1380.7,2042.7 1381.8,2028.1 1382.9,2015.6 1383.9,2004.6 1385,1994.9 1386.1,1986.1 1387.1,1978.2 1388.2,1970.9 1389.3,1964.2 1390.3,1958 1391.4,1952.3 1392.4,1947 1393.5,1942 1394.6,1937.4 1395.6,1933 1396.7,1928.8 1397.8,1924.9 1398.8,1921.3 1399.9,1917.8 1401,1914.5 1402,1911.4 1403.1,1908.4 1404.1,1905.6 1405.2,1902.9 1406.3,1900.3 1407.3,1897.9 1408.4,1895.5 1409.5,1893.3 1410.5,1891.2 1411.6,1889.2 1412.7,1887.3 1413.7,1885.5 1414.8,1883.7 1415.8,1882.1 1416.9,1880.5 1418,1879 1419,1877.6 1420.1,1876.2 1421.2,1875 1422.2,1873.7 1423.3,1872.6 1424.4,1871.5 1425.4,1870.5 1426.5,1869.5 1427.5,1868.6 1428.6,1867.7 1429.7,1866.9 1430.7,1866.2 1431.8,1865.5 1432.9,1864.9 1433.9,1864.3 1435,1863.8 1436.1,1863.3 1437.1,1862.9 1438.2,1862.5 1439.2,1862.1 1440.3,1861.9 1441.4,1861.6 1442.4,1861.4 1443.5,1861.3 1444.6,1861.2 1445.6,1861.2 1446.7,1861.2 1447.8,1861.2 1448.8,1861.3 1449.9,1861.5 1450.9,1861.6 1452,1861.9 1453.1,1862.2 1454.1,1862.5 1455.2,1862.9 1456.3,1863.3 1457.3,1863.8 1458.4,1864.3 1459.5,1864.9 1460.5,1865.5 1461.6,1866.2 1462.6,1866.9 1463.7,1867.7 1464.8,1868.5 1465.8,1869.4 1466.9,1870.4 1468,1871.4 1469,1872.4 1470.1,1873.5 1471.2,1874.7 1472.2,1876 1473.3,1877.3 1474.3,1878.6 1475.4,1880.1 1476.5,1881.6 1477.5,1883.2 1478.6,1884.8 1479.7,1886.6 1480.7,1888.4 1481.8,1890.3 1482.9,1892.3 1483.9,1894.4 1485,1896.5 1486,1898.8 1487.1,1901.2 1488.2,1903.7 1489.2,1906.3 1490.3,1909.1 1491.4,1912 1492.4,1915 1493.5,1918.2 1494.6,1921.5 1495.6,1925 1496.7,1928.7 1497.7,1932.6 1498.8,1936.7 1499.9,1941.1 1500.9,1945.7 1502,1950.6" fill="none" stroke="#ff0000" stroke-width="13.3" stroke-linejoin="round"/>
<text x="863.8" y="2729.2" font-size="43.3" text-anchor="middle">range (km)</text>
<text transform="translate(127,2114.95) rotate(-90)" font-size="43" text-anchor="middle">Normalized amplitude</text>
<rect x="655.1" y="1613.8" width="121.4" height="145.6" rx="7" fill="#fbfbfe" stroke="#a3a3a3" stroke-width="2.4"/>
<text class="tl" x="674.3" y="1673.8" font-size="40" xml:space="preserve">X <tspan class="v">20</tspan></text>
<text class="tl" x="674.3" y="1729.4" font-size="40" xml:space="preserve">Y <tspan class="v">0</tspan></text>
<rect x="882" y="2411.5" width="233.2" height="145.4" rx="7" fill="#fbfbfe" stroke="#a3a3a3" stroke-width="2.4"/>
<text class="tl" x="901.2" y="2473" font-size="40" xml:space="preserve">X <tspan class="v">42</tspan></text>
<text class="tl" x="901.2" y="2528.2" font-size="40" xml:space="preserve">Y <tspan class="v">-84.9233</tspan></text>
<rect x="1137.2" y="2418.6" width="233.2" height="145.4" rx="7" fill="#fbfbfe" stroke="#a3a3a3" stroke-width="2.4"/>
<text class="tl" x="1156.4" y="2480.1" font-size="40" xml:space="preserve">X <tspan class="v">54</tspan></text>
<text class="tl" x="1156.4" y="2535.3" font-size="40" xml:space="preserve">Y <tspan class="v">-85.5352</tspan></text>
<circle cx="651.07" cy="1610.4" r="12" fill="#fffde8"/><circle cx="651.07" cy="1610.4" r="7" fill="#1c1c1c"/>
<circle cx="1119.08" cy="2560.69" r="12" fill="#fffde8"/><circle cx="1119.08" cy="2560.69" r="7" fill="#1c1c1c"/>
<circle cx="1374.36" cy="2567.54" r="12" fill="#fffde8"/><circle cx="1374.36" cy="2567.54" r="7" fill="#1c1c1c"/>
<text class="cap" x="835" y="2894" font-size="83" text-anchor="middle">(<tspan class="bd">b</tspan>)</text>
<path d="M421.28 3113.4V4164.4M643.47 3113.4V4164.4M865.65 3113.4V4164.4M1087.83 3113.4V4164.4M1310.02 3113.4V4164.4" stroke="#262626" stroke-opacity="0.13" stroke-width="3.1" fill="none"/>
<path d="M199.1 4047.62H1532.2M199.1 3930.84H1532.2M199.1 3814.07H1532.2M199.1 3697.29H1532.2M199.1 3580.51H1532.2M199.1 3463.73H1532.2M199.1 3346.96H1532.2M199.1 3230.18H1532.2" stroke="#262626" stroke-opacity="0.13" stroke-width="3.1" fill="none"/>
<path d="M199.1 3113.4H1532.2V4164.4H199.1ZM199.1 4164.4v-14.9M199.1 3113.4v14.9M421.28 4164.4v-14.9M421.28 3113.4v14.9M643.47 4164.4v-14.9M643.47 3113.4v14.9M865.65 4164.4v-14.9M865.65 3113.4v14.9M1087.83 4164.4v-14.9M1087.83 3113.4v14.9M1310.02 4164.4v-14.9M1310.02 3113.4v14.9M1532.2 4164.4v-14.9M1532.2 3113.4v14.9M199.1 4164.4h14.9M1532.2 4164.4h-14.9M199.1 4047.62h14.9M1532.2 4047.62h-14.9M199.1 3930.84h14.9M1532.2 3930.84h-14.9M199.1 3814.07h14.9M1532.2 3814.07h-14.9M199.1 3697.29h14.9M1532.2 3697.29h-14.9M199.1 3580.51h14.9M1532.2 3580.51h-14.9M199.1 3463.73h14.9M1532.2 3463.73h-14.9M199.1 3346.96h14.9M1532.2 3346.96h-14.9M199.1 3230.18h14.9M1532.2 3230.18h-14.9M199.1 3113.4h14.9M1532.2 3113.4h-14.9" stroke="#262626" stroke-width="3.5" fill="none" stroke-linejoin="miter"/>
<g font-size="41.2">
<text x="197.9" y="4221.9" text-anchor="middle">-90</text>
<text x="420.08" y="4221.9" text-anchor="middle">-60</text>
<text x="642.27" y="4221.9" text-anchor="middle">-30</text>
<text x="864.45" y="4221.9" text-anchor="middle">0</text>
<text x="1086.63" y="4221.9" text-anchor="middle">30</text>
<text x="1308.82" y="4221.9" text-anchor="middle">60</text>
<text x="1531" y="4221.9" text-anchor="middle">90</text>
<text x="180.9" y="4180.4" text-anchor="end">-90</text>
<text x="180.9" y="4063.62" text-anchor="end">-80</text>
<text x="180.9" y="3946.84" text-anchor="end">-70</text>
<text x="180.9" y="3830.07" text-anchor="end">-60</text>
<text x="180.9" y="3713.29" text-anchor="end">-50</text>
<text x="180.9" y="3596.51" text-anchor="end">-40</text>
<text x="180.9" y="3479.73" text-anchor="end">-30</text>
<text x="180.9" y="3362.96" text-anchor="end">-20</text>
<text x="180.9" y="3246.18" text-anchor="end">-10</text>
<text x="180.9" y="3129.4" text-anchor="end">0</text>
</g>
<polyline clip-path="url(#cpc)" points="199.1,3586.8 206.5,3586.5 213.9,3585.7 221.3,3584.4 228.7,3582.6 236.1,3580.4 243.5,3577.8 250.9,3575 258.3,3571.9 265.8,3568.8 273.2,3565.7 280.6,3562.7 288,3559.9 295.4,3557.5 302.8,3555.5 310.2,3554.2 317.6,3553.6 325,3553.8 332.4,3555.1 339.8,3557.7 347.2,3561.7 354.6,3567.4 362,3575.1 369.4,3583.3 376.8,3594.4 384.3,3609 391.7,3628 399.1,3652.7 406.5,3685.3 413.9,3732 421.3,3812.9 428.7,3962.4 436.1,4041.8 443.5,4052.3 450.9,3930.8 458.3,3819.9 465.7,3760 473.1,3703.6 480.5,3664.5 487.9,3636.6 495.3,3617.1 502.8,3604.8 510.2,3599 517.6,3599.9 525,3607.8 532.4,3623.9 539.8,3650.3 547.2,3691.5 554.6,3757.8 562,3887.3 569.4,4002.8 576.8,4154.6 584.2,3797.2 591.6,3693.4 599,3628.9 606.4,3583.9 613.8,3551.7 621.2,3529.2 628.7,3514.9 636.1,3508 643.5,3508.5 650.9,3516.7 658.3,3534 665.7,3562.9 673.1,3609.4 680.5,3693.2 687.9,3972.2 695.3,3719.4 702.7,3687.5 710.1,3699.9 717.5,3763.1 724.9,3945.7 732.3,3739.7 739.7,3695.6 747.2,3692.4 754.6,3726.2 762,3847.9 769.4,3801 776.8,3751.2 784.2,3837.2 791.6,3710 799,3589.5 806.4,3521.5 813.8,3476.3 821.2,3445.9 828.6,3427.4 836,3419.8 843.4,3423.6 850.8,3440.7 858.2,3476.1 865.7,3542.1 873.1,3686.6 880.5,3977.6 887.9,3593.6 895.3,3451.8 902.7,3364.9 910.1,3302.3 917.5,3254.4 924.9,3216.6 932.3,3186.5 939.7,3162.7 947.1,3144.1 954.5,3130.3 961.9,3120.7 969.3,3115.2 976.7,3113.4 984.1,3115.4 991.6,3121.1 999,3130.6 1006.4,3144.1 1013.8,3161.8 1021.2,3184.3 1028.6,3212.1 1036,3246.3 1043.4,3288.5 1050.8,3341.6 1058.2,3411.1 1065.6,3510.1 1073,3685 1080.4,4126.4 1087.8,3636.7 1095.2,3530.5 1102.6,3474.3 1110.1,3441.4 1117.5,3423.1 1124.9,3415.3 1132.3,3416.1 1139.7,3424.5 1147.1,3440.5 1154.5,3464.4 1161.9,3497.5 1169.3,3542.3 1176.7,3604.3 1184.1,3696.6 1191.5,3869 1198.9,4059.3 1206.3,3790.2 1213.7,3677.7 1221.1,3613 1228.5,3570.7 1236,3541.6 1243.4,3521.7 1250.8,3508.8 1258.2,3501.4 1265.6,3498.7 1273,3500.1 1280.4,3505.4 1287.8,3514.2 1295.2,3526.7 1302.6,3542.8 1310,3562.7 1317.4,3587 1324.8,3616.3 1332.2,3651.8 1339.6,3695.6 1347,3751.7 1354.5,3829 1361.9,3958.1 1369.3,4117.7 1376.7,4068.6 1384.1,4018.4 1391.5,3892.3 1398.9,3787.4 1406.3,3743.3 1413.7,3710.5 1421.1,3685.1 1428.5,3665 1435.9,3648.8 1443.3,3635.6 1450.7,3624.8 1458.1,3616 1465.5,3608.8 1473,3603 1480.4,3598.4 1487.8,3594.7 1495.2,3591.9 1502.6,3589.8 1510,3588.5 1517.4,3587.7 1524.8,3587.5 1532.2,3587.9" fill="none" stroke="#ff0000" stroke-width="13.5" stroke-linejoin="round"/>
<text x="865.65" y="4282.4" font-size="46" text-anchor="middle">angle (°)</text>
<text transform="translate(96.3,3639.9) rotate(-90)" font-size="44.8" text-anchor="middle">Normalized amplitude</text>
<rect x="980" y="3118.4" width="127.9" height="150" rx="7" fill="#fbfbfe" stroke="#a3a3a3" stroke-width="3"/>
<text class="tl" x="1000.5" y="3180.5" font-size="41.5" xml:space="preserve">X <tspan class="v">15</tspan></text>
<text class="tl" x="1000.5" y="3238.1" font-size="41.5" xml:space="preserve">Y <tspan class="v">0</tspan></text>
<circle cx="976.74" cy="3113.4" r="12.5" fill="#fffde8"/><circle cx="976.74" cy="3113.4" r="7.5" fill="#1c1c1c"/>
<text class="cap" x="835.5" y="4445" font-size="83" text-anchor="middle">(<tspan class="bd">c</tspan>)</text>
</svg>
</body></html>
